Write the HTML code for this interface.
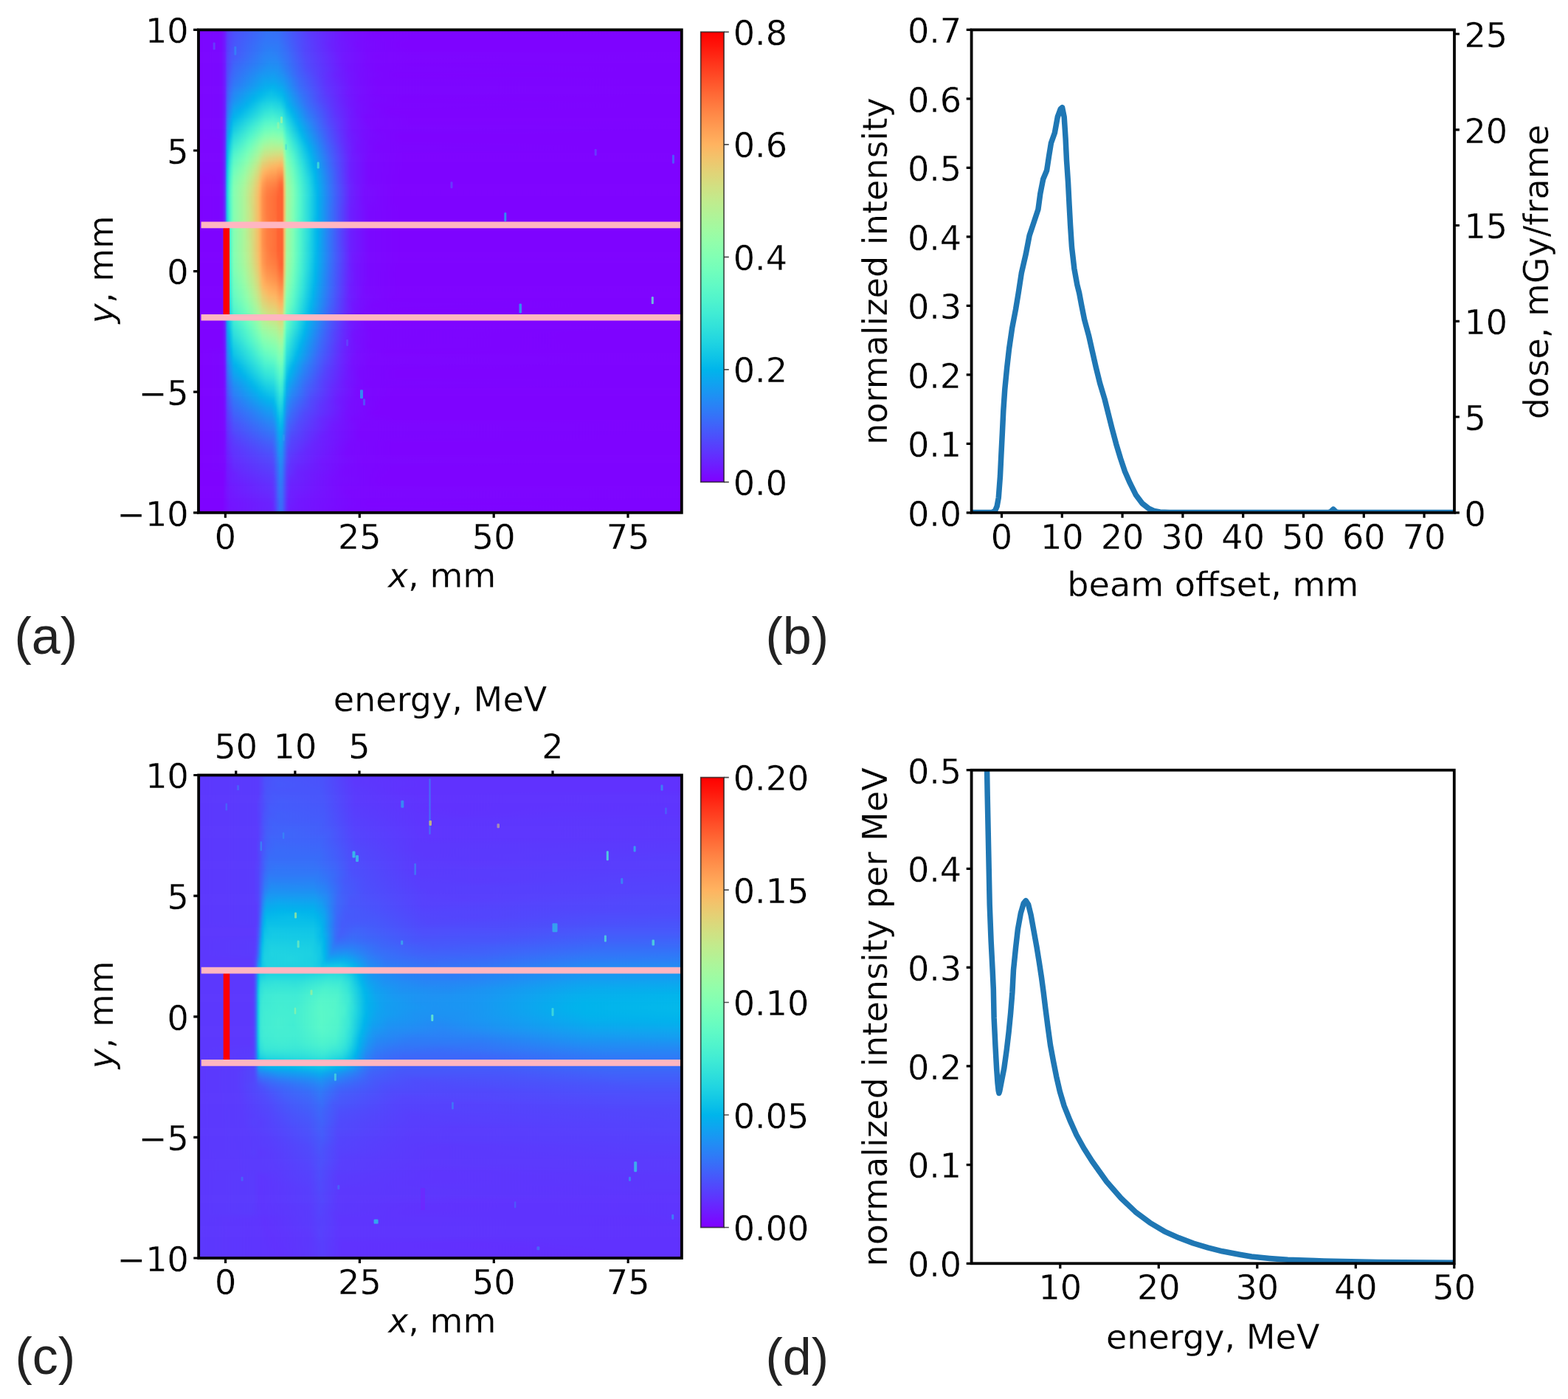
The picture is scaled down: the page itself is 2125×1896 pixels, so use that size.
<!DOCTYPE html>
<html lang="en">
<head>
<meta charset="utf-8">
<title>Beam profile and energy spectrum</title>
<style>
html,body{margin:0;padding:0;background:#fff}
body{width:2125px;height:1896px;overflow:hidden}
svg{display:block;filter:blur(0.6px)}
.t{font-family:"DejaVu Sans","Liberation Sans",sans-serif;font-size:46.1px;fill:#000;stroke:#fff;stroke-width:0.3px;paint-order:fill stroke}
.i{font-style:italic}
.p{font-family:"Liberation Sans","DejaVu Sans",sans-serif;font-size:70px;fill:#222}
</style>
</head>
<body>
<svg width="2125" height="1896" viewBox="0 0 2125 1896">
<defs>
<linearGradient id="a0"><stop offset="0" stop-color="#7c06ff"/><stop offset="0.0457" stop-color="#7a09ff"/><stop offset="0.0502" stop-color="#7610ff"/><stop offset="0.0548" stop-color="#6e1cff"/><stop offset="0.0594" stop-color="#5c38fd"/><stop offset="0.0639" stop-color="#5444fd"/><stop offset="0.0776" stop-color="#4a53fb"/><stop offset="0.1416" stop-color="#3670f8"/><stop offset="0.1598" stop-color="#3670f8"/><stop offset="0.1826" stop-color="#4062fa"/><stop offset="0.2237" stop-color="#583efd"/><stop offset="0.3059" stop-color="#7413ff"/><stop offset="0.3653" stop-color="#7c06ff"/><stop offset="1" stop-color="#7e03ff"/></linearGradient>
<linearGradient id="a1"><stop offset="0" stop-color="#7c06ff"/><stop offset="0.0457" stop-color="#7a09ff"/><stop offset="0.0502" stop-color="#7610ff"/><stop offset="0.0548" stop-color="#6e1cff"/><stop offset="0.0594" stop-color="#5c38fd"/><stop offset="0.0639" stop-color="#5444fd"/><stop offset="0.0776" stop-color="#4a53fb"/><stop offset="0.1416" stop-color="#3670f8"/><stop offset="0.1598" stop-color="#3670f8"/><stop offset="0.1826" stop-color="#4062fa"/><stop offset="0.2237" stop-color="#583efd"/><stop offset="0.3059" stop-color="#7413ff"/><stop offset="0.3653" stop-color="#7c06ff"/><stop offset="1" stop-color="#7e03ff"/></linearGradient>
<linearGradient id="a2"><stop offset="0" stop-color="#7c06ff"/><stop offset="0.0457" stop-color="#7a09ff"/><stop offset="0.0502" stop-color="#7610ff"/><stop offset="0.0548" stop-color="#6e1cff"/><stop offset="0.0594" stop-color="#5a3bfd"/><stop offset="0.0731" stop-color="#4c50fc"/><stop offset="0.1416" stop-color="#3473f8"/><stop offset="0.1644" stop-color="#3670f8"/><stop offset="0.2329" stop-color="#5c38fd"/><stop offset="0.3059" stop-color="#7413ff"/><stop offset="0.3653" stop-color="#7c06ff"/><stop offset="1" stop-color="#7e03ff"/></linearGradient>
<linearGradient id="a3"><stop offset="0" stop-color="#7c06ff"/><stop offset="0.0457" stop-color="#7a09ff"/><stop offset="0.0502" stop-color="#7610ff"/><stop offset="0.0548" stop-color="#6e1cff"/><stop offset="0.0594" stop-color="#5a3bfd"/><stop offset="0.0639" stop-color="#5247fc"/><stop offset="0.0776" stop-color="#4856fb"/><stop offset="0.1416" stop-color="#3176f8"/><stop offset="0.1644" stop-color="#3473f8"/><stop offset="0.2283" stop-color="#583efd"/><stop offset="0.2922" stop-color="#7019ff"/><stop offset="0.347" stop-color="#7a09ff"/><stop offset="0.4429" stop-color="#7e03ff"/><stop offset="1" stop-color="#7e03ff"/></linearGradient>
<linearGradient id="a4"><stop offset="0" stop-color="#7c06ff"/><stop offset="0.0457" stop-color="#7a09ff"/><stop offset="0.0502" stop-color="#7610ff"/><stop offset="0.0548" stop-color="#6e1cff"/><stop offset="0.0594" stop-color="#583efd"/><stop offset="0.0731" stop-color="#4856fb"/><stop offset="0.137" stop-color="#3079f7"/><stop offset="0.1644" stop-color="#3079f7"/><stop offset="0.2146" stop-color="#504afc"/><stop offset="0.274" stop-color="#6a22fe"/><stop offset="0.3288" stop-color="#780dff"/><stop offset="0.4201" stop-color="#7e03ff"/><stop offset="1" stop-color="#7e03ff"/></linearGradient>
<linearGradient id="a5"><stop offset="0" stop-color="#7c06ff"/><stop offset="0.0457" stop-color="#7a09ff"/><stop offset="0.0502" stop-color="#7610ff"/><stop offset="0.0548" stop-color="#6e1cff"/><stop offset="0.0594" stop-color="#583efd"/><stop offset="0.0685" stop-color="#4a53fb"/><stop offset="0.0959" stop-color="#3e65fa"/><stop offset="0.1461" stop-color="#2981f6"/><stop offset="0.1644" stop-color="#2e7bf7"/><stop offset="0.1826" stop-color="#386df9"/><stop offset="0.2192" stop-color="#5247fc"/><stop offset="0.2877" stop-color="#6e1cff"/><stop offset="0.347" stop-color="#7a09ff"/><stop offset="0.4429" stop-color="#7e03ff"/><stop offset="1" stop-color="#7e03ff"/></linearGradient>
<linearGradient id="a6"><stop offset="0" stop-color="#7c06ff"/><stop offset="0.0457" stop-color="#7a09ff"/><stop offset="0.0502" stop-color="#7610ff"/><stop offset="0.0548" stop-color="#6e1cff"/><stop offset="0.0594" stop-color="#5641fd"/><stop offset="0.0685" stop-color="#4856fb"/><stop offset="0.137" stop-color="#2884f6"/><stop offset="0.1598" stop-color="#2884f6"/><stop offset="0.1872" stop-color="#386df9"/><stop offset="0.2192" stop-color="#504afc"/><stop offset="0.3014" stop-color="#7216ff"/><stop offset="0.3653" stop-color="#7c06ff"/><stop offset="1" stop-color="#7e03ff"/></linearGradient>
<linearGradient id="a7"><stop offset="0" stop-color="#7c06ff"/><stop offset="0.0457" stop-color="#7a09ff"/><stop offset="0.0502" stop-color="#7610ff"/><stop offset="0.0548" stop-color="#6e1cff"/><stop offset="0.0594" stop-color="#5444fd"/><stop offset="0.0731" stop-color="#4062fa"/><stop offset="0.1461" stop-color="#218cf4"/><stop offset="0.1644" stop-color="#2489f5"/><stop offset="0.2237" stop-color="#504afc"/><stop offset="0.2968" stop-color="#7019ff"/><stop offset="0.347" stop-color="#7a09ff"/><stop offset="0.4429" stop-color="#7e03ff"/><stop offset="1" stop-color="#7e03ff"/></linearGradient>
<linearGradient id="a8"><stop offset="0" stop-color="#7c06ff"/><stop offset="0.0457" stop-color="#7a09ff"/><stop offset="0.0502" stop-color="#7610ff"/><stop offset="0.0548" stop-color="#6e1cff"/><stop offset="0.0594" stop-color="#5247fc"/><stop offset="0.0731" stop-color="#3c68f9"/><stop offset="0.1416" stop-color="#1c93f3"/><stop offset="0.1644" stop-color="#1e91f3"/><stop offset="0.2237" stop-color="#4e4dfc"/><stop offset="0.3105" stop-color="#7413ff"/><stop offset="0.3699" stop-color="#7c06ff"/><stop offset="0.9772" stop-color="#7e03ff"/><stop offset="1" stop-color="#7e03ff"/></linearGradient>
<linearGradient id="a9"><stop offset="0" stop-color="#7c06ff"/><stop offset="0.0457" stop-color="#7a09ff"/><stop offset="0.0502" stop-color="#7610ff"/><stop offset="0.0548" stop-color="#6c1fff"/><stop offset="0.0594" stop-color="#504afc"/><stop offset="0.0685" stop-color="#3e65fa"/><stop offset="0.0776" stop-color="#3670f8"/><stop offset="0.1324" stop-color="#1898f2"/><stop offset="0.1553" stop-color="#149df1"/><stop offset="0.1735" stop-color="#1e91f3"/><stop offset="0.2055" stop-color="#3e65fa"/><stop offset="0.2511" stop-color="#5a3bfd"/><stop offset="0.2831" stop-color="#6a22fe"/><stop offset="0.3333" stop-color="#780dff"/><stop offset="0.411" stop-color="#7e03ff"/><stop offset="1" stop-color="#7e03ff"/></linearGradient>
<linearGradient id="a10"><stop offset="0" stop-color="#7c06ff"/><stop offset="0.0457" stop-color="#7a09ff"/><stop offset="0.0502" stop-color="#7610ff"/><stop offset="0.0548" stop-color="#6c1fff"/><stop offset="0.0594" stop-color="#4e4dfc"/><stop offset="0.0639" stop-color="#425ffa"/><stop offset="0.0731" stop-color="#3473f8"/><stop offset="0.137" stop-color="#0ea5ef"/><stop offset="0.1598" stop-color="#0ea5ef"/><stop offset="0.1781" stop-color="#1996f3"/><stop offset="0.21" stop-color="#3c68f9"/><stop offset="0.2648" stop-color="#6032fe"/><stop offset="0.3151" stop-color="#7413ff"/><stop offset="0.3653" stop-color="#7c06ff"/><stop offset="1" stop-color="#7e03ff"/></linearGradient>
<linearGradient id="a11"><stop offset="0" stop-color="#7c06ff"/><stop offset="0.0457" stop-color="#7a09ff"/><stop offset="0.0502" stop-color="#7610ff"/><stop offset="0.0548" stop-color="#6c1fff"/><stop offset="0.0594" stop-color="#4a53fb"/><stop offset="0.0639" stop-color="#3e65fa"/><stop offset="0.0731" stop-color="#2e7bf7"/><stop offset="0.137" stop-color="#06aeed"/><stop offset="0.1553" stop-color="#01b3ec"/><stop offset="0.1735" stop-color="#0ca7ef"/><stop offset="0.21" stop-color="#386df9"/><stop offset="0.2648" stop-color="#5e35fe"/><stop offset="0.3242" stop-color="#7610ff"/><stop offset="0.3744" stop-color="#7c06ff"/><stop offset="0.8813" stop-color="#7e03ff"/><stop offset="1" stop-color="#7e03ff"/></linearGradient>
<linearGradient id="a12"><stop offset="0" stop-color="#7c06ff"/><stop offset="0.0457" stop-color="#7a09ff"/><stop offset="0.0502" stop-color="#7610ff"/><stop offset="0.0548" stop-color="#6c1fff"/><stop offset="0.0594" stop-color="#4659fb"/><stop offset="0.0639" stop-color="#386df9"/><stop offset="0.0731" stop-color="#2686f5"/><stop offset="0.1279" stop-color="#00b5eb"/><stop offset="0.1507" stop-color="#0ac0e8"/><stop offset="0.1689" stop-color="#02b7eb"/><stop offset="0.1735" stop-color="#01b3ec"/><stop offset="0.21" stop-color="#3176f8"/><stop offset="0.2648" stop-color="#5c38fd"/><stop offset="0.3105" stop-color="#7216ff"/><stop offset="0.3653" stop-color="#7c06ff"/><stop offset="1" stop-color="#7e03ff"/></linearGradient>
<linearGradient id="a13"><stop offset="0" stop-color="#7c06ff"/><stop offset="0.0457" stop-color="#7a09ff"/><stop offset="0.0502" stop-color="#7610ff"/><stop offset="0.0548" stop-color="#6a22fe"/><stop offset="0.0594" stop-color="#425ffa"/><stop offset="0.0685" stop-color="#2884f6"/><stop offset="0.0776" stop-color="#1c93f3"/><stop offset="0.1142" stop-color="#00b5eb"/><stop offset="0.1416" stop-color="#14cae5"/><stop offset="0.1598" stop-color="#14cae5"/><stop offset="0.1735" stop-color="#0ac0e8"/><stop offset="0.1781" stop-color="#02b7eb"/><stop offset="0.2146" stop-color="#3079f7"/><stop offset="0.2511" stop-color="#504afc"/><stop offset="0.2968" stop-color="#6a22fe"/><stop offset="0.3333" stop-color="#780dff"/><stop offset="0.4247" stop-color="#7e03ff"/><stop offset="1" stop-color="#7e03ff"/></linearGradient>
<linearGradient id="a14"><stop offset="0" stop-color="#7c06ff"/><stop offset="0.0457" stop-color="#7a09ff"/><stop offset="0.0502" stop-color="#7610ff"/><stop offset="0.0548" stop-color="#6a22fe"/><stop offset="0.0594" stop-color="#3c68f9"/><stop offset="0.0639" stop-color="#2c7ef7"/><stop offset="0.0731" stop-color="#169bf2"/><stop offset="0.1005" stop-color="#01b3ec"/><stop offset="0.1324" stop-color="#1fd3e1"/><stop offset="0.1507" stop-color="#27dade"/><stop offset="0.1689" stop-color="#1fd3e1"/><stop offset="0.1781" stop-color="#0fc4e7"/><stop offset="0.1826" stop-color="#04b9ea"/><stop offset="0.1872" stop-color="#04b0ed"/><stop offset="0.2237" stop-color="#3473f8"/><stop offset="0.274" stop-color="#5c38fd"/><stop offset="0.3151" stop-color="#7216ff"/><stop offset="0.3653" stop-color="#7c06ff"/><stop offset="1" stop-color="#7e03ff"/></linearGradient>
<linearGradient id="a15"><stop offset="0" stop-color="#7c06ff"/><stop offset="0.0457" stop-color="#7a09ff"/><stop offset="0.0502" stop-color="#7610ff"/><stop offset="0.0548" stop-color="#6a22fe"/><stop offset="0.0594" stop-color="#386df9"/><stop offset="0.0639" stop-color="#2686f5"/><stop offset="0.0731" stop-color="#0ca7ef"/><stop offset="0.0868" stop-color="#01b3ec"/><stop offset="0.1096" stop-color="#14cae5"/><stop offset="0.137" stop-color="#31e1da"/><stop offset="0.1507" stop-color="#37e6d8"/><stop offset="0.1689" stop-color="#2fe0db"/><stop offset="0.1735" stop-color="#2adddd"/><stop offset="0.1826" stop-color="#10c6e6"/><stop offset="0.1918" stop-color="#00b5eb"/><stop offset="0.2283" stop-color="#3176f8"/><stop offset="0.2831" stop-color="#6032fe"/><stop offset="0.3288" stop-color="#7610ff"/><stop offset="0.3973" stop-color="#7e03ff"/><stop offset="1" stop-color="#7e03ff"/></linearGradient>
<linearGradient id="a16"><stop offset="0" stop-color="#7c06ff"/><stop offset="0.0457" stop-color="#7a09ff"/><stop offset="0.0502" stop-color="#7610ff"/><stop offset="0.0548" stop-color="#6826fe"/><stop offset="0.0594" stop-color="#3176f8"/><stop offset="0.0639" stop-color="#1e91f3"/><stop offset="0.0685" stop-color="#0ea5ef"/><stop offset="0.0731" stop-color="#01b3ec"/><stop offset="0.1005" stop-color="#18cde4"/><stop offset="0.137" stop-color="#42edd3"/><stop offset="0.1553" stop-color="#49f1d0"/><stop offset="0.1735" stop-color="#3dead5"/><stop offset="0.1826" stop-color="#1fd3e1"/><stop offset="0.1963" stop-color="#04b9ea"/><stop offset="0.2009" stop-color="#04b0ed"/><stop offset="0.2237" stop-color="#2686f5"/><stop offset="0.2785" stop-color="#5a3bfd"/><stop offset="0.3151" stop-color="#7019ff"/><stop offset="0.347" stop-color="#7a09ff"/><stop offset="0.4429" stop-color="#7e03ff"/><stop offset="1" stop-color="#7e03ff"/></linearGradient>
<linearGradient id="a17"><stop offset="0" stop-color="#7c06ff"/><stop offset="0.0457" stop-color="#7a09ff"/><stop offset="0.0502" stop-color="#7610ff"/><stop offset="0.0548" stop-color="#6826fe"/><stop offset="0.0594" stop-color="#2981f6"/><stop offset="0.0639" stop-color="#149df1"/><stop offset="0.0685" stop-color="#04b0ed"/><stop offset="0.0731" stop-color="#0ac0e8"/><stop offset="0.1142" stop-color="#39e7d7"/><stop offset="0.137" stop-color="#57f7ca"/><stop offset="0.1507" stop-color="#5df9c7"/><stop offset="0.1689" stop-color="#57f7ca"/><stop offset="0.1735" stop-color="#51f4cc"/><stop offset="0.1826" stop-color="#2ddedc"/><stop offset="0.2009" stop-color="#07bbea"/><stop offset="0.2055" stop-color="#01b3ec"/><stop offset="0.2329" stop-color="#2884f6"/><stop offset="0.2694" stop-color="#504afc"/><stop offset="0.3151" stop-color="#7019ff"/><stop offset="0.3516" stop-color="#7a09ff"/><stop offset="0.4384" stop-color="#7e03ff"/><stop offset="1" stop-color="#7e03ff"/></linearGradient>
<linearGradient id="a18"><stop offset="0" stop-color="#7c06ff"/><stop offset="0.0457" stop-color="#7a09ff"/><stop offset="0.0502" stop-color="#7610ff"/><stop offset="0.0548" stop-color="#6629fe"/><stop offset="0.0594" stop-color="#2489f5"/><stop offset="0.0639" stop-color="#0ca7ef"/><stop offset="0.0685" stop-color="#07bbea"/><stop offset="0.0731" stop-color="#17cbe4"/><stop offset="0.1096" stop-color="#44eed2"/><stop offset="0.137" stop-color="#6afdc0"/><stop offset="0.1553" stop-color="#72febb"/><stop offset="0.1689" stop-color="#6dfdbf"/><stop offset="0.1735" stop-color="#67fcc2"/><stop offset="0.1826" stop-color="#3ae8d6"/><stop offset="0.21" stop-color="#00b5eb"/><stop offset="0.2511" stop-color="#386df9"/><stop offset="0.2922" stop-color="#6032fe"/><stop offset="0.3196" stop-color="#7216ff"/><stop offset="0.3699" stop-color="#7c06ff"/><stop offset="0.9772" stop-color="#7e03ff"/><stop offset="1" stop-color="#7e03ff"/></linearGradient>
<linearGradient id="a19"><stop offset="0" stop-color="#7c06ff"/><stop offset="0.0457" stop-color="#7a09ff"/><stop offset="0.0502" stop-color="#7610ff"/><stop offset="0.0548" stop-color="#6629fe"/><stop offset="0.0594" stop-color="#1c93f3"/><stop offset="0.0639" stop-color="#01b3ec"/><stop offset="0.0731" stop-color="#24d8df"/><stop offset="0.1096" stop-color="#54f6cb"/><stop offset="0.137" stop-color="#81ffb4"/><stop offset="0.1553" stop-color="#88ffaf"/><stop offset="0.1689" stop-color="#84ffb2"/><stop offset="0.1735" stop-color="#7fffb5"/><stop offset="0.1781" stop-color="#62fbc4"/><stop offset="0.1826" stop-color="#49f1d0"/><stop offset="0.2055" stop-color="#14cae5"/><stop offset="0.2146" stop-color="#02b7eb"/><stop offset="0.2694" stop-color="#4856fb"/><stop offset="0.3105" stop-color="#6c1fff"/><stop offset="0.3425" stop-color="#780dff"/><stop offset="0.4155" stop-color="#7e03ff"/><stop offset="1" stop-color="#7e03ff"/></linearGradient>
<linearGradient id="a20"><stop offset="0" stop-color="#7c06ff"/><stop offset="0.0457" stop-color="#7c06ff"/><stop offset="0.0502" stop-color="#7610ff"/><stop offset="0.0548" stop-color="#642cfe"/><stop offset="0.0594" stop-color="#149df1"/><stop offset="0.0639" stop-color="#08bee9"/><stop offset="0.0685" stop-color="#1fd3e1"/><stop offset="0.0731" stop-color="#31e1da"/><stop offset="0.105" stop-color="#5ffac6"/><stop offset="0.1324" stop-color="#91feab"/><stop offset="0.1507" stop-color="#a1faa1"/><stop offset="0.1735" stop-color="#99fca6"/><stop offset="0.1781" stop-color="#77ffb9"/><stop offset="0.1826" stop-color="#59f8c9"/><stop offset="0.2009" stop-color="#2adddd"/><stop offset="0.2146" stop-color="#0dc2e8"/><stop offset="0.2192" stop-color="#04b9ea"/><stop offset="0.2237" stop-color="#04b0ed"/><stop offset="0.2694" stop-color="#445cfb"/><stop offset="0.2968" stop-color="#6032fe"/><stop offset="0.3196" stop-color="#7019ff"/><stop offset="0.3562" stop-color="#7a09ff"/><stop offset="0.4247" stop-color="#7e03ff"/><stop offset="1" stop-color="#7e03ff"/></linearGradient>
<linearGradient id="a21"><stop offset="0" stop-color="#7c06ff"/><stop offset="0.0457" stop-color="#7c06ff"/><stop offset="0.0502" stop-color="#7610ff"/><stop offset="0.0548" stop-color="#622ffe"/><stop offset="0.0594" stop-color="#0ca7ef"/><stop offset="0.0639" stop-color="#12c8e6"/><stop offset="0.0685" stop-color="#2adddd"/><stop offset="0.0731" stop-color="#3febd5"/><stop offset="0.105" stop-color="#6ffebe"/><stop offset="0.1279" stop-color="#9dfba4"/><stop offset="0.137" stop-color="#aff498"/><stop offset="0.1507" stop-color="#b6f193"/><stop offset="0.1689" stop-color="#b6f193"/><stop offset="0.1735" stop-color="#b3f396"/><stop offset="0.1781" stop-color="#8bfeae"/><stop offset="0.1826" stop-color="#67fcc2"/><stop offset="0.2009" stop-color="#37e6d8"/><stop offset="0.2192" stop-color="#0fc4e7"/><stop offset="0.2283" stop-color="#01b3ec"/><stop offset="0.2648" stop-color="#396bf9"/><stop offset="0.3059" stop-color="#6629fe"/><stop offset="0.3288" stop-color="#7413ff"/><stop offset="0.3699" stop-color="#7c06ff"/><stop offset="0.8767" stop-color="#7e03ff"/><stop offset="1" stop-color="#7e03ff"/></linearGradient>
<linearGradient id="a22"><stop offset="0" stop-color="#7c06ff"/><stop offset="0.0457" stop-color="#7c06ff"/><stop offset="0.0502" stop-color="#7610ff"/><stop offset="0.0548" stop-color="#622ffe"/><stop offset="0.0594" stop-color="#06aeed"/><stop offset="0.0639" stop-color="#1dd1e2"/><stop offset="0.0685" stop-color="#37e6d8"/><stop offset="0.0731" stop-color="#4df3ce"/><stop offset="0.1005" stop-color="#77ffb9"/><stop offset="0.1233" stop-color="#a4f89f"/><stop offset="0.137" stop-color="#c4e88a"/><stop offset="0.1553" stop-color="#cfe184"/><stop offset="0.1689" stop-color="#d1e082"/><stop offset="0.1735" stop-color="#cde385"/><stop offset="0.1781" stop-color="#9ffaa2"/><stop offset="0.1826" stop-color="#74feba"/><stop offset="0.1963" stop-color="#4ff3cd"/><stop offset="0.2192" stop-color="#17cbe4"/><stop offset="0.2283" stop-color="#07bbea"/><stop offset="0.2329" stop-color="#04b0ed"/><stop offset="0.274" stop-color="#425ffa"/><stop offset="0.3059" stop-color="#642cfe"/><stop offset="0.3196" stop-color="#7019ff"/><stop offset="0.3562" stop-color="#7a09ff"/><stop offset="0.4247" stop-color="#7e03ff"/><stop offset="1" stop-color="#7e03ff"/></linearGradient>
<linearGradient id="a23"><stop offset="0" stop-color="#7c06ff"/><stop offset="0.0457" stop-color="#7c06ff"/><stop offset="0.0502" stop-color="#7610ff"/><stop offset="0.0548" stop-color="#622ffe"/><stop offset="0.0594" stop-color="#02b7eb"/><stop offset="0.0639" stop-color="#27dade"/><stop offset="0.0685" stop-color="#41ecd4"/><stop offset="0.0731" stop-color="#59f8c9"/><stop offset="0.1005" stop-color="#84ffb2"/><stop offset="0.1233" stop-color="#b6f193"/><stop offset="0.1324" stop-color="#d3de81"/><stop offset="0.1461" stop-color="#e3d176"/><stop offset="0.1689" stop-color="#ebca70"/><stop offset="0.1735" stop-color="#e6cd73"/><stop offset="0.1781" stop-color="#b1f397"/><stop offset="0.1826" stop-color="#81ffb4"/><stop offset="0.1963" stop-color="#59f8c9"/><stop offset="0.2146" stop-color="#29dbde"/><stop offset="0.2329" stop-color="#04b9ea"/><stop offset="0.2374" stop-color="#06aeed"/><stop offset="0.2785" stop-color="#445cfb"/><stop offset="0.3151" stop-color="#6c1fff"/><stop offset="0.3516" stop-color="#7a09ff"/><stop offset="0.4292" stop-color="#7e03ff"/><stop offset="1" stop-color="#7e03ff"/></linearGradient>
<linearGradient id="a24"><stop offset="0" stop-color="#7c06ff"/><stop offset="0.0457" stop-color="#7c06ff"/><stop offset="0.0502" stop-color="#7610ff"/><stop offset="0.0548" stop-color="#6032fe"/><stop offset="0.0594" stop-color="#08bee9"/><stop offset="0.0639" stop-color="#2fe0db"/><stop offset="0.0685" stop-color="#4df3ce"/><stop offset="0.0731" stop-color="#64fbc3"/><stop offset="0.1005" stop-color="#93fda9"/><stop offset="0.1187" stop-color="#bded8f"/><stop offset="0.1279" stop-color="#d6db7e"/><stop offset="0.1324" stop-color="#e6cd73"/><stop offset="0.1507" stop-color="#f9bb66"/><stop offset="0.1644" stop-color="#ffb562"/><stop offset="0.1689" stop-color="#ffb05f"/><stop offset="0.1735" stop-color="#ffb562"/><stop offset="0.1781" stop-color="#c3ea8c"/><stop offset="0.1826" stop-color="#8dfead"/><stop offset="0.1963" stop-color="#64fbc3"/><stop offset="0.2146" stop-color="#32e3da"/><stop offset="0.2374" stop-color="#00b5eb"/><stop offset="0.2785" stop-color="#425ffa"/><stop offset="0.3151" stop-color="#6c1fff"/><stop offset="0.3516" stop-color="#7a09ff"/><stop offset="0.4292" stop-color="#7e03ff"/><stop offset="1" stop-color="#7e03ff"/></linearGradient>
<linearGradient id="a25"><stop offset="0" stop-color="#7c06ff"/><stop offset="0.0457" stop-color="#7c06ff"/><stop offset="0.0502" stop-color="#7610ff"/><stop offset="0.0548" stop-color="#6032fe"/><stop offset="0.0594" stop-color="#0fc4e7"/><stop offset="0.0639" stop-color="#37e6d8"/><stop offset="0.0685" stop-color="#54f6cb"/><stop offset="0.0731" stop-color="#6ffebe"/><stop offset="0.0959" stop-color="#96fca7"/><stop offset="0.1142" stop-color="#c1eb8d"/><stop offset="0.1233" stop-color="#d6db7e"/><stop offset="0.1324" stop-color="#f6be68"/><stop offset="0.137" stop-color="#ffb562"/><stop offset="0.1507" stop-color="#ffa759"/><stop offset="0.1598" stop-color="#ffa558"/><stop offset="0.1644" stop-color="#ff9b52"/><stop offset="0.1735" stop-color="#ff9b52"/><stop offset="0.1781" stop-color="#d3de81"/><stop offset="0.1826" stop-color="#96fca7"/><stop offset="0.1963" stop-color="#6dfdbf"/><stop offset="0.2146" stop-color="#39e7d7"/><stop offset="0.2374" stop-color="#07bbea"/><stop offset="0.242" stop-color="#01b3ec"/><stop offset="0.2694" stop-color="#3176f8"/><stop offset="0.3059" stop-color="#622ffe"/><stop offset="0.3151" stop-color="#6c1fff"/><stop offset="0.3516" stop-color="#7a09ff"/><stop offset="0.4201" stop-color="#7e03ff"/><stop offset="1" stop-color="#7e03ff"/></linearGradient>
<linearGradient id="a26"><stop offset="0" stop-color="#7e03ff"/><stop offset="0.0457" stop-color="#7c06ff"/><stop offset="0.0502" stop-color="#7610ff"/><stop offset="0.0548" stop-color="#5e35fe"/><stop offset="0.0594" stop-color="#12c8e6"/><stop offset="0.0639" stop-color="#3dead5"/><stop offset="0.0685" stop-color="#5df9c7"/><stop offset="0.0731" stop-color="#79ffb8"/><stop offset="0.0959" stop-color="#a1faa1"/><stop offset="0.1096" stop-color="#c1eb8d"/><stop offset="0.1233" stop-color="#e3d176"/><stop offset="0.1324" stop-color="#ffae5e"/><stop offset="0.1416" stop-color="#ff9b52"/><stop offset="0.1598" stop-color="#ff914c"/><stop offset="0.1689" stop-color="#ff8143"/><stop offset="0.1735" stop-color="#ff8143"/><stop offset="0.1781" stop-color="#dfd579"/><stop offset="0.1826" stop-color="#9ffaa2"/><stop offset="0.1963" stop-color="#74feba"/><stop offset="0.21" stop-color="#4af2cf"/><stop offset="0.2283" stop-color="#21d5e1"/><stop offset="0.242" stop-color="#02b7eb"/><stop offset="0.2877" stop-color="#4a53fb"/><stop offset="0.3151" stop-color="#6c1fff"/><stop offset="0.3516" stop-color="#7a09ff"/><stop offset="0.4201" stop-color="#7e03ff"/><stop offset="1" stop-color="#7e03ff"/></linearGradient>
<linearGradient id="a27"><stop offset="0" stop-color="#7e03ff"/><stop offset="0.0457" stop-color="#7c06ff"/><stop offset="0.0502" stop-color="#7610ff"/><stop offset="0.0548" stop-color="#5e35fe"/><stop offset="0.0594" stop-color="#17cbe4"/><stop offset="0.0639" stop-color="#41ecd4"/><stop offset="0.0685" stop-color="#62fbc4"/><stop offset="0.0731" stop-color="#7fffb5"/><stop offset="0.0959" stop-color="#a8f79c"/><stop offset="0.1142" stop-color="#d4dd80"/><stop offset="0.1233" stop-color="#edc86f"/><stop offset="0.1279" stop-color="#ffb562"/><stop offset="0.1324" stop-color="#ffa055"/><stop offset="0.1416" stop-color="#ff8c49"/><stop offset="0.1598" stop-color="#ff8143"/><stop offset="0.1689" stop-color="#ff6b37"/><stop offset="0.1735" stop-color="#ff6d38"/><stop offset="0.1781" stop-color="#ebca70"/><stop offset="0.1826" stop-color="#a4f89f"/><stop offset="0.1963" stop-color="#7affb7"/><stop offset="0.21" stop-color="#4ff3cd"/><stop offset="0.2283" stop-color="#24d8df"/><stop offset="0.242" stop-color="#04b9ea"/><stop offset="0.2466" stop-color="#04b0ed"/><stop offset="0.2785" stop-color="#3c68f9"/><stop offset="0.3105" stop-color="#6629fe"/><stop offset="0.3242" stop-color="#7019ff"/><stop offset="0.3516" stop-color="#7a09ff"/><stop offset="0.4201" stop-color="#7e03ff"/><stop offset="1" stop-color="#7e03ff"/></linearGradient>
<linearGradient id="a28"><stop offset="0" stop-color="#7e03ff"/><stop offset="0.0457" stop-color="#7c06ff"/><stop offset="0.0502" stop-color="#780dff"/><stop offset="0.0548" stop-color="#5e35fe"/><stop offset="0.0594" stop-color="#18cde4"/><stop offset="0.0639" stop-color="#44eed2"/><stop offset="0.0685" stop-color="#67fcc2"/><stop offset="0.0731" stop-color="#83ffb3"/><stop offset="0.0959" stop-color="#aff498"/><stop offset="0.1096" stop-color="#cfe184"/><stop offset="0.1233" stop-color="#f3c26b"/><stop offset="0.1279" stop-color="#ffae5e"/><stop offset="0.1324" stop-color="#ff964f"/><stop offset="0.1416" stop-color="#ff8143"/><stop offset="0.1598" stop-color="#ff733b"/><stop offset="0.1689" stop-color="#ff6232"/><stop offset="0.1735" stop-color="#ff6232"/><stop offset="0.1781" stop-color="#f1c46c"/><stop offset="0.1826" stop-color="#a8f79c"/><stop offset="0.1963" stop-color="#7fffb5"/><stop offset="0.21" stop-color="#52f5cb"/><stop offset="0.2329" stop-color="#1dd1e2"/><stop offset="0.242" stop-color="#07bbea"/><stop offset="0.2466" stop-color="#01b3ec"/><stop offset="0.274" stop-color="#3473f8"/><stop offset="0.3151" stop-color="#6a22fe"/><stop offset="0.3425" stop-color="#780dff"/><stop offset="0.4064" stop-color="#7e03ff"/><stop offset="1" stop-color="#7e03ff"/></linearGradient>
<linearGradient id="a29"><stop offset="0" stop-color="#7e03ff"/><stop offset="0.0457" stop-color="#7c06ff"/><stop offset="0.0502" stop-color="#780dff"/><stop offset="0.0548" stop-color="#5e35fe"/><stop offset="0.0594" stop-color="#1acfe3"/><stop offset="0.0639" stop-color="#47efd1"/><stop offset="0.0685" stop-color="#69fcc1"/><stop offset="0.0731" stop-color="#84ffb2"/><stop offset="0.0959" stop-color="#b1f397"/><stop offset="0.1142" stop-color="#dfd579"/><stop offset="0.1233" stop-color="#f6be68"/><stop offset="0.1279" stop-color="#ffa95b"/><stop offset="0.1324" stop-color="#ff914c"/><stop offset="0.1416" stop-color="#ff7b40"/><stop offset="0.1598" stop-color="#ff6d38"/><stop offset="0.1644" stop-color="#ff6232"/><stop offset="0.1735" stop-color="#ff6232"/><stop offset="0.1781" stop-color="#f4c069"/><stop offset="0.1826" stop-color="#abf69b"/><stop offset="0.1963" stop-color="#81ffb4"/><stop offset="0.21" stop-color="#54f6cb"/><stop offset="0.2283" stop-color="#29dbde"/><stop offset="0.2466" stop-color="#01b3ec"/><stop offset="0.2785" stop-color="#396bf9"/><stop offset="0.3151" stop-color="#6a22fe"/><stop offset="0.3425" stop-color="#780dff"/><stop offset="0.4064" stop-color="#7e03ff"/><stop offset="1" stop-color="#7e03ff"/></linearGradient>
<linearGradient id="a30"><stop offset="0" stop-color="#7e03ff"/><stop offset="0.0457" stop-color="#7c06ff"/><stop offset="0.0502" stop-color="#780dff"/><stop offset="0.0548" stop-color="#5e35fe"/><stop offset="0.0594" stop-color="#1acfe3"/><stop offset="0.0639" stop-color="#47efd1"/><stop offset="0.0685" stop-color="#69fcc1"/><stop offset="0.0731" stop-color="#84ffb2"/><stop offset="0.0959" stop-color="#b1f397"/><stop offset="0.1142" stop-color="#dfd579"/><stop offset="0.1233" stop-color="#f6be68"/><stop offset="0.1279" stop-color="#ffa95b"/><stop offset="0.1324" stop-color="#ff914c"/><stop offset="0.1416" stop-color="#ff7b40"/><stop offset="0.1598" stop-color="#ff6d38"/><stop offset="0.1644" stop-color="#ff6232"/><stop offset="0.1735" stop-color="#ff6232"/><stop offset="0.1781" stop-color="#f4c069"/><stop offset="0.1826" stop-color="#abf69b"/><stop offset="0.1963" stop-color="#81ffb4"/><stop offset="0.21" stop-color="#54f6cb"/><stop offset="0.2329" stop-color="#1dd1e2"/><stop offset="0.2466" stop-color="#01b3ec"/><stop offset="0.2785" stop-color="#396bf9"/><stop offset="0.3151" stop-color="#6a22fe"/><stop offset="0.3425" stop-color="#780dff"/><stop offset="0.4064" stop-color="#7e03ff"/><stop offset="1" stop-color="#7e03ff"/></linearGradient>
<linearGradient id="a31"><stop offset="0" stop-color="#7e03ff"/><stop offset="0.0457" stop-color="#7c06ff"/><stop offset="0.0502" stop-color="#780dff"/><stop offset="0.0548" stop-color="#5e35fe"/><stop offset="0.0594" stop-color="#1acfe3"/><stop offset="0.0639" stop-color="#44eed2"/><stop offset="0.0685" stop-color="#67fcc2"/><stop offset="0.0731" stop-color="#84ffb2"/><stop offset="0.0959" stop-color="#b1f397"/><stop offset="0.105" stop-color="#c6e789"/><stop offset="0.1233" stop-color="#f6be68"/><stop offset="0.1279" stop-color="#ffa95b"/><stop offset="0.1324" stop-color="#ff914c"/><stop offset="0.1416" stop-color="#ff7b40"/><stop offset="0.1598" stop-color="#ff6d38"/><stop offset="0.1644" stop-color="#ff6232"/><stop offset="0.1735" stop-color="#ff6232"/><stop offset="0.1781" stop-color="#f4c069"/><stop offset="0.1826" stop-color="#abf69b"/><stop offset="0.1963" stop-color="#7fffb5"/><stop offset="0.21" stop-color="#54f6cb"/><stop offset="0.2329" stop-color="#1dd1e2"/><stop offset="0.2466" stop-color="#01b3ec"/><stop offset="0.274" stop-color="#3473f8"/><stop offset="0.3151" stop-color="#6c1fff"/><stop offset="0.3516" stop-color="#7a09ff"/><stop offset="0.4201" stop-color="#7e03ff"/><stop offset="1" stop-color="#7e03ff"/></linearGradient>
<linearGradient id="a32"><stop offset="0" stop-color="#7e03ff"/><stop offset="0.0457" stop-color="#7c06ff"/><stop offset="0.0502" stop-color="#780dff"/><stop offset="0.0548" stop-color="#6032fe"/><stop offset="0.0594" stop-color="#1acfe3"/><stop offset="0.0639" stop-color="#44eed2"/><stop offset="0.0685" stop-color="#67fcc2"/><stop offset="0.0731" stop-color="#84ffb2"/><stop offset="0.0959" stop-color="#b1f397"/><stop offset="0.1096" stop-color="#d1e082"/><stop offset="0.1233" stop-color="#f6be68"/><stop offset="0.1279" stop-color="#ffa95b"/><stop offset="0.1324" stop-color="#ff914c"/><stop offset="0.1416" stop-color="#ff7b40"/><stop offset="0.1598" stop-color="#ff6d38"/><stop offset="0.1644" stop-color="#ff6232"/><stop offset="0.1735" stop-color="#ff6232"/><stop offset="0.1781" stop-color="#f4c069"/><stop offset="0.1826" stop-color="#abf69b"/><stop offset="0.1963" stop-color="#7fffb5"/><stop offset="0.21" stop-color="#54f6cb"/><stop offset="0.2329" stop-color="#1dd1e2"/><stop offset="0.2466" stop-color="#01b3ec"/><stop offset="0.274" stop-color="#3473f8"/><stop offset="0.3151" stop-color="#6c1fff"/><stop offset="0.3516" stop-color="#7a09ff"/><stop offset="0.4201" stop-color="#7e03ff"/><stop offset="1" stop-color="#7e03ff"/></linearGradient>
<linearGradient id="a33"><stop offset="0" stop-color="#7e03ff"/><stop offset="0.0457" stop-color="#7c06ff"/><stop offset="0.0502" stop-color="#780dff"/><stop offset="0.0548" stop-color="#6032fe"/><stop offset="0.0594" stop-color="#18cde4"/><stop offset="0.0639" stop-color="#44eed2"/><stop offset="0.0685" stop-color="#67fcc2"/><stop offset="0.0731" stop-color="#84ffb2"/><stop offset="0.0959" stop-color="#b1f397"/><stop offset="0.1096" stop-color="#d1e082"/><stop offset="0.1233" stop-color="#f6be68"/><stop offset="0.1279" stop-color="#ffac5c"/><stop offset="0.1324" stop-color="#ff934d"/><stop offset="0.1416" stop-color="#ff7e41"/><stop offset="0.1507" stop-color="#ff733b"/><stop offset="0.1598" stop-color="#ff703a"/><stop offset="0.1644" stop-color="#ff6232"/><stop offset="0.1735" stop-color="#ff6232"/><stop offset="0.1781" stop-color="#f3c26b"/><stop offset="0.1826" stop-color="#abf69b"/><stop offset="0.1963" stop-color="#7fffb5"/><stop offset="0.21" stop-color="#52f5cb"/><stop offset="0.2283" stop-color="#27dade"/><stop offset="0.242" stop-color="#07bbea"/><stop offset="0.2466" stop-color="#01b3ec"/><stop offset="0.274" stop-color="#3473f8"/><stop offset="0.3151" stop-color="#6c1fff"/><stop offset="0.3516" stop-color="#7a09ff"/><stop offset="0.4201" stop-color="#7e03ff"/><stop offset="1" stop-color="#7e03ff"/></linearGradient>
<linearGradient id="a34"><stop offset="0" stop-color="#7e03ff"/><stop offset="0.0457" stop-color="#7c06ff"/><stop offset="0.0502" stop-color="#780dff"/><stop offset="0.0548" stop-color="#6032fe"/><stop offset="0.0594" stop-color="#18cde4"/><stop offset="0.0639" stop-color="#44eed2"/><stop offset="0.0685" stop-color="#67fcc2"/><stop offset="0.0731" stop-color="#84ffb2"/><stop offset="0.0959" stop-color="#aff498"/><stop offset="0.1142" stop-color="#ddd67a"/><stop offset="0.1233" stop-color="#f4c069"/><stop offset="0.1279" stop-color="#ffac5c"/><stop offset="0.1324" stop-color="#ff934d"/><stop offset="0.1416" stop-color="#ff7e41"/><stop offset="0.1461" stop-color="#ff763d"/><stop offset="0.1598" stop-color="#ff703a"/><stop offset="0.1644" stop-color="#ff6232"/><stop offset="0.1735" stop-color="#ff6232"/><stop offset="0.1781" stop-color="#f3c26b"/><stop offset="0.1826" stop-color="#abf69b"/><stop offset="0.1963" stop-color="#7fffb5"/><stop offset="0.21" stop-color="#52f5cb"/><stop offset="0.2329" stop-color="#1dd1e2"/><stop offset="0.242" stop-color="#07bbea"/><stop offset="0.2466" stop-color="#01b3ec"/><stop offset="0.274" stop-color="#3473f8"/><stop offset="0.3151" stop-color="#6c1fff"/><stop offset="0.3516" stop-color="#7a09ff"/><stop offset="0.4201" stop-color="#7e03ff"/><stop offset="1" stop-color="#7e03ff"/></linearGradient>
<linearGradient id="a35"><stop offset="0" stop-color="#7e03ff"/><stop offset="0.0457" stop-color="#7e03ff"/><stop offset="0.0502" stop-color="#780dff"/><stop offset="0.0548" stop-color="#6032fe"/><stop offset="0.0594" stop-color="#18cde4"/><stop offset="0.0639" stop-color="#44eed2"/><stop offset="0.0685" stop-color="#67fcc2"/><stop offset="0.0731" stop-color="#83ffb3"/><stop offset="0.0959" stop-color="#aff498"/><stop offset="0.1142" stop-color="#ddd67a"/><stop offset="0.1233" stop-color="#f4c069"/><stop offset="0.1279" stop-color="#ffac5c"/><stop offset="0.1324" stop-color="#ff934d"/><stop offset="0.1416" stop-color="#ff7e41"/><stop offset="0.1598" stop-color="#ff703a"/><stop offset="0.1644" stop-color="#ff6232"/><stop offset="0.1735" stop-color="#ff6232"/><stop offset="0.1781" stop-color="#f3c26b"/><stop offset="0.1826" stop-color="#a8f79c"/><stop offset="0.1963" stop-color="#7fffb5"/><stop offset="0.21" stop-color="#52f5cb"/><stop offset="0.2283" stop-color="#27dade"/><stop offset="0.242" stop-color="#07bbea"/><stop offset="0.2466" stop-color="#01b3ec"/><stop offset="0.274" stop-color="#3473f8"/><stop offset="0.2968" stop-color="#5641fd"/><stop offset="0.3151" stop-color="#6c1fff"/><stop offset="0.3516" stop-color="#7a09ff"/><stop offset="0.4201" stop-color="#7e03ff"/><stop offset="1" stop-color="#7e03ff"/></linearGradient>
<linearGradient id="a36"><stop offset="0" stop-color="#7e03ff"/><stop offset="0.0457" stop-color="#7e03ff"/><stop offset="0.0502" stop-color="#780dff"/><stop offset="0.0548" stop-color="#6032fe"/><stop offset="0.0594" stop-color="#18cde4"/><stop offset="0.0639" stop-color="#44eed2"/><stop offset="0.0685" stop-color="#67fcc2"/><stop offset="0.0731" stop-color="#83ffb3"/><stop offset="0.0959" stop-color="#aff498"/><stop offset="0.1142" stop-color="#ddd67a"/><stop offset="0.1233" stop-color="#f4c069"/><stop offset="0.1279" stop-color="#ffac5c"/><stop offset="0.1324" stop-color="#ff934d"/><stop offset="0.1416" stop-color="#ff7e41"/><stop offset="0.1598" stop-color="#ff703a"/><stop offset="0.1644" stop-color="#ff6232"/><stop offset="0.1735" stop-color="#ff6232"/><stop offset="0.1781" stop-color="#f3c26b"/><stop offset="0.1826" stop-color="#a8f79c"/><stop offset="0.1963" stop-color="#7fffb5"/><stop offset="0.21" stop-color="#52f5cb"/><stop offset="0.2283" stop-color="#27dade"/><stop offset="0.242" stop-color="#07bbea"/><stop offset="0.2466" stop-color="#01b3ec"/><stop offset="0.2694" stop-color="#2e7bf7"/><stop offset="0.2968" stop-color="#5641fd"/><stop offset="0.3151" stop-color="#6c1fff"/><stop offset="0.3516" stop-color="#7a09ff"/><stop offset="0.4201" stop-color="#7e03ff"/><stop offset="1" stop-color="#7e03ff"/></linearGradient>
<linearGradient id="a37"><stop offset="0" stop-color="#7e03ff"/><stop offset="0.0457" stop-color="#7e03ff"/><stop offset="0.0502" stop-color="#780dff"/><stop offset="0.0548" stop-color="#6032fe"/><stop offset="0.0594" stop-color="#18cde4"/><stop offset="0.0639" stop-color="#42edd3"/><stop offset="0.0685" stop-color="#64fbc3"/><stop offset="0.0731" stop-color="#83ffb3"/><stop offset="0.0959" stop-color="#aff498"/><stop offset="0.105" stop-color="#c3ea8c"/><stop offset="0.1233" stop-color="#f4c069"/><stop offset="0.1279" stop-color="#ffac5c"/><stop offset="0.1324" stop-color="#ff934d"/><stop offset="0.1416" stop-color="#ff7e41"/><stop offset="0.1598" stop-color="#ff703a"/><stop offset="0.1644" stop-color="#ff6232"/><stop offset="0.1735" stop-color="#ff6232"/><stop offset="0.1781" stop-color="#f3c26b"/><stop offset="0.1826" stop-color="#a8f79c"/><stop offset="0.1963" stop-color="#7dffb6"/><stop offset="0.21" stop-color="#52f5cb"/><stop offset="0.2329" stop-color="#1acfe3"/><stop offset="0.242" stop-color="#07bbea"/><stop offset="0.2466" stop-color="#01b3ec"/><stop offset="0.2694" stop-color="#2e7bf7"/><stop offset="0.2968" stop-color="#5641fd"/><stop offset="0.3151" stop-color="#6c1fff"/><stop offset="0.3516" stop-color="#7a09ff"/><stop offset="0.4201" stop-color="#7e03ff"/><stop offset="1" stop-color="#7e03ff"/></linearGradient>
<linearGradient id="a38"><stop offset="0" stop-color="#7e03ff"/><stop offset="0.0457" stop-color="#7e03ff"/><stop offset="0.0502" stop-color="#780dff"/><stop offset="0.0548" stop-color="#6032fe"/><stop offset="0.0594" stop-color="#18cde4"/><stop offset="0.0639" stop-color="#42edd3"/><stop offset="0.0685" stop-color="#64fbc3"/><stop offset="0.0731" stop-color="#83ffb3"/><stop offset="0.0959" stop-color="#aff498"/><stop offset="0.1096" stop-color="#cfe184"/><stop offset="0.1233" stop-color="#f4c069"/><stop offset="0.1279" stop-color="#ffae5e"/><stop offset="0.1324" stop-color="#ff964f"/><stop offset="0.1416" stop-color="#ff8143"/><stop offset="0.1507" stop-color="#ff763d"/><stop offset="0.1598" stop-color="#ff703a"/><stop offset="0.1644" stop-color="#ff6232"/><stop offset="0.1735" stop-color="#ff6232"/><stop offset="0.1781" stop-color="#f3c26b"/><stop offset="0.1826" stop-color="#a8f79c"/><stop offset="0.1963" stop-color="#7dffb6"/><stop offset="0.21" stop-color="#52f5cb"/><stop offset="0.2329" stop-color="#1acfe3"/><stop offset="0.242" stop-color="#07bbea"/><stop offset="0.2466" stop-color="#04b0ed"/><stop offset="0.2785" stop-color="#3c68f9"/><stop offset="0.3151" stop-color="#6c1fff"/><stop offset="0.3516" stop-color="#7a09ff"/><stop offset="0.4201" stop-color="#7e03ff"/><stop offset="1" stop-color="#7e03ff"/></linearGradient>
<linearGradient id="a39"><stop offset="0" stop-color="#7e03ff"/><stop offset="0.0457" stop-color="#7e03ff"/><stop offset="0.0502" stop-color="#780dff"/><stop offset="0.0548" stop-color="#6032fe"/><stop offset="0.0594" stop-color="#17cbe4"/><stop offset="0.0639" stop-color="#42edd3"/><stop offset="0.0685" stop-color="#64fbc3"/><stop offset="0.0731" stop-color="#81ffb4"/><stop offset="0.0959" stop-color="#adf59a"/><stop offset="0.105" stop-color="#c1eb8d"/><stop offset="0.1233" stop-color="#f3c26b"/><stop offset="0.1279" stop-color="#ffae5e"/><stop offset="0.1324" stop-color="#ff9850"/><stop offset="0.1416" stop-color="#ff8444"/><stop offset="0.1507" stop-color="#ff793e"/><stop offset="0.1598" stop-color="#ff733b"/><stop offset="0.1644" stop-color="#ff6533"/><stop offset="0.1735" stop-color="#ff6232"/><stop offset="0.1781" stop-color="#f1c46c"/><stop offset="0.1826" stop-color="#a6f89d"/><stop offset="0.1963" stop-color="#7dffb6"/><stop offset="0.21" stop-color="#51f4cc"/><stop offset="0.2329" stop-color="#1acfe3"/><stop offset="0.242" stop-color="#04b9ea"/><stop offset="0.2466" stop-color="#04b0ed"/><stop offset="0.2785" stop-color="#3c68f9"/><stop offset="0.3151" stop-color="#6c1fff"/><stop offset="0.3196" stop-color="#7019ff"/><stop offset="0.3516" stop-color="#7a09ff"/><stop offset="0.4201" stop-color="#7e03ff"/><stop offset="1" stop-color="#7e03ff"/></linearGradient>
<linearGradient id="a40"><stop offset="0" stop-color="#7e03ff"/><stop offset="0.0457" stop-color="#7e03ff"/><stop offset="0.0502" stop-color="#780dff"/><stop offset="0.0548" stop-color="#622ffe"/><stop offset="0.0594" stop-color="#17cbe4"/><stop offset="0.0639" stop-color="#41ecd4"/><stop offset="0.0685" stop-color="#62fbc4"/><stop offset="0.0731" stop-color="#7fffb5"/><stop offset="0.0959" stop-color="#abf69b"/><stop offset="0.1096" stop-color="#cbe486"/><stop offset="0.1233" stop-color="#efc66d"/><stop offset="0.1279" stop-color="#ffb360"/><stop offset="0.1324" stop-color="#ff9b52"/><stop offset="0.1416" stop-color="#ff8646"/><stop offset="0.1598" stop-color="#ff793e"/><stop offset="0.1689" stop-color="#ff6232"/><stop offset="0.1735" stop-color="#ff6232"/><stop offset="0.1781" stop-color="#edc86f"/><stop offset="0.1826" stop-color="#a4f89f"/><stop offset="0.1963" stop-color="#7affb7"/><stop offset="0.21" stop-color="#4ff3cd"/><stop offset="0.2283" stop-color="#22d6e0"/><stop offset="0.242" stop-color="#04b9ea"/><stop offset="0.2466" stop-color="#04b0ed"/><stop offset="0.274" stop-color="#3670f8"/><stop offset="0.3151" stop-color="#6c1fff"/><stop offset="0.3242" stop-color="#7216ff"/><stop offset="0.3516" stop-color="#7a09ff"/><stop offset="0.4201" stop-color="#7e03ff"/><stop offset="1" stop-color="#7e03ff"/></linearGradient>
<linearGradient id="a41"><stop offset="0" stop-color="#7e03ff"/><stop offset="0.0457" stop-color="#7e03ff"/><stop offset="0.0502" stop-color="#780dff"/><stop offset="0.0548" stop-color="#622ffe"/><stop offset="0.0594" stop-color="#14cae5"/><stop offset="0.0639" stop-color="#3febd5"/><stop offset="0.0685" stop-color="#5ffac6"/><stop offset="0.0731" stop-color="#7dffb6"/><stop offset="0.0959" stop-color="#a6f89d"/><stop offset="0.1096" stop-color="#c6e789"/><stop offset="0.1233" stop-color="#ebca70"/><stop offset="0.1279" stop-color="#fdb763"/><stop offset="0.1324" stop-color="#ffa256"/><stop offset="0.1416" stop-color="#ff8e4a"/><stop offset="0.1598" stop-color="#ff8143"/><stop offset="0.1689" stop-color="#ff6835"/><stop offset="0.1735" stop-color="#ff6835"/><stop offset="0.1781" stop-color="#e8cb72"/><stop offset="0.1826" stop-color="#a3f9a0"/><stop offset="0.1963" stop-color="#77ffb9"/><stop offset="0.21" stop-color="#4df3ce"/><stop offset="0.2283" stop-color="#21d5e1"/><stop offset="0.242" stop-color="#02b7eb"/><stop offset="0.2466" stop-color="#06aeed"/><stop offset="0.2785" stop-color="#3e65fa"/><stop offset="0.3151" stop-color="#6c1fff"/><stop offset="0.3242" stop-color="#7216ff"/><stop offset="0.3516" stop-color="#7a09ff"/><stop offset="0.411" stop-color="#7e03ff"/><stop offset="1" stop-color="#7e03ff"/></linearGradient>
<linearGradient id="a42"><stop offset="0" stop-color="#7e03ff"/><stop offset="0.0457" stop-color="#7e03ff"/><stop offset="0.0502" stop-color="#7a09ff"/><stop offset="0.0548" stop-color="#622ffe"/><stop offset="0.0594" stop-color="#10c6e6"/><stop offset="0.0639" stop-color="#3ae8d6"/><stop offset="0.0685" stop-color="#5af8c8"/><stop offset="0.0731" stop-color="#79ffb8"/><stop offset="0.0959" stop-color="#a1faa1"/><stop offset="0.1142" stop-color="#cde385"/><stop offset="0.1233" stop-color="#e4cf74"/><stop offset="0.1279" stop-color="#f6be68"/><stop offset="0.1324" stop-color="#ffa95b"/><stop offset="0.1416" stop-color="#ff964f"/><stop offset="0.1598" stop-color="#ff8947"/><stop offset="0.1689" stop-color="#ff733b"/><stop offset="0.1735" stop-color="#ff733b"/><stop offset="0.1781" stop-color="#e4cf74"/><stop offset="0.1826" stop-color="#9ffaa2"/><stop offset="0.1963" stop-color="#72febb"/><stop offset="0.2146" stop-color="#3febd5"/><stop offset="0.242" stop-color="#00b5eb"/><stop offset="0.274" stop-color="#386df9"/><stop offset="0.3105" stop-color="#6826fe"/><stop offset="0.3242" stop-color="#7216ff"/><stop offset="0.3516" stop-color="#7a09ff"/><stop offset="0.411" stop-color="#7e03ff"/><stop offset="1" stop-color="#7e03ff"/></linearGradient>
<linearGradient id="a43"><stop offset="0" stop-color="#7e03ff"/><stop offset="0.0457" stop-color="#7e03ff"/><stop offset="0.0502" stop-color="#7a09ff"/><stop offset="0.0548" stop-color="#622ffe"/><stop offset="0.0594" stop-color="#0fc4e7"/><stop offset="0.0639" stop-color="#37e6d8"/><stop offset="0.0685" stop-color="#57f7ca"/><stop offset="0.0731" stop-color="#72febb"/><stop offset="0.0959" stop-color="#9dfba4"/><stop offset="0.1142" stop-color="#c6e789"/><stop offset="0.1233" stop-color="#dfd579"/><stop offset="0.1324" stop-color="#ffb360"/><stop offset="0.1416" stop-color="#ffa055"/><stop offset="0.1598" stop-color="#ff934d"/><stop offset="0.1689" stop-color="#ff7e41"/><stop offset="0.1735" stop-color="#ff7e41"/><stop offset="0.1781" stop-color="#ddd67a"/><stop offset="0.1826" stop-color="#99fca6"/><stop offset="0.1963" stop-color="#6ffebe"/><stop offset="0.2146" stop-color="#3ae8d6"/><stop offset="0.2329" stop-color="#10c6e6"/><stop offset="0.242" stop-color="#01b3ec"/><stop offset="0.274" stop-color="#396bf9"/><stop offset="0.3105" stop-color="#6826fe"/><stop offset="0.3242" stop-color="#7216ff"/><stop offset="0.3516" stop-color="#7a09ff"/><stop offset="0.411" stop-color="#7e03ff"/><stop offset="1" stop-color="#7e03ff"/></linearGradient>
<linearGradient id="a44"><stop offset="0" stop-color="#7e03ff"/><stop offset="0.0457" stop-color="#7e03ff"/><stop offset="0.0502" stop-color="#7a09ff"/><stop offset="0.0548" stop-color="#642cfe"/><stop offset="0.0594" stop-color="#0ac0e8"/><stop offset="0.0639" stop-color="#32e3da"/><stop offset="0.0685" stop-color="#52f5cb"/><stop offset="0.0731" stop-color="#6dfdbf"/><stop offset="0.0959" stop-color="#94fda8"/><stop offset="0.1142" stop-color="#bfec8e"/><stop offset="0.1233" stop-color="#d6db7e"/><stop offset="0.1324" stop-color="#f9bb66"/><stop offset="0.137" stop-color="#ffb360"/><stop offset="0.1507" stop-color="#ffa558"/><stop offset="0.1598" stop-color="#ffa055"/><stop offset="0.1689" stop-color="#ff8c49"/><stop offset="0.1735" stop-color="#ff8c49"/><stop offset="0.1781" stop-color="#d4dd80"/><stop offset="0.1826" stop-color="#93fda9"/><stop offset="0.1963" stop-color="#69fcc1"/><stop offset="0.2146" stop-color="#37e6d8"/><stop offset="0.2374" stop-color="#04b9ea"/><stop offset="0.242" stop-color="#06aeed"/><stop offset="0.274" stop-color="#396bf9"/><stop offset="0.3059" stop-color="#642cfe"/><stop offset="0.3151" stop-color="#6e1cff"/><stop offset="0.347" stop-color="#7a09ff"/><stop offset="0.4155" stop-color="#7e03ff"/><stop offset="1" stop-color="#7e03ff"/></linearGradient>
<linearGradient id="a45"><stop offset="0" stop-color="#7e03ff"/><stop offset="0.0457" stop-color="#7e03ff"/><stop offset="0.0502" stop-color="#7a09ff"/><stop offset="0.0548" stop-color="#642cfe"/><stop offset="0.0594" stop-color="#07bbea"/><stop offset="0.0639" stop-color="#2fe0db"/><stop offset="0.0685" stop-color="#4df3ce"/><stop offset="0.0731" stop-color="#67fcc2"/><stop offset="0.1005" stop-color="#96fca7"/><stop offset="0.1187" stop-color="#c3ea8c"/><stop offset="0.1279" stop-color="#ddd67a"/><stop offset="0.1324" stop-color="#efc66d"/><stop offset="0.1461" stop-color="#ffb360"/><stop offset="0.1598" stop-color="#ffac5c"/><stop offset="0.1689" stop-color="#ff9850"/><stop offset="0.1735" stop-color="#ff9b52"/><stop offset="0.1781" stop-color="#cde385"/><stop offset="0.1826" stop-color="#8dfead"/><stop offset="0.1963" stop-color="#62fbc4"/><stop offset="0.2146" stop-color="#32e3da"/><stop offset="0.2374" stop-color="#00b5eb"/><stop offset="0.274" stop-color="#3c68f9"/><stop offset="0.3151" stop-color="#6e1cff"/><stop offset="0.347" stop-color="#7a09ff"/><stop offset="0.4155" stop-color="#7e03ff"/><stop offset="1" stop-color="#7e03ff"/></linearGradient>
<linearGradient id="a46"><stop offset="0" stop-color="#7e03ff"/><stop offset="0.0457" stop-color="#7e03ff"/><stop offset="0.0502" stop-color="#7a09ff"/><stop offset="0.0548" stop-color="#6629fe"/><stop offset="0.0594" stop-color="#02b7eb"/><stop offset="0.0639" stop-color="#29dbde"/><stop offset="0.0685" stop-color="#47efd1"/><stop offset="0.0731" stop-color="#61fac5"/><stop offset="0.1005" stop-color="#8ffeac"/><stop offset="0.1187" stop-color="#b9ef92"/><stop offset="0.1279" stop-color="#d3de81"/><stop offset="0.1324" stop-color="#e3d176"/><stop offset="0.1461" stop-color="#f4c069"/><stop offset="0.1598" stop-color="#fbb965"/><stop offset="0.1689" stop-color="#ffa759"/><stop offset="0.1735" stop-color="#ffa95b"/><stop offset="0.1781" stop-color="#c3ea8c"/><stop offset="0.1826" stop-color="#84ffb2"/><stop offset="0.1963" stop-color="#5df9c7"/><stop offset="0.2146" stop-color="#2ddedc"/><stop offset="0.2329" stop-color="#07bbea"/><stop offset="0.2374" stop-color="#04b0ed"/><stop offset="0.274" stop-color="#3e65fa"/><stop offset="0.3105" stop-color="#6a22fe"/><stop offset="0.3379" stop-color="#780dff"/><stop offset="0.4018" stop-color="#7e03ff"/><stop offset="1" stop-color="#7e03ff"/></linearGradient>
<linearGradient id="a47"><stop offset="0" stop-color="#7e03ff"/><stop offset="0.0457" stop-color="#7e03ff"/><stop offset="0.0502" stop-color="#7a09ff"/><stop offset="0.0548" stop-color="#6629fe"/><stop offset="0.0594" stop-color="#01b3ec"/><stop offset="0.0639" stop-color="#22d6e0"/><stop offset="0.0685" stop-color="#41ecd4"/><stop offset="0.0731" stop-color="#59f8c9"/><stop offset="0.1005" stop-color="#84ffb2"/><stop offset="0.1187" stop-color="#adf59a"/><stop offset="0.1279" stop-color="#c6e789"/><stop offset="0.1324" stop-color="#d6db7e"/><stop offset="0.1461" stop-color="#e6cd73"/><stop offset="0.1598" stop-color="#efc66d"/><stop offset="0.1689" stop-color="#ffb562"/><stop offset="0.1735" stop-color="#fbb965"/><stop offset="0.1781" stop-color="#b9ef92"/><stop offset="0.1826" stop-color="#7dffb6"/><stop offset="0.1963" stop-color="#57f7ca"/><stop offset="0.2146" stop-color="#27dade"/><stop offset="0.2329" stop-color="#02b7eb"/><stop offset="0.274" stop-color="#4062fa"/><stop offset="0.3105" stop-color="#6a22fe"/><stop offset="0.3196" stop-color="#7216ff"/><stop offset="0.3607" stop-color="#7c06ff"/><stop offset="0.8676" stop-color="#7e03ff"/><stop offset="1" stop-color="#7e03ff"/></linearGradient>
<linearGradient id="a48"><stop offset="0" stop-color="#7e03ff"/><stop offset="0.0457" stop-color="#7e03ff"/><stop offset="0.0502" stop-color="#7a09ff"/><stop offset="0.0548" stop-color="#6629fe"/><stop offset="0.0594" stop-color="#06aeed"/><stop offset="0.0639" stop-color="#1dd1e2"/><stop offset="0.0685" stop-color="#39e7d7"/><stop offset="0.0731" stop-color="#51f4cc"/><stop offset="0.1005" stop-color="#7affb7"/><stop offset="0.1233" stop-color="#adf59a"/><stop offset="0.1324" stop-color="#c8e688"/><stop offset="0.1461" stop-color="#dbd87b"/><stop offset="0.1598" stop-color="#e1d377"/><stop offset="0.1689" stop-color="#f1c46c"/><stop offset="0.1735" stop-color="#edc86f"/><stop offset="0.1781" stop-color="#aff498"/><stop offset="0.1826" stop-color="#74feba"/><stop offset="0.2009" stop-color="#42edd3"/><stop offset="0.2192" stop-color="#18cde4"/><stop offset="0.2283" stop-color="#07bbea"/><stop offset="0.2329" stop-color="#04b0ed"/><stop offset="0.2694" stop-color="#3e65fa"/><stop offset="0.3059" stop-color="#6629fe"/><stop offset="0.3242" stop-color="#7413ff"/><stop offset="0.347" stop-color="#7a09ff"/><stop offset="0.4155" stop-color="#7e03ff"/><stop offset="1" stop-color="#7e03ff"/></linearGradient>
<linearGradient id="a49"><stop offset="0" stop-color="#7e03ff"/><stop offset="0.0457" stop-color="#7e03ff"/><stop offset="0.0502" stop-color="#7a09ff"/><stop offset="0.0548" stop-color="#6826fe"/><stop offset="0.0594" stop-color="#0ca7ef"/><stop offset="0.0639" stop-color="#17cbe4"/><stop offset="0.0685" stop-color="#31e1da"/><stop offset="0.0731" stop-color="#47efd1"/><stop offset="0.1005" stop-color="#71febc"/><stop offset="0.1233" stop-color="#a1faa1"/><stop offset="0.1324" stop-color="#bbee91"/><stop offset="0.1461" stop-color="#cbe486"/><stop offset="0.1598" stop-color="#d3de81"/><stop offset="0.1689" stop-color="#e3d176"/><stop offset="0.1735" stop-color="#dfd579"/><stop offset="0.1781" stop-color="#a3f9a0"/><stop offset="0.1826" stop-color="#6dfdbf"/><stop offset="0.2009" stop-color="#3ae8d6"/><stop offset="0.2237" stop-color="#08bee9"/><stop offset="0.2283" stop-color="#00b5eb"/><stop offset="0.274" stop-color="#4659fb"/><stop offset="0.3151" stop-color="#7019ff"/><stop offset="0.347" stop-color="#7a09ff"/><stop offset="0.4155" stop-color="#7e03ff"/><stop offset="1" stop-color="#7e03ff"/></linearGradient>
<linearGradient id="a50"><stop offset="0" stop-color="#7e03ff"/><stop offset="0.0457" stop-color="#7e03ff"/><stop offset="0.0502" stop-color="#7a09ff"/><stop offset="0.0548" stop-color="#6826fe"/><stop offset="0.0594" stop-color="#10a2f0"/><stop offset="0.0639" stop-color="#10c6e6"/><stop offset="0.0731" stop-color="#3febd5"/><stop offset="0.105" stop-color="#6ffebe"/><stop offset="0.1279" stop-color="#9ffaa2"/><stop offset="0.1324" stop-color="#adf59a"/><stop offset="0.1461" stop-color="#bded8f"/><stop offset="0.1598" stop-color="#c4e88a"/><stop offset="0.1689" stop-color="#d4dd80"/><stop offset="0.1735" stop-color="#d1e082"/><stop offset="0.1781" stop-color="#96fca7"/><stop offset="0.1826" stop-color="#62fbc4"/><stop offset="0.2009" stop-color="#32e3da"/><stop offset="0.2237" stop-color="#02b7eb"/><stop offset="0.2329" stop-color="#0ea5ef"/><stop offset="0.274" stop-color="#4856fb"/><stop offset="0.3151" stop-color="#7019ff"/><stop offset="0.347" stop-color="#7a09ff"/><stop offset="0.4155" stop-color="#7e03ff"/><stop offset="1" stop-color="#7e03ff"/></linearGradient>
<linearGradient id="a51"><stop offset="0" stop-color="#7e03ff"/><stop offset="0.0457" stop-color="#7e03ff"/><stop offset="0.0502" stop-color="#7a09ff"/><stop offset="0.0548" stop-color="#6a22fe"/><stop offset="0.0594" stop-color="#169bf2"/><stop offset="0.0639" stop-color="#08bee9"/><stop offset="0.0685" stop-color="#21d5e1"/><stop offset="0.0731" stop-color="#34e4d9"/><stop offset="0.1005" stop-color="#5af8c8"/><stop offset="0.1233" stop-color="#86ffb0"/><stop offset="0.1324" stop-color="#9ffaa2"/><stop offset="0.1598" stop-color="#b4f295"/><stop offset="0.1689" stop-color="#c4e88a"/><stop offset="0.1735" stop-color="#c1eb8d"/><stop offset="0.1781" stop-color="#8bfeae"/><stop offset="0.1826" stop-color="#59f8c9"/><stop offset="0.2055" stop-color="#21d5e1"/><stop offset="0.2192" stop-color="#04b9ea"/><stop offset="0.2237" stop-color="#04b0ed"/><stop offset="0.2648" stop-color="#4062fa"/><stop offset="0.3014" stop-color="#6629fe"/><stop offset="0.3242" stop-color="#7413ff"/><stop offset="0.3562" stop-color="#7c06ff"/><stop offset="0.9635" stop-color="#7e03ff"/><stop offset="1" stop-color="#7e03ff"/></linearGradient>
<linearGradient id="a52"><stop offset="0" stop-color="#7e03ff"/><stop offset="0.0457" stop-color="#7e03ff"/><stop offset="0.0502" stop-color="#7a09ff"/><stop offset="0.0548" stop-color="#6a22fe"/><stop offset="0.0594" stop-color="#1996f3"/><stop offset="0.0639" stop-color="#02b7eb"/><stop offset="0.0731" stop-color="#2ddedc"/><stop offset="0.1005" stop-color="#51f4cc"/><stop offset="0.1279" stop-color="#83ffb3"/><stop offset="0.1324" stop-color="#8ffeac"/><stop offset="0.1461" stop-color="#9dfba4"/><stop offset="0.1598" stop-color="#a6f89d"/><stop offset="0.1689" stop-color="#b6f193"/><stop offset="0.1735" stop-color="#b3f396"/><stop offset="0.1781" stop-color="#7fffb5"/><stop offset="0.1826" stop-color="#4ff3cd"/><stop offset="0.21" stop-color="#0fc4e7"/><stop offset="0.2192" stop-color="#01b3ec"/><stop offset="0.2511" stop-color="#3176f8"/><stop offset="0.2785" stop-color="#5247fc"/><stop offset="0.3196" stop-color="#7413ff"/><stop offset="0.3607" stop-color="#7c06ff"/><stop offset="0.7671" stop-color="#7e03ff"/><stop offset="1" stop-color="#7e03ff"/></linearGradient>
<linearGradient id="a53"><stop offset="0" stop-color="#7e03ff"/><stop offset="0.0457" stop-color="#7e03ff"/><stop offset="0.0502" stop-color="#7a09ff"/><stop offset="0.0548" stop-color="#6c1fff"/><stop offset="0.0594" stop-color="#208ef4"/><stop offset="0.0639" stop-color="#06aeed"/><stop offset="0.0685" stop-color="#10c6e6"/><stop offset="0.0731" stop-color="#22d6e0"/><stop offset="0.105" stop-color="#4df3ce"/><stop offset="0.1279" stop-color="#74feba"/><stop offset="0.1324" stop-color="#81ffb4"/><stop offset="0.1598" stop-color="#96fca7"/><stop offset="0.1689" stop-color="#a8f79c"/><stop offset="0.1735" stop-color="#a3f9a0"/><stop offset="0.1781" stop-color="#72febb"/><stop offset="0.1826" stop-color="#44eed2"/><stop offset="0.2009" stop-color="#18cde4"/><stop offset="0.2146" stop-color="#01b3ec"/><stop offset="0.2557" stop-color="#3c68f9"/><stop offset="0.3014" stop-color="#6826fe"/><stop offset="0.3242" stop-color="#7610ff"/><stop offset="0.3607" stop-color="#7c06ff"/><stop offset="0.7671" stop-color="#7e03ff"/><stop offset="1" stop-color="#7e03ff"/></linearGradient>
<linearGradient id="a54"><stop offset="0" stop-color="#7e03ff"/><stop offset="0.0457" stop-color="#7e03ff"/><stop offset="0.0502" stop-color="#7a09ff"/><stop offset="0.0548" stop-color="#6c1fff"/><stop offset="0.0594" stop-color="#2686f5"/><stop offset="0.0639" stop-color="#0ca7ef"/><stop offset="0.0685" stop-color="#08bee9"/><stop offset="0.0731" stop-color="#18cde4"/><stop offset="0.105" stop-color="#41ecd4"/><stop offset="0.137" stop-color="#77ffb9"/><stop offset="0.1598" stop-color="#86ffb0"/><stop offset="0.1689" stop-color="#99fca6"/><stop offset="0.1735" stop-color="#94fda8"/><stop offset="0.1781" stop-color="#67fcc2"/><stop offset="0.1826" stop-color="#3ae8d6"/><stop offset="0.2055" stop-color="#08bee9"/><stop offset="0.21" stop-color="#01b3ec"/><stop offset="0.2511" stop-color="#396bf9"/><stop offset="0.2831" stop-color="#5a3bfd"/><stop offset="0.3151" stop-color="#7216ff"/><stop offset="0.3562" stop-color="#7c06ff"/><stop offset="0.863" stop-color="#7e03ff"/><stop offset="1" stop-color="#7e03ff"/></linearGradient>
<linearGradient id="a55"><stop offset="0" stop-color="#7e03ff"/><stop offset="0.0502" stop-color="#7c06ff"/><stop offset="0.0548" stop-color="#6e1cff"/><stop offset="0.0594" stop-color="#2c7ef7"/><stop offset="0.0639" stop-color="#149df1"/><stop offset="0.0685" stop-color="#00b5eb"/><stop offset="0.0731" stop-color="#10c6e6"/><stop offset="0.1096" stop-color="#3ae8d6"/><stop offset="0.1279" stop-color="#59f8c9"/><stop offset="0.137" stop-color="#67fcc2"/><stop offset="0.1598" stop-color="#79ffb8"/><stop offset="0.1689" stop-color="#8bfeae"/><stop offset="0.1735" stop-color="#86ffb0"/><stop offset="0.1781" stop-color="#59f8c9"/><stop offset="0.1826" stop-color="#31e1da"/><stop offset="0.2009" stop-color="#08bee9"/><stop offset="0.2055" stop-color="#00b5eb"/><stop offset="0.2511" stop-color="#3e65fa"/><stop offset="0.3014" stop-color="#6a22fe"/><stop offset="0.3288" stop-color="#780dff"/><stop offset="0.3927" stop-color="#7e03ff"/><stop offset="1" stop-color="#7e03ff"/></linearGradient>
<linearGradient id="a56"><stop offset="0" stop-color="#7e03ff"/><stop offset="0.0502" stop-color="#7c06ff"/><stop offset="0.0548" stop-color="#6e1cff"/><stop offset="0.0594" stop-color="#3079f7"/><stop offset="0.0639" stop-color="#1996f3"/><stop offset="0.0685" stop-color="#09a9ee"/><stop offset="0.0731" stop-color="#07bbea"/><stop offset="0.1096" stop-color="#2fe0db"/><stop offset="0.137" stop-color="#57f7ca"/><stop offset="0.1598" stop-color="#69fcc1"/><stop offset="0.1644" stop-color="#77ffb9"/><stop offset="0.1689" stop-color="#7dffb6"/><stop offset="0.1735" stop-color="#79ffb8"/><stop offset="0.1781" stop-color="#4ff3cd"/><stop offset="0.1826" stop-color="#27dade"/><stop offset="0.2009" stop-color="#00b5eb"/><stop offset="0.2466" stop-color="#3e65fa"/><stop offset="0.2877" stop-color="#622ffe"/><stop offset="0.3196" stop-color="#7610ff"/><stop offset="0.3562" stop-color="#7c06ff"/><stop offset="0.863" stop-color="#7e03ff"/><stop offset="1" stop-color="#7e03ff"/></linearGradient>
<linearGradient id="a57"><stop offset="0" stop-color="#7e03ff"/><stop offset="0.0502" stop-color="#7c06ff"/><stop offset="0.0548" stop-color="#7019ff"/><stop offset="0.0594" stop-color="#3670f8"/><stop offset="0.0639" stop-color="#218cf4"/><stop offset="0.0731" stop-color="#04b0ed"/><stop offset="0.0776" stop-color="#00b5eb"/><stop offset="0.1187" stop-color="#2fe0db"/><stop offset="0.137" stop-color="#49f1d0"/><stop offset="0.1553" stop-color="#52f5cb"/><stop offset="0.1689" stop-color="#71febc"/><stop offset="0.1735" stop-color="#6afdc0"/><stop offset="0.1781" stop-color="#42edd3"/><stop offset="0.1826" stop-color="#1fd3e1"/><stop offset="0.1918" stop-color="#07bbea"/><stop offset="0.1963" stop-color="#01b3ec"/><stop offset="0.2192" stop-color="#2489f5"/><stop offset="0.2603" stop-color="#4e4dfc"/><stop offset="0.3014" stop-color="#6c1fff"/><stop offset="0.3196" stop-color="#7610ff"/><stop offset="0.3562" stop-color="#7c06ff"/><stop offset="0.7626" stop-color="#7e03ff"/><stop offset="1" stop-color="#7e03ff"/></linearGradient>
<linearGradient id="a58"><stop offset="0" stop-color="#7e03ff"/><stop offset="0.0502" stop-color="#7c06ff"/><stop offset="0.0548" stop-color="#7019ff"/><stop offset="0.0594" stop-color="#3c68f9"/><stop offset="0.0639" stop-color="#2884f6"/><stop offset="0.0731" stop-color="#0ca7ef"/><stop offset="0.0868" stop-color="#00b5eb"/><stop offset="0.1233" stop-color="#29dbde"/><stop offset="0.137" stop-color="#3ae8d6"/><stop offset="0.1553" stop-color="#44eed2"/><stop offset="0.1689" stop-color="#62fbc4"/><stop offset="0.1735" stop-color="#5df9c7"/><stop offset="0.1781" stop-color="#37e6d8"/><stop offset="0.1826" stop-color="#14cae5"/><stop offset="0.1872" stop-color="#07bbea"/><stop offset="0.1918" stop-color="#01b3ec"/><stop offset="0.2192" stop-color="#2981f6"/><stop offset="0.2648" stop-color="#5641fd"/><stop offset="0.3105" stop-color="#7216ff"/><stop offset="0.3333" stop-color="#7a09ff"/><stop offset="0.411" stop-color="#7e03ff"/><stop offset="1" stop-color="#7e03ff"/></linearGradient>
<linearGradient id="a59"><stop offset="0" stop-color="#7e03ff"/><stop offset="0.0502" stop-color="#7c06ff"/><stop offset="0.0548" stop-color="#7216ff"/><stop offset="0.0594" stop-color="#4062fa"/><stop offset="0.0639" stop-color="#2e7bf7"/><stop offset="0.0731" stop-color="#149df1"/><stop offset="0.0959" stop-color="#01b3ec"/><stop offset="0.1096" stop-color="#0dc2e8"/><stop offset="0.137" stop-color="#2ddedc"/><stop offset="0.1553" stop-color="#37e6d8"/><stop offset="0.1689" stop-color="#57f7ca"/><stop offset="0.1735" stop-color="#51f4cc"/><stop offset="0.1781" stop-color="#2ddedc"/><stop offset="0.1826" stop-color="#0ac0e8"/><stop offset="0.1872" stop-color="#01b3ec"/><stop offset="0.21" stop-color="#2686f5"/><stop offset="0.2557" stop-color="#5247fc"/><stop offset="0.3014" stop-color="#6e1cff"/><stop offset="0.3333" stop-color="#7a09ff"/><stop offset="0.411" stop-color="#7e03ff"/><stop offset="1" stop-color="#7e03ff"/></linearGradient>
<linearGradient id="a60"><stop offset="0" stop-color="#7e03ff"/><stop offset="0.0502" stop-color="#7c06ff"/><stop offset="0.0548" stop-color="#7216ff"/><stop offset="0.0594" stop-color="#445cfb"/><stop offset="0.0639" stop-color="#3473f8"/><stop offset="0.0731" stop-color="#1e91f3"/><stop offset="0.1096" stop-color="#02b7eb"/><stop offset="0.137" stop-color="#1fd3e1"/><stop offset="0.1553" stop-color="#29dbde"/><stop offset="0.1689" stop-color="#4af2cf"/><stop offset="0.1735" stop-color="#42edd3"/><stop offset="0.1826" stop-color="#02b7eb"/><stop offset="0.1872" stop-color="#0ca7ef"/><stop offset="0.2192" stop-color="#3670f8"/><stop offset="0.2603" stop-color="#583efd"/><stop offset="0.3059" stop-color="#7216ff"/><stop offset="0.347" stop-color="#7c06ff"/><stop offset="0.9543" stop-color="#7e03ff"/><stop offset="1" stop-color="#7e03ff"/></linearGradient>
<linearGradient id="a61"><stop offset="0" stop-color="#7e03ff"/><stop offset="0.0502" stop-color="#7c06ff"/><stop offset="0.0548" stop-color="#7216ff"/><stop offset="0.0594" stop-color="#4a53fb"/><stop offset="0.0639" stop-color="#396bf9"/><stop offset="0.0731" stop-color="#2686f5"/><stop offset="0.1187" stop-color="#00b5eb"/><stop offset="0.1416" stop-color="#14cae5"/><stop offset="0.1553" stop-color="#1acfe3"/><stop offset="0.1689" stop-color="#3febd5"/><stop offset="0.1735" stop-color="#39e7d7"/><stop offset="0.1781" stop-color="#17cbe4"/><stop offset="0.1826" stop-color="#08acee"/><stop offset="0.1918" stop-color="#1c93f3"/><stop offset="0.2237" stop-color="#4062fa"/><stop offset="0.2785" stop-color="#6629fe"/><stop offset="0.3288" stop-color="#7a09ff"/><stop offset="0.4064" stop-color="#7e03ff"/><stop offset="1" stop-color="#7e03ff"/></linearGradient>
<linearGradient id="a62"><stop offset="0" stop-color="#7e03ff"/><stop offset="0.0502" stop-color="#7c06ff"/><stop offset="0.0548" stop-color="#7413ff"/><stop offset="0.0594" stop-color="#4e4dfc"/><stop offset="0.0639" stop-color="#4062fa"/><stop offset="0.0731" stop-color="#2c7ef7"/><stop offset="0.1233" stop-color="#08acee"/><stop offset="0.1279" stop-color="#01b3ec"/><stop offset="0.1553" stop-color="#0fc4e7"/><stop offset="0.1689" stop-color="#32e3da"/><stop offset="0.1735" stop-color="#2ddedc"/><stop offset="0.1781" stop-color="#0dc2e8"/><stop offset="0.1826" stop-color="#10a2f0"/><stop offset="0.1918" stop-color="#2489f5"/><stop offset="0.2329" stop-color="#4c50fc"/><stop offset="0.2877" stop-color="#6c1fff"/><stop offset="0.3288" stop-color="#7a09ff"/><stop offset="0.4064" stop-color="#7e03ff"/><stop offset="1" stop-color="#7e03ff"/></linearGradient>
<linearGradient id="a63"><stop offset="0" stop-color="#7e03ff"/><stop offset="0.0502" stop-color="#7c06ff"/><stop offset="0.0548" stop-color="#7413ff"/><stop offset="0.0594" stop-color="#5247fc"/><stop offset="0.0685" stop-color="#3c68f9"/><stop offset="0.0731" stop-color="#3473f8"/><stop offset="0.1279" stop-color="#0ea5ef"/><stop offset="0.1416" stop-color="#04b0ed"/><stop offset="0.1553" stop-color="#02b7eb"/><stop offset="0.1644" stop-color="#1fd3e1"/><stop offset="0.1689" stop-color="#29dbde"/><stop offset="0.1735" stop-color="#22d6e0"/><stop offset="0.1781" stop-color="#04b9ea"/><stop offset="0.1826" stop-color="#1898f2"/><stop offset="0.1918" stop-color="#2c7ef7"/><stop offset="0.2329" stop-color="#504afc"/><stop offset="0.2877" stop-color="#6e1cff"/><stop offset="0.3196" stop-color="#780dff"/><stop offset="0.3836" stop-color="#7e03ff"/><stop offset="1" stop-color="#7e03ff"/></linearGradient>
<linearGradient id="a64"><stop offset="0" stop-color="#7e03ff"/><stop offset="0.0502" stop-color="#7c06ff"/><stop offset="0.0548" stop-color="#7413ff"/><stop offset="0.0594" stop-color="#5641fd"/><stop offset="0.0639" stop-color="#4a53fb"/><stop offset="0.0731" stop-color="#396bf9"/><stop offset="0.1416" stop-color="#10a2f0"/><stop offset="0.1507" stop-color="#0ea5ef"/><stop offset="0.1598" stop-color="#02b7eb"/><stop offset="0.1644" stop-color="#14cae5"/><stop offset="0.1689" stop-color="#1fd3e1"/><stop offset="0.1735" stop-color="#18cde4"/><stop offset="0.1781" stop-color="#06aeed"/><stop offset="0.1826" stop-color="#208ef4"/><stop offset="0.1872" stop-color="#2c7ef7"/><stop offset="0.2055" stop-color="#4062fa"/><stop offset="0.2511" stop-color="#5e35fe"/><stop offset="0.3151" stop-color="#780dff"/><stop offset="0.379" stop-color="#7e03ff"/><stop offset="1" stop-color="#7e03ff"/></linearGradient>
<linearGradient id="a65"><stop offset="0" stop-color="#7e03ff"/><stop offset="0.0502" stop-color="#7c06ff"/><stop offset="0.0548" stop-color="#7610ff"/><stop offset="0.0594" stop-color="#5a3bfd"/><stop offset="0.0731" stop-color="#4062fa"/><stop offset="0.1096" stop-color="#2e7bf7"/><stop offset="0.1416" stop-color="#1996f3"/><stop offset="0.1507" stop-color="#1898f2"/><stop offset="0.1598" stop-color="#08acee"/><stop offset="0.1644" stop-color="#0ac0e8"/><stop offset="0.1689" stop-color="#14cae5"/><stop offset="0.1735" stop-color="#0fc4e7"/><stop offset="0.1781" stop-color="#0ea5ef"/><stop offset="0.1826" stop-color="#2686f5"/><stop offset="0.1918" stop-color="#396bf9"/><stop offset="0.2192" stop-color="#504afc"/><stop offset="0.3059" stop-color="#7610ff"/><stop offset="0.3653" stop-color="#7e03ff"/><stop offset="1" stop-color="#7e03ff"/></linearGradient>
<linearGradient id="a66"><stop offset="0" stop-color="#7e03ff"/><stop offset="0.0502" stop-color="#7c06ff"/><stop offset="0.0548" stop-color="#7610ff"/><stop offset="0.0594" stop-color="#5c38fd"/><stop offset="0.0731" stop-color="#4659fb"/><stop offset="0.1461" stop-color="#218cf4"/><stop offset="0.1507" stop-color="#218cf4"/><stop offset="0.1553" stop-color="#1c93f3"/><stop offset="0.1644" stop-color="#00b5eb"/><stop offset="0.1689" stop-color="#0dc2e8"/><stop offset="0.1735" stop-color="#07bbea"/><stop offset="0.1781" stop-color="#169bf2"/><stop offset="0.1826" stop-color="#2e7bf7"/><stop offset="0.1872" stop-color="#396bf9"/><stop offset="0.21" stop-color="#4e4dfc"/><stop offset="0.2557" stop-color="#6629fe"/><stop offset="0.3196" stop-color="#7a09ff"/><stop offset="0.4064" stop-color="#7e03ff"/><stop offset="1" stop-color="#7e03ff"/></linearGradient>
<linearGradient id="a67"><stop offset="0" stop-color="#7e03ff"/><stop offset="0.0502" stop-color="#7c06ff"/><stop offset="0.0548" stop-color="#7610ff"/><stop offset="0.0594" stop-color="#6032fe"/><stop offset="0.0731" stop-color="#4c50fc"/><stop offset="0.1553" stop-color="#2686f5"/><stop offset="0.1598" stop-color="#1996f3"/><stop offset="0.1644" stop-color="#08acee"/><stop offset="0.1689" stop-color="#04b9ea"/><stop offset="0.1735" stop-color="#01b3ec"/><stop offset="0.1826" stop-color="#3473f8"/><stop offset="0.1872" stop-color="#4062fa"/><stop offset="0.2055" stop-color="#504afc"/><stop offset="0.2785" stop-color="#7019ff"/><stop offset="0.3379" stop-color="#7c06ff"/><stop offset="0.9452" stop-color="#7e03ff"/><stop offset="1" stop-color="#7e03ff"/></linearGradient>
<linearGradient id="a68"><stop offset="0" stop-color="#7e03ff"/><stop offset="0.0502" stop-color="#7c06ff"/><stop offset="0.0548" stop-color="#780dff"/><stop offset="0.0594" stop-color="#622ffe"/><stop offset="0.0731" stop-color="#504afc"/><stop offset="0.1553" stop-color="#2e7bf7"/><stop offset="0.1598" stop-color="#218cf4"/><stop offset="0.1644" stop-color="#10a2f0"/><stop offset="0.1689" stop-color="#04b0ed"/><stop offset="0.1735" stop-color="#09a9ee"/><stop offset="0.1826" stop-color="#396bf9"/><stop offset="0.1918" stop-color="#4a53fb"/><stop offset="0.2192" stop-color="#5a3bfd"/><stop offset="0.274" stop-color="#7019ff"/><stop offset="0.3333" stop-color="#7c06ff"/><stop offset="0.9406" stop-color="#7e03ff"/><stop offset="1" stop-color="#7e03ff"/></linearGradient>
<linearGradient id="a69"><stop offset="0" stop-color="#7e03ff"/><stop offset="0.0502" stop-color="#7c06ff"/><stop offset="0.0548" stop-color="#780dff"/><stop offset="0.0594" stop-color="#6629fe"/><stop offset="0.0639" stop-color="#5e35fe"/><stop offset="0.0776" stop-color="#5444fd"/><stop offset="0.1416" stop-color="#3c68f9"/><stop offset="0.1553" stop-color="#3670f8"/><stop offset="0.1598" stop-color="#2981f6"/><stop offset="0.1644" stop-color="#169bf2"/><stop offset="0.1689" stop-color="#09a9ee"/><stop offset="0.1735" stop-color="#11a0f1"/><stop offset="0.1826" stop-color="#4062fa"/><stop offset="0.1918" stop-color="#504afc"/><stop offset="0.2557" stop-color="#6c1fff"/><stop offset="0.3333" stop-color="#7c06ff"/><stop offset="0.9406" stop-color="#7e03ff"/><stop offset="1" stop-color="#7e03ff"/></linearGradient>
<linearGradient id="a70"><stop offset="0" stop-color="#7e03ff"/><stop offset="0.0502" stop-color="#7c06ff"/><stop offset="0.0548" stop-color="#780dff"/><stop offset="0.0594" stop-color="#6826fe"/><stop offset="0.0731" stop-color="#5a3bfd"/><stop offset="0.1461" stop-color="#425ffa"/><stop offset="0.1507" stop-color="#425ffa"/><stop offset="0.1553" stop-color="#3c68f9"/><stop offset="0.1689" stop-color="#10a2f0"/><stop offset="0.1735" stop-color="#1898f2"/><stop offset="0.1826" stop-color="#445cfb"/><stop offset="0.1918" stop-color="#5444fd"/><stop offset="0.2374" stop-color="#6826fe"/><stop offset="0.3151" stop-color="#7a09ff"/><stop offset="0.4018" stop-color="#7e03ff"/><stop offset="1" stop-color="#7e03ff"/></linearGradient>
<linearGradient id="a71"><stop offset="0" stop-color="#7e03ff"/><stop offset="0.0502" stop-color="#7c06ff"/><stop offset="0.0548" stop-color="#780dff"/><stop offset="0.0594" stop-color="#6a22fe"/><stop offset="0.0685" stop-color="#6032fe"/><stop offset="0.1461" stop-color="#4856fb"/><stop offset="0.1507" stop-color="#4856fb"/><stop offset="0.1553" stop-color="#425ffa"/><stop offset="0.1598" stop-color="#3670f8"/><stop offset="0.1644" stop-color="#218cf4"/><stop offset="0.1689" stop-color="#169bf2"/><stop offset="0.1735" stop-color="#1e91f3"/><stop offset="0.1826" stop-color="#4856fb"/><stop offset="0.1872" stop-color="#5444fd"/><stop offset="0.2237" stop-color="#6629fe"/><stop offset="0.3105" stop-color="#7a09ff"/><stop offset="0.4064" stop-color="#7e03ff"/><stop offset="1" stop-color="#7e03ff"/></linearGradient>
<linearGradient id="a72"><stop offset="0" stop-color="#7e03ff"/><stop offset="0.0502" stop-color="#7c06ff"/><stop offset="0.0548" stop-color="#780dff"/><stop offset="0.0594" stop-color="#6c1fff"/><stop offset="0.0731" stop-color="#6032fe"/><stop offset="0.1461" stop-color="#4e4dfc"/><stop offset="0.1507" stop-color="#4e4dfc"/><stop offset="0.1553" stop-color="#4856fb"/><stop offset="0.1598" stop-color="#3c68f9"/><stop offset="0.1644" stop-color="#2884f6"/><stop offset="0.1689" stop-color="#1c93f3"/><stop offset="0.1735" stop-color="#218cf4"/><stop offset="0.1826" stop-color="#4c50fc"/><stop offset="0.1872" stop-color="#583efd"/><stop offset="0.21" stop-color="#642cfe"/><stop offset="0.3059" stop-color="#7a09ff"/><stop offset="0.4018" stop-color="#7e03ff"/><stop offset="1" stop-color="#7e03ff"/></linearGradient>
<linearGradient id="a73"><stop offset="0" stop-color="#7e03ff"/><stop offset="0.0502" stop-color="#7c06ff"/><stop offset="0.0548" stop-color="#7a09ff"/><stop offset="0.0594" stop-color="#6e1cff"/><stop offset="0.0731" stop-color="#642cfe"/><stop offset="0.1507" stop-color="#5247fc"/><stop offset="0.1553" stop-color="#4e4dfc"/><stop offset="0.1689" stop-color="#208ef4"/><stop offset="0.1735" stop-color="#2884f6"/><stop offset="0.1826" stop-color="#504afc"/><stop offset="0.1918" stop-color="#6032fe"/><stop offset="0.2557" stop-color="#7216ff"/><stop offset="0.3379" stop-color="#7c06ff"/><stop offset="0.7443" stop-color="#7e03ff"/><stop offset="1" stop-color="#7e03ff"/></linearGradient>
<linearGradient id="a74"><stop offset="0" stop-color="#7e03ff"/><stop offset="0.0502" stop-color="#7c06ff"/><stop offset="0.0548" stop-color="#7a09ff"/><stop offset="0.0594" stop-color="#7019ff"/><stop offset="0.0731" stop-color="#6629fe"/><stop offset="0.1507" stop-color="#5641fd"/><stop offset="0.1553" stop-color="#5247fc"/><stop offset="0.1689" stop-color="#2489f5"/><stop offset="0.1735" stop-color="#2c7ef7"/><stop offset="0.1826" stop-color="#5444fd"/><stop offset="0.1872" stop-color="#5e35fe"/><stop offset="0.2055" stop-color="#6826fe"/><stop offset="0.3059" stop-color="#7a09ff"/><stop offset="0.4018" stop-color="#7e03ff"/><stop offset="1" stop-color="#7e03ff"/></linearGradient>
<linearGradient id="a75"><stop offset="0" stop-color="#7e03ff"/><stop offset="0.0502" stop-color="#7e03ff"/><stop offset="0.0548" stop-color="#7a09ff"/><stop offset="0.0594" stop-color="#7019ff"/><stop offset="0.0868" stop-color="#6629fe"/><stop offset="0.1507" stop-color="#5a3bfd"/><stop offset="0.1553" stop-color="#5641fd"/><stop offset="0.1689" stop-color="#2884f6"/><stop offset="0.1735" stop-color="#2e7bf7"/><stop offset="0.1826" stop-color="#583efd"/><stop offset="0.1872" stop-color="#6032fe"/><stop offset="0.2055" stop-color="#6a22fe"/><stop offset="0.3014" stop-color="#7a09ff"/><stop offset="0.3973" stop-color="#7e03ff"/><stop offset="1" stop-color="#7e03ff"/></linearGradient>
<linearGradient id="a76"><stop offset="0" stop-color="#7e03ff"/><stop offset="0.0502" stop-color="#7e03ff"/><stop offset="0.0548" stop-color="#7a09ff"/><stop offset="0.0594" stop-color="#7216ff"/><stop offset="0.0685" stop-color="#6c1fff"/><stop offset="0.1507" stop-color="#5e35fe"/><stop offset="0.1553" stop-color="#5a3bfd"/><stop offset="0.1598" stop-color="#4c50fc"/><stop offset="0.1644" stop-color="#386df9"/><stop offset="0.1689" stop-color="#2c7ef7"/><stop offset="0.1735" stop-color="#3176f8"/><stop offset="0.1826" stop-color="#5a3bfd"/><stop offset="0.1872" stop-color="#642cfe"/><stop offset="0.1918" stop-color="#6826fe"/><stop offset="0.2785" stop-color="#780dff"/><stop offset="0.379" stop-color="#7e03ff"/><stop offset="1" stop-color="#7e03ff"/></linearGradient>
<linearGradient id="a77"><stop offset="0" stop-color="#7e03ff"/><stop offset="0.0502" stop-color="#7e03ff"/><stop offset="0.0639" stop-color="#7019ff"/><stop offset="0.1507" stop-color="#622ffe"/><stop offset="0.1553" stop-color="#5c38fd"/><stop offset="0.1598" stop-color="#504afc"/><stop offset="0.1644" stop-color="#3c68f9"/><stop offset="0.1689" stop-color="#2e7bf7"/><stop offset="0.1735" stop-color="#3670f8"/><stop offset="0.1826" stop-color="#5c38fd"/><stop offset="0.1872" stop-color="#6629fe"/><stop offset="0.1918" stop-color="#6a22fe"/><stop offset="0.2968" stop-color="#7a09ff"/><stop offset="0.3973" stop-color="#7e03ff"/><stop offset="1" stop-color="#7e03ff"/></linearGradient>
<linearGradient id="a78"><stop offset="0" stop-color="#7e03ff"/><stop offset="0.0502" stop-color="#7e03ff"/><stop offset="0.0594" stop-color="#7413ff"/><stop offset="0.0776" stop-color="#6e1cff"/><stop offset="0.1507" stop-color="#642cfe"/><stop offset="0.1553" stop-color="#6032fe"/><stop offset="0.1598" stop-color="#5247fc"/><stop offset="0.1644" stop-color="#3e65fa"/><stop offset="0.1689" stop-color="#3176f8"/><stop offset="0.1735" stop-color="#386df9"/><stop offset="0.1826" stop-color="#5e35fe"/><stop offset="0.1872" stop-color="#6826fe"/><stop offset="0.1918" stop-color="#6c1fff"/><stop offset="0.3105" stop-color="#7c06ff"/><stop offset="1" stop-color="#7e03ff"/></linearGradient>
<linearGradient id="a79"><stop offset="0" stop-color="#7e03ff"/><stop offset="0.0502" stop-color="#7e03ff"/><stop offset="0.0639" stop-color="#7216ff"/><stop offset="0.1461" stop-color="#6826fe"/><stop offset="0.1553" stop-color="#622ffe"/><stop offset="0.1598" stop-color="#5444fd"/><stop offset="0.1644" stop-color="#4062fa"/><stop offset="0.1689" stop-color="#3473f8"/><stop offset="0.1735" stop-color="#396bf9"/><stop offset="0.1826" stop-color="#6032fe"/><stop offset="0.1872" stop-color="#6a22fe"/><stop offset="0.2055" stop-color="#7019ff"/><stop offset="0.3196" stop-color="#7c06ff"/><stop offset="1" stop-color="#7e03ff"/></linearGradient>
<linearGradient id="a80"><stop offset="0" stop-color="#7e03ff"/><stop offset="0.0502" stop-color="#7e03ff"/><stop offset="0.0639" stop-color="#7413ff"/><stop offset="0.1507" stop-color="#6a22fe"/><stop offset="0.1553" stop-color="#642cfe"/><stop offset="0.1689" stop-color="#3670f8"/><stop offset="0.1735" stop-color="#3c68f9"/><stop offset="0.1826" stop-color="#622ffe"/><stop offset="0.1872" stop-color="#6c1fff"/><stop offset="0.21" stop-color="#7216ff"/><stop offset="0.3516" stop-color="#7e03ff"/><stop offset="1" stop-color="#7e03ff"/></linearGradient>
<linearGradient id="a81"><stop offset="0" stop-color="#7e03ff"/><stop offset="0.0502" stop-color="#7e03ff"/><stop offset="0.0639" stop-color="#7413ff"/><stop offset="0.1507" stop-color="#6a22fe"/><stop offset="0.1553" stop-color="#6629fe"/><stop offset="0.1598" stop-color="#583efd"/><stop offset="0.1644" stop-color="#445cfb"/><stop offset="0.1689" stop-color="#386df9"/><stop offset="0.1735" stop-color="#3e65fa"/><stop offset="0.1826" stop-color="#642cfe"/><stop offset="0.1872" stop-color="#6c1fff"/><stop offset="0.1918" stop-color="#7019ff"/><stop offset="0.3151" stop-color="#7c06ff"/><stop offset="1" stop-color="#7e03ff"/></linearGradient>
<linearGradient id="a82"><stop offset="0" stop-color="#7e03ff"/><stop offset="0.0502" stop-color="#7e03ff"/><stop offset="0.0594" stop-color="#7610ff"/><stop offset="0.1279" stop-color="#6e1cff"/><stop offset="0.1507" stop-color="#6c1fff"/><stop offset="0.1553" stop-color="#6629fe"/><stop offset="0.1598" stop-color="#5a3bfd"/><stop offset="0.1644" stop-color="#4659fb"/><stop offset="0.1689" stop-color="#386df9"/><stop offset="0.1735" stop-color="#3e65fa"/><stop offset="0.1826" stop-color="#642cfe"/><stop offset="0.1872" stop-color="#6e1cff"/><stop offset="0.2009" stop-color="#7216ff"/><stop offset="0.3516" stop-color="#7e03ff"/><stop offset="1" stop-color="#7e03ff"/></linearGradient>
<linearGradient id="a83"><stop offset="0" stop-color="#7e03ff"/><stop offset="0.0502" stop-color="#7e03ff"/><stop offset="0.0594" stop-color="#7610ff"/><stop offset="0.1279" stop-color="#6e1cff"/><stop offset="0.1507" stop-color="#6c1fff"/><stop offset="0.1553" stop-color="#6629fe"/><stop offset="0.1598" stop-color="#5a3bfd"/><stop offset="0.1644" stop-color="#4659fb"/><stop offset="0.1689" stop-color="#386df9"/><stop offset="0.1735" stop-color="#3e65fa"/><stop offset="0.1826" stop-color="#642cfe"/><stop offset="0.1872" stop-color="#6e1cff"/><stop offset="0.2009" stop-color="#7216ff"/><stop offset="0.3516" stop-color="#7e03ff"/><stop offset="1" stop-color="#7e03ff"/></linearGradient>
<clipPath id="ca"><rect x="269" y="40.4" width="654.8" height="654.4"/></clipPath>
<filter id="fa" x="-2%" y="-5%" width="104%" height="110%" color-interpolation-filters="sRGB"><feGaussianBlur stdDeviation="0 3"/></filter>
<linearGradient id="cba" x1="0" y1="0" x2="0" y2="1"><stop offset="0" stop-color="#ff0000"/><stop offset="0.0312" stop-color="#ff160b"/><stop offset="0.0625" stop-color="#ff2f18"/><stop offset="0.0938" stop-color="#ff4724"/><stop offset="0.125" stop-color="#ff5f30"/><stop offset="0.1562" stop-color="#ff763d"/><stop offset="0.1875" stop-color="#ff8c49"/><stop offset="0.2188" stop-color="#ffa055"/><stop offset="0.25" stop-color="#ffb360"/><stop offset="0.2812" stop-color="#f1c46c"/><stop offset="0.3125" stop-color="#e1d377"/><stop offset="0.3438" stop-color="#d1e082"/><stop offset="0.375" stop-color="#c1eb8d"/><stop offset="0.4062" stop-color="#b1f397"/><stop offset="0.4375" stop-color="#a1faa1"/><stop offset="0.4688" stop-color="#91feab"/><stop offset="0.5" stop-color="#81ffb4"/><stop offset="0.5312" stop-color="#71febc"/><stop offset="0.5625" stop-color="#61fac5"/><stop offset="0.5938" stop-color="#51f4cc"/><stop offset="0.625" stop-color="#41ecd4"/><stop offset="0.6562" stop-color="#31e1da"/><stop offset="0.6875" stop-color="#21d5e1"/><stop offset="0.7188" stop-color="#10c6e6"/><stop offset="0.75" stop-color="#00b5eb"/><stop offset="0.7812" stop-color="#10a2f0"/><stop offset="0.8125" stop-color="#208ef4"/><stop offset="0.8438" stop-color="#3079f7"/><stop offset="0.875" stop-color="#4062fa"/><stop offset="0.9062" stop-color="#504afc"/><stop offset="0.9375" stop-color="#6032fe"/><stop offset="0.9688" stop-color="#7019ff"/><stop offset="1" stop-color="#8000ff"/></linearGradient>
<clipPath id="cb"><rect x="1316.6" y="40.4" width="654.4" height="654.4"/></clipPath>
<linearGradient id="c0"><stop offset="0" stop-color="#5c38fd"/><stop offset="0.1233" stop-color="#5a3bfd"/><stop offset="0.137" stop-color="#4c50fc"/><stop offset="0.1553" stop-color="#4856fb"/><stop offset="0.2511" stop-color="#4a53fb"/><stop offset="0.3196" stop-color="#5c38fd"/><stop offset="0.4247" stop-color="#6032fe"/><stop offset="1" stop-color="#6032fe"/></linearGradient>
<linearGradient id="c1"><stop offset="0" stop-color="#5c38fd"/><stop offset="0.1233" stop-color="#5a3bfd"/><stop offset="0.137" stop-color="#4c50fc"/><stop offset="0.1553" stop-color="#4856fb"/><stop offset="0.2511" stop-color="#4a53fb"/><stop offset="0.3196" stop-color="#5c38fd"/><stop offset="0.4247" stop-color="#6032fe"/><stop offset="1" stop-color="#6032fe"/></linearGradient>
<linearGradient id="c2"><stop offset="0" stop-color="#5c38fd"/><stop offset="0.1233" stop-color="#5a3bfd"/><stop offset="0.137" stop-color="#4c50fc"/><stop offset="0.1553" stop-color="#4856fb"/><stop offset="0.2557" stop-color="#4a53fb"/><stop offset="0.3196" stop-color="#5c38fd"/><stop offset="0.4429" stop-color="#6032fe"/><stop offset="1" stop-color="#6032fe"/></linearGradient>
<linearGradient id="c3"><stop offset="0" stop-color="#5c38fd"/><stop offset="0.1233" stop-color="#5a3bfd"/><stop offset="0.137" stop-color="#4c50fc"/><stop offset="0.1644" stop-color="#4659fb"/><stop offset="0.2557" stop-color="#4a53fb"/><stop offset="0.3242" stop-color="#5c38fd"/><stop offset="0.4658" stop-color="#6032fe"/><stop offset="1" stop-color="#6032fe"/></linearGradient>
<linearGradient id="c4"><stop offset="0" stop-color="#5c38fd"/><stop offset="0.1233" stop-color="#5a3bfd"/><stop offset="0.1416" stop-color="#4856fb"/><stop offset="0.2511" stop-color="#4856fb"/><stop offset="0.3196" stop-color="#5a3bfd"/><stop offset="0.4247" stop-color="#6032fe"/><stop offset="1" stop-color="#6032fe"/></linearGradient>
<linearGradient id="c5"><stop offset="0" stop-color="#5c38fd"/><stop offset="0.1233" stop-color="#5a3bfd"/><stop offset="0.137" stop-color="#4a53fb"/><stop offset="0.1553" stop-color="#4659fb"/><stop offset="0.2557" stop-color="#4856fb"/><stop offset="0.3242" stop-color="#5a3bfd"/><stop offset="0.4566" stop-color="#6032fe"/><stop offset="1" stop-color="#5e35fe"/></linearGradient>
<linearGradient id="c6"><stop offset="0" stop-color="#5c38fd"/><stop offset="0.1187" stop-color="#5a3bfd"/><stop offset="0.1416" stop-color="#4856fb"/><stop offset="0.1689" stop-color="#445cfb"/><stop offset="0.2603" stop-color="#4856fb"/><stop offset="0.3242" stop-color="#5a3bfd"/><stop offset="0.4977" stop-color="#6032fe"/><stop offset="1" stop-color="#5e35fe"/></linearGradient>
<linearGradient id="c7"><stop offset="0" stop-color="#5c38fd"/><stop offset="0.1187" stop-color="#5a3bfd"/><stop offset="0.1461" stop-color="#445cfb"/><stop offset="0.2557" stop-color="#4659fb"/><stop offset="0.3196" stop-color="#583efd"/><stop offset="0.4703" stop-color="#6032fe"/><stop offset="1" stop-color="#5e35fe"/></linearGradient>
<linearGradient id="c8"><stop offset="0" stop-color="#5c38fd"/><stop offset="0.1187" stop-color="#5a3bfd"/><stop offset="0.1279" stop-color="#5444fd"/><stop offset="0.137" stop-color="#4856fb"/><stop offset="0.1644" stop-color="#425ffa"/><stop offset="0.2603" stop-color="#4659fb"/><stop offset="0.3242" stop-color="#583efd"/><stop offset="0.4521" stop-color="#5e35fe"/><stop offset="0.5434" stop-color="#6032fe"/><stop offset="0.726" stop-color="#5e35fe"/><stop offset="1" stop-color="#5e35fe"/></linearGradient>
<linearGradient id="c9"><stop offset="0" stop-color="#5c38fd"/><stop offset="0.1187" stop-color="#5a3bfd"/><stop offset="0.1279" stop-color="#5444fd"/><stop offset="0.1324" stop-color="#4c50fc"/><stop offset="0.1461" stop-color="#425ffa"/><stop offset="0.2557" stop-color="#445cfb"/><stop offset="0.3196" stop-color="#5641fd"/><stop offset="0.4521" stop-color="#5e35fe"/><stop offset="1" stop-color="#5c38fd"/></linearGradient>
<linearGradient id="c10"><stop offset="0" stop-color="#5c38fd"/><stop offset="0.1187" stop-color="#5a3bfd"/><stop offset="0.1233" stop-color="#583efd"/><stop offset="0.137" stop-color="#4659fb"/><stop offset="0.1553" stop-color="#4062fa"/><stop offset="0.2466" stop-color="#425ffa"/><stop offset="0.2831" stop-color="#4a53fb"/><stop offset="0.3242" stop-color="#5641fd"/><stop offset="0.4658" stop-color="#5e35fe"/><stop offset="1" stop-color="#5c38fd"/></linearGradient>
<linearGradient id="c11"><stop offset="0" stop-color="#5c38fd"/><stop offset="0.1187" stop-color="#5a3bfd"/><stop offset="0.1233" stop-color="#583efd"/><stop offset="0.1416" stop-color="#425ffa"/><stop offset="0.1872" stop-color="#3e65fa"/><stop offset="0.2694" stop-color="#445cfb"/><stop offset="0.3196" stop-color="#5444fd"/><stop offset="0.4658" stop-color="#5e35fe"/><stop offset="1" stop-color="#5c38fd"/></linearGradient>
<linearGradient id="c12"><stop offset="0" stop-color="#5c38fd"/><stop offset="0.1187" stop-color="#5a3bfd"/><stop offset="0.1233" stop-color="#583efd"/><stop offset="0.137" stop-color="#445cfb"/><stop offset="0.1507" stop-color="#3e65fa"/><stop offset="0.2557" stop-color="#4062fa"/><stop offset="0.3242" stop-color="#5444fd"/><stop offset="0.4795" stop-color="#5e35fe"/><stop offset="1" stop-color="#5c38fd"/></linearGradient>
<linearGradient id="c13"><stop offset="0" stop-color="#5c38fd"/><stop offset="0.1187" stop-color="#5a3bfd"/><stop offset="0.1416" stop-color="#4062fa"/><stop offset="0.1598" stop-color="#3c68f9"/><stop offset="0.2511" stop-color="#3e65fa"/><stop offset="0.2831" stop-color="#4659fb"/><stop offset="0.3242" stop-color="#5247fc"/><stop offset="0.4521" stop-color="#5c38fd"/><stop offset="1" stop-color="#5a3bfd"/></linearGradient>
<linearGradient id="c14"><stop offset="0" stop-color="#5c38fd"/><stop offset="0.1187" stop-color="#5a3bfd"/><stop offset="0.1416" stop-color="#3e65fa"/><stop offset="0.1598" stop-color="#396bf9"/><stop offset="0.2511" stop-color="#3c68f9"/><stop offset="0.2831" stop-color="#445cfb"/><stop offset="0.3196" stop-color="#504afc"/><stop offset="0.4521" stop-color="#5c38fd"/><stop offset="1" stop-color="#5a3bfd"/></linearGradient>
<linearGradient id="c15"><stop offset="0" stop-color="#5c38fd"/><stop offset="0.1187" stop-color="#5a3bfd"/><stop offset="0.1279" stop-color="#504afc"/><stop offset="0.1324" stop-color="#4659fb"/><stop offset="0.1461" stop-color="#396bf9"/><stop offset="0.2511" stop-color="#396bf9"/><stop offset="0.2922" stop-color="#4659fb"/><stop offset="0.3242" stop-color="#504afc"/><stop offset="0.4703" stop-color="#5c38fd"/><stop offset="1" stop-color="#583efd"/></linearGradient>
<linearGradient id="c16"><stop offset="0" stop-color="#5c38fd"/><stop offset="0.1142" stop-color="#5a3bfd"/><stop offset="0.1233" stop-color="#5641fd"/><stop offset="0.137" stop-color="#3e65fa"/><stop offset="0.1461" stop-color="#3670f8"/><stop offset="0.2374" stop-color="#3670f8"/><stop offset="0.2831" stop-color="#4062fa"/><stop offset="0.3196" stop-color="#4e4dfc"/><stop offset="0.4475" stop-color="#5a3bfd"/><stop offset="0.5753" stop-color="#5c38fd"/><stop offset="0.9224" stop-color="#583efd"/><stop offset="1" stop-color="#583efd"/></linearGradient>
<linearGradient id="c17"><stop offset="0" stop-color="#5c38fd"/><stop offset="0.1142" stop-color="#5a3bfd"/><stop offset="0.1233" stop-color="#5444fd"/><stop offset="0.1416" stop-color="#3670f8"/><stop offset="0.1598" stop-color="#3176f8"/><stop offset="0.2466" stop-color="#3473f8"/><stop offset="0.2831" stop-color="#3e65fa"/><stop offset="0.3151" stop-color="#4c50fc"/><stop offset="0.4475" stop-color="#5a3bfd"/><stop offset="1" stop-color="#583efd"/></linearGradient>
<linearGradient id="c18"><stop offset="0" stop-color="#5c38fd"/><stop offset="0.1142" stop-color="#5a3bfd"/><stop offset="0.1233" stop-color="#5444fd"/><stop offset="0.137" stop-color="#386df9"/><stop offset="0.1461" stop-color="#3079f7"/><stop offset="0.2466" stop-color="#3079f7"/><stop offset="0.2785" stop-color="#396bf9"/><stop offset="0.3196" stop-color="#4c50fc"/><stop offset="0.4612" stop-color="#5a3bfd"/><stop offset="1" stop-color="#5641fd"/></linearGradient>
<linearGradient id="c19"><stop offset="0" stop-color="#5c38fd"/><stop offset="0.1142" stop-color="#5a3bfd"/><stop offset="0.1233" stop-color="#5444fd"/><stop offset="0.1324" stop-color="#4062fa"/><stop offset="0.137" stop-color="#3473f8"/><stop offset="0.1461" stop-color="#2981f6"/><stop offset="0.2374" stop-color="#2981f6"/><stop offset="0.2648" stop-color="#3176f8"/><stop offset="0.3014" stop-color="#4659fb"/><stop offset="0.347" stop-color="#4e4dfc"/><stop offset="0.4521" stop-color="#583efd"/><stop offset="0.5799" stop-color="#5a3bfd"/><stop offset="0.8676" stop-color="#5641fd"/><stop offset="1" stop-color="#5641fd"/></linearGradient>
<linearGradient id="c20"><stop offset="0" stop-color="#5c38fd"/><stop offset="0.1142" stop-color="#5a3bfd"/><stop offset="0.1233" stop-color="#5444fd"/><stop offset="0.1324" stop-color="#3c68f9"/><stop offset="0.137" stop-color="#2e7bf7"/><stop offset="0.1507" stop-color="#218cf4"/><stop offset="0.2374" stop-color="#2489f5"/><stop offset="0.2603" stop-color="#2981f6"/><stop offset="0.3014" stop-color="#445cfb"/><stop offset="0.3379" stop-color="#4c50fc"/><stop offset="0.4612" stop-color="#583efd"/><stop offset="1" stop-color="#5444fd"/></linearGradient>
<linearGradient id="c21"><stop offset="0" stop-color="#5c38fd"/><stop offset="0.1142" stop-color="#5a3bfd"/><stop offset="0.1233" stop-color="#5444fd"/><stop offset="0.1324" stop-color="#386df9"/><stop offset="0.137" stop-color="#2884f6"/><stop offset="0.1461" stop-color="#1c93f3"/><stop offset="0.2374" stop-color="#1c93f3"/><stop offset="0.2648" stop-color="#2884f6"/><stop offset="0.2968" stop-color="#425ffa"/><stop offset="0.3425" stop-color="#4c50fc"/><stop offset="0.4795" stop-color="#583efd"/><stop offset="0.9817" stop-color="#5444fd"/><stop offset="1" stop-color="#5444fd"/></linearGradient>
<linearGradient id="c22"><stop offset="0" stop-color="#5c38fd"/><stop offset="0.1142" stop-color="#5a3bfd"/><stop offset="0.1233" stop-color="#5444fd"/><stop offset="0.1279" stop-color="#4659fb"/><stop offset="0.1324" stop-color="#3079f7"/><stop offset="0.137" stop-color="#208ef4"/><stop offset="0.1416" stop-color="#169bf2"/><stop offset="0.1644" stop-color="#11a0f1"/><stop offset="0.242" stop-color="#149df1"/><stop offset="0.2648" stop-color="#218cf4"/><stop offset="0.2877" stop-color="#3c68f9"/><stop offset="0.3151" stop-color="#4856fb"/><stop offset="0.4612" stop-color="#5641fd"/><stop offset="0.5479" stop-color="#583efd"/><stop offset="0.9087" stop-color="#5247fc"/><stop offset="1" stop-color="#5247fc"/></linearGradient>
<linearGradient id="c23"><stop offset="0" stop-color="#5c38fd"/><stop offset="0.1187" stop-color="#5a3bfd"/><stop offset="0.1233" stop-color="#5444fd"/><stop offset="0.1279" stop-color="#445cfb"/><stop offset="0.1324" stop-color="#2981f6"/><stop offset="0.137" stop-color="#169bf2"/><stop offset="0.1416" stop-color="#0ca7ef"/><stop offset="0.1644" stop-color="#08acee"/><stop offset="0.2374" stop-color="#09a9ee"/><stop offset="0.2557" stop-color="#149df1"/><stop offset="0.2877" stop-color="#3c68f9"/><stop offset="0.3151" stop-color="#4856fb"/><stop offset="0.3744" stop-color="#4c50fc"/><stop offset="0.4658" stop-color="#5641fd"/><stop offset="1" stop-color="#504afc"/></linearGradient>
<linearGradient id="c24"><stop offset="0" stop-color="#5c38fd"/><stop offset="0.1187" stop-color="#5a3bfd"/><stop offset="0.1233" stop-color="#5247fc"/><stop offset="0.1279" stop-color="#4062fa"/><stop offset="0.1324" stop-color="#218cf4"/><stop offset="0.137" stop-color="#0ca7ef"/><stop offset="0.1416" stop-color="#04b0ed"/><stop offset="0.1689" stop-color="#00b5eb"/><stop offset="0.2374" stop-color="#01b3ec"/><stop offset="0.2603" stop-color="#11a0f1"/><stop offset="0.2831" stop-color="#386df9"/><stop offset="0.3014" stop-color="#445cfb"/><stop offset="0.4658" stop-color="#5444fd"/><stop offset="1" stop-color="#504afc"/></linearGradient>
<linearGradient id="c25"><stop offset="0" stop-color="#5c38fd"/><stop offset="0.1187" stop-color="#5a3bfd"/><stop offset="0.1233" stop-color="#5247fc"/><stop offset="0.1279" stop-color="#396bf9"/><stop offset="0.1324" stop-color="#1996f3"/><stop offset="0.137" stop-color="#04b0ed"/><stop offset="0.1416" stop-color="#04b9ea"/><stop offset="0.1872" stop-color="#08bee9"/><stop offset="0.2374" stop-color="#04b9ea"/><stop offset="0.2466" stop-color="#00b5eb"/><stop offset="0.2603" stop-color="#0ea5ef"/><stop offset="0.2877" stop-color="#3e65fa"/><stop offset="0.3059" stop-color="#4659fb"/><stop offset="0.3653" stop-color="#4856fb"/><stop offset="0.4566" stop-color="#5247fc"/><stop offset="0.5708" stop-color="#5444fd"/><stop offset="0.8265" stop-color="#4e4dfc"/><stop offset="1" stop-color="#4e4dfc"/></linearGradient>
<linearGradient id="c26"><stop offset="0" stop-color="#5c38fd"/><stop offset="0.1187" stop-color="#5a3bfd"/><stop offset="0.1233" stop-color="#504afc"/><stop offset="0.1279" stop-color="#3473f8"/><stop offset="0.1324" stop-color="#11a0f1"/><stop offset="0.137" stop-color="#02b7eb"/><stop offset="0.1416" stop-color="#0ac0e8"/><stop offset="0.2374" stop-color="#0ac0e8"/><stop offset="0.2511" stop-color="#02b7eb"/><stop offset="0.2603" stop-color="#09a9ee"/><stop offset="0.2831" stop-color="#386df9"/><stop offset="0.2968" stop-color="#445cfb"/><stop offset="0.3653" stop-color="#4659fb"/><stop offset="0.4749" stop-color="#5247fc"/><stop offset="0.9817" stop-color="#4a53fb"/><stop offset="1" stop-color="#4a53fb"/></linearGradient>
<linearGradient id="c27"><stop offset="0" stop-color="#5c38fd"/><stop offset="0.1142" stop-color="#5c38fd"/><stop offset="0.1187" stop-color="#583efd"/><stop offset="0.1233" stop-color="#4c50fc"/><stop offset="0.1279" stop-color="#2e7bf7"/><stop offset="0.1324" stop-color="#09a9ee"/><stop offset="0.137" stop-color="#08bee9"/><stop offset="0.1461" stop-color="#10c6e6"/><stop offset="0.2374" stop-color="#0fc4e7"/><stop offset="0.2511" stop-color="#07bbea"/><stop offset="0.2557" stop-color="#00b5eb"/><stop offset="0.2831" stop-color="#386df9"/><stop offset="0.2968" stop-color="#445cfb"/><stop offset="0.3288" stop-color="#4062fa"/><stop offset="0.4566" stop-color="#4e4dfc"/><stop offset="0.6347" stop-color="#4e4dfc"/><stop offset="0.8402" stop-color="#4856fb"/><stop offset="1" stop-color="#4856fb"/></linearGradient>
<linearGradient id="c28"><stop offset="0" stop-color="#5c38fd"/><stop offset="0.1142" stop-color="#5c38fd"/><stop offset="0.1187" stop-color="#583efd"/><stop offset="0.1233" stop-color="#4856fb"/><stop offset="0.1324" stop-color="#04b0ed"/><stop offset="0.137" stop-color="#0fc4e7"/><stop offset="0.1553" stop-color="#14cae5"/><stop offset="0.2374" stop-color="#12c8e6"/><stop offset="0.2557" stop-color="#02b7eb"/><stop offset="0.2648" stop-color="#0ea5ef"/><stop offset="0.2831" stop-color="#386df9"/><stop offset="0.2922" stop-color="#425ffa"/><stop offset="0.3196" stop-color="#3c68f9"/><stop offset="0.4658" stop-color="#4c50fc"/><stop offset="0.6575" stop-color="#4a53fb"/><stop offset="0.8493" stop-color="#445cfb"/><stop offset="1" stop-color="#445cfb"/></linearGradient>
<linearGradient id="c29"><stop offset="0" stop-color="#5c38fd"/><stop offset="0.1142" stop-color="#5a3bfd"/><stop offset="0.1187" stop-color="#5641fd"/><stop offset="0.1233" stop-color="#445cfb"/><stop offset="0.1279" stop-color="#1e91f3"/><stop offset="0.1324" stop-color="#04b9ea"/><stop offset="0.137" stop-color="#12c8e6"/><stop offset="0.1416" stop-color="#18cde4"/><stop offset="0.2374" stop-color="#17cbe4"/><stop offset="0.2557" stop-color="#07bbea"/><stop offset="0.2603" stop-color="#01b3ec"/><stop offset="0.2831" stop-color="#3670f8"/><stop offset="0.2877" stop-color="#396bf9"/><stop offset="0.3151" stop-color="#3670f8"/><stop offset="0.4475" stop-color="#4856fb"/><stop offset="0.6119" stop-color="#4856fb"/><stop offset="0.8128" stop-color="#4062fa"/><stop offset="1" stop-color="#3e65fa"/></linearGradient>
<linearGradient id="c30"><stop offset="0" stop-color="#5c38fd"/><stop offset="0.1142" stop-color="#5a3bfd"/><stop offset="0.1187" stop-color="#5444fd"/><stop offset="0.1233" stop-color="#3e65fa"/><stop offset="0.1279" stop-color="#169bf2"/><stop offset="0.1324" stop-color="#0ac0e8"/><stop offset="0.137" stop-color="#17cbe4"/><stop offset="0.1507" stop-color="#1dd1e2"/><stop offset="0.2329" stop-color="#1acfe3"/><stop offset="0.2511" stop-color="#10c6e6"/><stop offset="0.2603" stop-color="#00b5eb"/><stop offset="0.2785" stop-color="#2c7ef7"/><stop offset="0.3196" stop-color="#2c7ef7"/><stop offset="0.379" stop-color="#3c68f9"/><stop offset="0.484" stop-color="#4659fb"/><stop offset="0.6895" stop-color="#4062fa"/><stop offset="0.8447" stop-color="#396bf9"/><stop offset="1" stop-color="#396bf9"/></linearGradient>
<linearGradient id="c31"><stop offset="0" stop-color="#5c38fd"/><stop offset="0.1142" stop-color="#5a3bfd"/><stop offset="0.1187" stop-color="#5247fc"/><stop offset="0.1233" stop-color="#396bf9"/><stop offset="0.1279" stop-color="#10a2f0"/><stop offset="0.1324" stop-color="#0fc4e7"/><stop offset="0.137" stop-color="#1acfe3"/><stop offset="0.1507" stop-color="#1fd3e1"/><stop offset="0.2329" stop-color="#1dd1e2"/><stop offset="0.2511" stop-color="#12c8e6"/><stop offset="0.2603" stop-color="#02b7eb"/><stop offset="0.2648" stop-color="#08acee"/><stop offset="0.274" stop-color="#208ef4"/><stop offset="0.3059" stop-color="#1c93f3"/><stop offset="0.3653" stop-color="#3473f8"/><stop offset="0.4521" stop-color="#4062fa"/><stop offset="0.5845" stop-color="#4062fa"/><stop offset="0.8128" stop-color="#3473f8"/><stop offset="1" stop-color="#3176f8"/></linearGradient>
<linearGradient id="c32"><stop offset="0" stop-color="#5c38fd"/><stop offset="0.1096" stop-color="#5c38fd"/><stop offset="0.1142" stop-color="#583efd"/><stop offset="0.1187" stop-color="#4c50fc"/><stop offset="0.1279" stop-color="#09a9ee"/><stop offset="0.1324" stop-color="#12c8e6"/><stop offset="0.137" stop-color="#1dd1e2"/><stop offset="0.1918" stop-color="#21d5e1"/><stop offset="0.242" stop-color="#1acfe3"/><stop offset="0.2557" stop-color="#0dc2e8"/><stop offset="0.2603" stop-color="#04b9ea"/><stop offset="0.2648" stop-color="#08acee"/><stop offset="0.2694" stop-color="#0ca7ef"/><stop offset="0.3014" stop-color="#08acee"/><stop offset="0.3196" stop-color="#11a0f1"/><stop offset="0.3516" stop-color="#2884f6"/><stop offset="0.3881" stop-color="#3473f8"/><stop offset="0.4795" stop-color="#3c68f9"/><stop offset="0.5936" stop-color="#396bf9"/><stop offset="0.7945" stop-color="#2e7bf7"/><stop offset="1" stop-color="#2c7ef7"/></linearGradient>
<linearGradient id="c33"><stop offset="0" stop-color="#5c38fd"/><stop offset="0.1096" stop-color="#5c38fd"/><stop offset="0.1142" stop-color="#583efd"/><stop offset="0.1187" stop-color="#4659fb"/><stop offset="0.1233" stop-color="#1c93f3"/><stop offset="0.1279" stop-color="#06aeed"/><stop offset="0.1324" stop-color="#12c8e6"/><stop offset="0.1416" stop-color="#1fd3e1"/><stop offset="0.2329" stop-color="#1dd1e2"/><stop offset="0.2511" stop-color="#12c8e6"/><stop offset="0.2557" stop-color="#0ac0e8"/><stop offset="0.2922" stop-color="#0fc4e7"/><stop offset="0.3105" stop-color="#07bbea"/><stop offset="0.3196" stop-color="#01b3ec"/><stop offset="0.3516" stop-color="#218cf4"/><stop offset="0.3881" stop-color="#2e7bf7"/><stop offset="0.4703" stop-color="#3670f8"/><stop offset="0.5936" stop-color="#3473f8"/><stop offset="0.8037" stop-color="#2686f5"/><stop offset="1" stop-color="#2489f5"/></linearGradient>
<linearGradient id="c34"><stop offset="0" stop-color="#5c38fd"/><stop offset="0.1096" stop-color="#5c38fd"/><stop offset="0.1142" stop-color="#583efd"/><stop offset="0.1187" stop-color="#425ffa"/><stop offset="0.1233" stop-color="#0ca7ef"/><stop offset="0.1279" stop-color="#0fc4e7"/><stop offset="0.1461" stop-color="#1acfe3"/><stop offset="0.2374" stop-color="#1acfe3"/><stop offset="0.2831" stop-color="#24d8df"/><stop offset="0.3059" stop-color="#1acfe3"/><stop offset="0.3242" stop-color="#04b9ea"/><stop offset="0.3288" stop-color="#01b3ec"/><stop offset="0.3516" stop-color="#1996f3"/><stop offset="0.379" stop-color="#2686f5"/><stop offset="0.4566" stop-color="#3079f7"/><stop offset="0.5616" stop-color="#3079f7"/><stop offset="0.8037" stop-color="#1e91f3"/><stop offset="1" stop-color="#1c93f3"/></linearGradient>
<linearGradient id="c35"><stop offset="0" stop-color="#5c38fd"/><stop offset="0.1096" stop-color="#5c38fd"/><stop offset="0.1142" stop-color="#583efd"/><stop offset="0.1187" stop-color="#3e65fa"/><stop offset="0.1233" stop-color="#01b3ec"/><stop offset="0.1279" stop-color="#1dd1e2"/><stop offset="0.1416" stop-color="#27dade"/><stop offset="0.2146" stop-color="#27dade"/><stop offset="0.2694" stop-color="#34e4d9"/><stop offset="0.2968" stop-color="#31e1da"/><stop offset="0.3151" stop-color="#1fd3e1"/><stop offset="0.3333" stop-color="#02b7eb"/><stop offset="0.3425" stop-color="#09a9ee"/><stop offset="0.3607" stop-color="#1996f3"/><stop offset="0.4247" stop-color="#2884f6"/><stop offset="0.5251" stop-color="#2c7ef7"/><stop offset="0.8128" stop-color="#169bf2"/><stop offset="1" stop-color="#149df1"/></linearGradient>
<linearGradient id="c36"><stop offset="0" stop-color="#5c38fd"/><stop offset="0.1096" stop-color="#5c38fd"/><stop offset="0.1142" stop-color="#583efd"/><stop offset="0.1187" stop-color="#3c68f9"/><stop offset="0.1233" stop-color="#07bbea"/><stop offset="0.1279" stop-color="#27dade"/><stop offset="0.1324" stop-color="#2fe0db"/><stop offset="0.1598" stop-color="#34e4d9"/><stop offset="0.2009" stop-color="#31e1da"/><stop offset="0.2648" stop-color="#42edd3"/><stop offset="0.2922" stop-color="#3febd5"/><stop offset="0.3105" stop-color="#2fe0db"/><stop offset="0.3379" stop-color="#02b7eb"/><stop offset="0.3516" stop-color="#0ea5ef"/><stop offset="0.3836" stop-color="#1c93f3"/><stop offset="0.4703" stop-color="#2686f5"/><stop offset="0.5753" stop-color="#2489f5"/><stop offset="0.7854" stop-color="#10a2f0"/><stop offset="1" stop-color="#0ca7ef"/></linearGradient>
<linearGradient id="c37"><stop offset="0" stop-color="#5c38fd"/><stop offset="0.1096" stop-color="#5c38fd"/><stop offset="0.1142" stop-color="#583efd"/><stop offset="0.1187" stop-color="#396bf9"/><stop offset="0.1233" stop-color="#0dc2e8"/><stop offset="0.1279" stop-color="#2fe0db"/><stop offset="0.137" stop-color="#39e7d7"/><stop offset="0.1689" stop-color="#3ae8d6"/><stop offset="0.2055" stop-color="#3ae8d6"/><stop offset="0.2603" stop-color="#4df3ce"/><stop offset="0.2877" stop-color="#49f1d0"/><stop offset="0.3059" stop-color="#3ae8d6"/><stop offset="0.3242" stop-color="#1fd3e1"/><stop offset="0.3425" stop-color="#02b7eb"/><stop offset="0.3653" stop-color="#11a0f1"/><stop offset="0.4201" stop-color="#1e91f3"/><stop offset="0.516" stop-color="#218cf4"/><stop offset="0.8174" stop-color="#08acee"/><stop offset="1" stop-color="#06aeed"/></linearGradient>
<linearGradient id="c38"><stop offset="0" stop-color="#5c38fd"/><stop offset="0.1096" stop-color="#5c38fd"/><stop offset="0.1142" stop-color="#5641fd"/><stop offset="0.1187" stop-color="#386df9"/><stop offset="0.1233" stop-color="#10c6e6"/><stop offset="0.1279" stop-color="#32e3da"/><stop offset="0.137" stop-color="#3dead5"/><stop offset="0.1644" stop-color="#41ecd4"/><stop offset="0.2009" stop-color="#3febd5"/><stop offset="0.2557" stop-color="#52f5cb"/><stop offset="0.2877" stop-color="#4ff3cd"/><stop offset="0.3105" stop-color="#3ae8d6"/><stop offset="0.3425" stop-color="#04b9ea"/><stop offset="0.347" stop-color="#00b5eb"/><stop offset="0.3653" stop-color="#0ea5ef"/><stop offset="0.4018" stop-color="#1898f2"/><stop offset="0.484" stop-color="#1e91f3"/><stop offset="0.5936" stop-color="#1996f3"/><stop offset="0.7763" stop-color="#06aeed"/><stop offset="1" stop-color="#00b5eb"/></linearGradient>
<linearGradient id="c39"><stop offset="0" stop-color="#5c38fd"/><stop offset="0.1096" stop-color="#5c38fd"/><stop offset="0.1142" stop-color="#5641fd"/><stop offset="0.1187" stop-color="#386df9"/><stop offset="0.1233" stop-color="#10c6e6"/><stop offset="0.1279" stop-color="#34e4d9"/><stop offset="0.1324" stop-color="#3dead5"/><stop offset="0.1598" stop-color="#42edd3"/><stop offset="0.2055" stop-color="#42edd3"/><stop offset="0.2511" stop-color="#57f7ca"/><stop offset="0.2831" stop-color="#54f6cb"/><stop offset="0.3105" stop-color="#3dead5"/><stop offset="0.347" stop-color="#00b5eb"/><stop offset="0.3744" stop-color="#10a2f0"/><stop offset="0.4521" stop-color="#1c93f3"/><stop offset="0.5662" stop-color="#1996f3"/><stop offset="0.7945" stop-color="#01b3ec"/><stop offset="1" stop-color="#02b7eb"/></linearGradient>
<linearGradient id="c40"><stop offset="0" stop-color="#5c38fd"/><stop offset="0.1096" stop-color="#5c38fd"/><stop offset="0.1142" stop-color="#5641fd"/><stop offset="0.1187" stop-color="#3670f8"/><stop offset="0.1233" stop-color="#12c8e6"/><stop offset="0.1279" stop-color="#37e6d8"/><stop offset="0.1324" stop-color="#3febd5"/><stop offset="0.1689" stop-color="#44eed2"/><stop offset="0.1963" stop-color="#42edd3"/><stop offset="0.2511" stop-color="#59f8c9"/><stop offset="0.2831" stop-color="#54f6cb"/><stop offset="0.3014" stop-color="#49f1d0"/><stop offset="0.3196" stop-color="#2fe0db"/><stop offset="0.3425" stop-color="#07bbea"/><stop offset="0.3516" stop-color="#04b0ed"/><stop offset="0.3881" stop-color="#149df1"/><stop offset="0.4886" stop-color="#1c93f3"/><stop offset="0.5845" stop-color="#1898f2"/><stop offset="0.7763" stop-color="#01b3ec"/><stop offset="1" stop-color="#04b9ea"/></linearGradient>
<linearGradient id="c41"><stop offset="0" stop-color="#5c38fd"/><stop offset="0.1096" stop-color="#5c38fd"/><stop offset="0.1142" stop-color="#5641fd"/><stop offset="0.1187" stop-color="#3670f8"/><stop offset="0.1233" stop-color="#12c8e6"/><stop offset="0.1279" stop-color="#39e7d7"/><stop offset="0.137" stop-color="#42edd3"/><stop offset="0.1689" stop-color="#44eed2"/><stop offset="0.2009" stop-color="#44eed2"/><stop offset="0.2511" stop-color="#5af8c8"/><stop offset="0.2785" stop-color="#57f7ca"/><stop offset="0.3014" stop-color="#49f1d0"/><stop offset="0.3242" stop-color="#24d8df"/><stop offset="0.347" stop-color="#00b5eb"/><stop offset="0.3699" stop-color="#10a2f0"/><stop offset="0.4475" stop-color="#1c93f3"/><stop offset="0.5479" stop-color="#1c93f3"/><stop offset="0.7991" stop-color="#01b3ec"/><stop offset="1" stop-color="#02b7eb"/></linearGradient>
<linearGradient id="c42"><stop offset="0" stop-color="#5c38fd"/><stop offset="0.1096" stop-color="#5c38fd"/><stop offset="0.1142" stop-color="#5641fd"/><stop offset="0.1187" stop-color="#3670f8"/><stop offset="0.1233" stop-color="#14cae5"/><stop offset="0.1279" stop-color="#39e7d7"/><stop offset="0.1324" stop-color="#41ecd4"/><stop offset="0.1644" stop-color="#47efd1"/><stop offset="0.1963" stop-color="#44eed2"/><stop offset="0.2557" stop-color="#5af8c8"/><stop offset="0.2877" stop-color="#52f5cb"/><stop offset="0.3105" stop-color="#3ae8d6"/><stop offset="0.3379" stop-color="#0ac0e8"/><stop offset="0.3425" stop-color="#02b7eb"/><stop offset="0.347" stop-color="#01b3ec"/><stop offset="0.3607" stop-color="#0ea5ef"/><stop offset="0.3927" stop-color="#1898f2"/><stop offset="0.4932" stop-color="#208ef4"/><stop offset="0.6347" stop-color="#169bf2"/><stop offset="0.8128" stop-color="#04b0ed"/><stop offset="1" stop-color="#01b3ec"/></linearGradient>
<linearGradient id="c43"><stop offset="0" stop-color="#5c38fd"/><stop offset="0.1096" stop-color="#5c38fd"/><stop offset="0.1142" stop-color="#5641fd"/><stop offset="0.1187" stop-color="#3670f8"/><stop offset="0.1233" stop-color="#14cae5"/><stop offset="0.1279" stop-color="#39e7d7"/><stop offset="0.1324" stop-color="#41ecd4"/><stop offset="0.1644" stop-color="#47efd1"/><stop offset="0.1963" stop-color="#42edd3"/><stop offset="0.2511" stop-color="#59f8c9"/><stop offset="0.2877" stop-color="#51f4cc"/><stop offset="0.3105" stop-color="#39e7d7"/><stop offset="0.3379" stop-color="#07bbea"/><stop offset="0.3425" stop-color="#01b3ec"/><stop offset="0.3607" stop-color="#11a0f1"/><stop offset="0.3927" stop-color="#1c93f3"/><stop offset="0.4977" stop-color="#2489f5"/><stop offset="0.8128" stop-color="#09a9ee"/><stop offset="1" stop-color="#06aeed"/></linearGradient>
<linearGradient id="c44"><stop offset="0" stop-color="#5c38fd"/><stop offset="0.1096" stop-color="#5c38fd"/><stop offset="0.1142" stop-color="#5641fd"/><stop offset="0.1187" stop-color="#3670f8"/><stop offset="0.1233" stop-color="#12c8e6"/><stop offset="0.1279" stop-color="#39e7d7"/><stop offset="0.137" stop-color="#42edd3"/><stop offset="0.1689" stop-color="#44eed2"/><stop offset="0.2055" stop-color="#44eed2"/><stop offset="0.2557" stop-color="#57f7ca"/><stop offset="0.2831" stop-color="#51f4cc"/><stop offset="0.3014" stop-color="#41ecd4"/><stop offset="0.3196" stop-color="#24d8df"/><stop offset="0.3379" stop-color="#00b5eb"/><stop offset="0.3607" stop-color="#1898f2"/><stop offset="0.3973" stop-color="#218cf4"/><stop offset="0.5068" stop-color="#2884f6"/><stop offset="0.8174" stop-color="#10a2f0"/><stop offset="1" stop-color="#0ea5ef"/></linearGradient>
<linearGradient id="c45"><stop offset="0" stop-color="#5c38fd"/><stop offset="0.1096" stop-color="#5c38fd"/><stop offset="0.1142" stop-color="#5641fd"/><stop offset="0.1187" stop-color="#3670f8"/><stop offset="0.1233" stop-color="#12c8e6"/><stop offset="0.1279" stop-color="#37e6d8"/><stop offset="0.1324" stop-color="#3febd5"/><stop offset="0.1644" stop-color="#44eed2"/><stop offset="0.2009" stop-color="#42edd3"/><stop offset="0.2557" stop-color="#52f5cb"/><stop offset="0.2831" stop-color="#4df3ce"/><stop offset="0.3014" stop-color="#3dead5"/><stop offset="0.3151" stop-color="#29dbde"/><stop offset="0.3333" stop-color="#02b7eb"/><stop offset="0.3516" stop-color="#169bf2"/><stop offset="0.3699" stop-color="#218cf4"/><stop offset="0.4429" stop-color="#2c7ef7"/><stop offset="0.5845" stop-color="#2981f6"/><stop offset="0.7991" stop-color="#1898f2"/><stop offset="1" stop-color="#149df1"/></linearGradient>
<linearGradient id="c46"><stop offset="0" stop-color="#5c38fd"/><stop offset="0.1096" stop-color="#5c38fd"/><stop offset="0.1142" stop-color="#5641fd"/><stop offset="0.1187" stop-color="#386df9"/><stop offset="0.1233" stop-color="#10c6e6"/><stop offset="0.1279" stop-color="#32e3da"/><stop offset="0.137" stop-color="#3dead5"/><stop offset="0.1735" stop-color="#41ecd4"/><stop offset="0.2009" stop-color="#3febd5"/><stop offset="0.2557" stop-color="#4df3ce"/><stop offset="0.2831" stop-color="#47efd1"/><stop offset="0.3014" stop-color="#37e6d8"/><stop offset="0.3151" stop-color="#22d6e0"/><stop offset="0.3288" stop-color="#07bbea"/><stop offset="0.3333" stop-color="#04b0ed"/><stop offset="0.3516" stop-color="#1c93f3"/><stop offset="0.3699" stop-color="#2884f6"/><stop offset="0.4247" stop-color="#3079f7"/><stop offset="0.5845" stop-color="#3079f7"/><stop offset="0.7945" stop-color="#208ef4"/><stop offset="1" stop-color="#1e91f3"/></linearGradient>
<linearGradient id="c47"><stop offset="0" stop-color="#5c38fd"/><stop offset="0.1096" stop-color="#5a3bfd"/><stop offset="0.1142" stop-color="#5641fd"/><stop offset="0.1187" stop-color="#386df9"/><stop offset="0.1233" stop-color="#0ac0e8"/><stop offset="0.1279" stop-color="#2ddedc"/><stop offset="0.137" stop-color="#37e6d8"/><stop offset="0.1689" stop-color="#3ae8d6"/><stop offset="0.2055" stop-color="#39e7d7"/><stop offset="0.2603" stop-color="#44eed2"/><stop offset="0.2922" stop-color="#37e6d8"/><stop offset="0.3059" stop-color="#29dbde"/><stop offset="0.3242" stop-color="#08bee9"/><stop offset="0.3288" stop-color="#01b3ec"/><stop offset="0.347" stop-color="#1e91f3"/><stop offset="0.3653" stop-color="#2c7ef7"/><stop offset="0.4018" stop-color="#3473f8"/><stop offset="0.4977" stop-color="#386df9"/><stop offset="0.6712" stop-color="#3079f7"/><stop offset="0.8356" stop-color="#2686f5"/><stop offset="1" stop-color="#2686f5"/></linearGradient>
<linearGradient id="c48"><stop offset="0" stop-color="#5c38fd"/><stop offset="0.1096" stop-color="#5a3bfd"/><stop offset="0.1142" stop-color="#5444fd"/><stop offset="0.1187" stop-color="#396bf9"/><stop offset="0.1233" stop-color="#02b7eb"/><stop offset="0.1279" stop-color="#21d5e1"/><stop offset="0.1416" stop-color="#2adddd"/><stop offset="0.2192" stop-color="#31e1da"/><stop offset="0.2557" stop-color="#39e7d7"/><stop offset="0.2968" stop-color="#27dade"/><stop offset="0.3151" stop-color="#0fc4e7"/><stop offset="0.3242" stop-color="#01b3ec"/><stop offset="0.347" stop-color="#2686f5"/><stop offset="0.3699" stop-color="#3473f8"/><stop offset="0.4247" stop-color="#3c68f9"/><stop offset="0.5799" stop-color="#3c68f9"/><stop offset="0.8174" stop-color="#2e7bf7"/><stop offset="1" stop-color="#2c7ef7"/></linearGradient>
<linearGradient id="c49"><stop offset="0" stop-color="#5c38fd"/><stop offset="0.0959" stop-color="#5a3bfd"/><stop offset="0.1142" stop-color="#5444fd"/><stop offset="0.1187" stop-color="#3e65fa"/><stop offset="0.1233" stop-color="#0ea5ef"/><stop offset="0.1279" stop-color="#0ac0e8"/><stop offset="0.1416" stop-color="#14cae5"/><stop offset="0.2603" stop-color="#24d8df"/><stop offset="0.3014" stop-color="#0fc4e7"/><stop offset="0.3151" stop-color="#01b3ec"/><stop offset="0.3425" stop-color="#2884f6"/><stop offset="0.3607" stop-color="#3670f8"/><stop offset="0.4064" stop-color="#4062fa"/><stop offset="0.6073" stop-color="#4062fa"/><stop offset="0.8037" stop-color="#3670f8"/><stop offset="1" stop-color="#3473f8"/></linearGradient>
<linearGradient id="c50"><stop offset="0" stop-color="#5c38fd"/><stop offset="0.0822" stop-color="#5a3bfd"/><stop offset="0.1142" stop-color="#5247fc"/><stop offset="0.1187" stop-color="#445cfb"/><stop offset="0.1233" stop-color="#218cf4"/><stop offset="0.1279" stop-color="#11a0f1"/><stop offset="0.1461" stop-color="#06aeed"/><stop offset="0.1918" stop-color="#00b5eb"/><stop offset="0.2557" stop-color="#0dc2e8"/><stop offset="0.2877" stop-color="#01b3ec"/><stop offset="0.3151" stop-color="#169bf2"/><stop offset="0.3425" stop-color="#3079f7"/><stop offset="0.3607" stop-color="#3c68f9"/><stop offset="0.4292" stop-color="#4659fb"/><stop offset="0.6256" stop-color="#445cfb"/><stop offset="0.8082" stop-color="#3c68f9"/><stop offset="1" stop-color="#396bf9"/></linearGradient>
<linearGradient id="c51"><stop offset="0" stop-color="#5c38fd"/><stop offset="0.0776" stop-color="#5a3bfd"/><stop offset="0.1142" stop-color="#5247fc"/><stop offset="0.1187" stop-color="#4856fb"/><stop offset="0.1233" stop-color="#3670f8"/><stop offset="0.1279" stop-color="#2c7ef7"/><stop offset="0.1644" stop-color="#1c93f3"/><stop offset="0.2283" stop-color="#11a0f1"/><stop offset="0.2511" stop-color="#09a9ee"/><stop offset="0.3242" stop-color="#2e7bf7"/><stop offset="0.3562" stop-color="#4062fa"/><stop offset="0.411" stop-color="#4856fb"/><stop offset="0.6301" stop-color="#4856fb"/><stop offset="0.8493" stop-color="#4062fa"/><stop offset="1" stop-color="#4062fa"/></linearGradient>
<linearGradient id="c52"><stop offset="0" stop-color="#5c38fd"/><stop offset="0.0776" stop-color="#5a3bfd"/><stop offset="0.1142" stop-color="#5247fc"/><stop offset="0.1187" stop-color="#4e4dfc"/><stop offset="0.1233" stop-color="#445cfb"/><stop offset="0.1324" stop-color="#3c68f9"/><stop offset="0.1735" stop-color="#2e7bf7"/><stop offset="0.2374" stop-color="#218cf4"/><stop offset="0.2511" stop-color="#1c93f3"/><stop offset="0.3014" stop-color="#3176f8"/><stop offset="0.3653" stop-color="#4659fb"/><stop offset="0.4475" stop-color="#4e4dfc"/><stop offset="0.6758" stop-color="#4a53fb"/><stop offset="0.8813" stop-color="#445cfb"/><stop offset="1" stop-color="#445cfb"/></linearGradient>
<linearGradient id="c53"><stop offset="0" stop-color="#5c38fd"/><stop offset="0.0776" stop-color="#5a3bfd"/><stop offset="0.1187" stop-color="#504afc"/><stop offset="0.1507" stop-color="#4062fa"/><stop offset="0.2329" stop-color="#2e7bf7"/><stop offset="0.2557" stop-color="#2884f6"/><stop offset="0.2877" stop-color="#396bf9"/><stop offset="0.3836" stop-color="#4c50fc"/><stop offset="0.4749" stop-color="#504afc"/><stop offset="0.9361" stop-color="#4856fb"/><stop offset="1" stop-color="#4856fb"/></linearGradient>
<linearGradient id="c54"><stop offset="0" stop-color="#5c38fd"/><stop offset="0.0822" stop-color="#5a3bfd"/><stop offset="0.1324" stop-color="#4e4dfc"/><stop offset="0.1781" stop-color="#4062fa"/><stop offset="0.2283" stop-color="#386df9"/><stop offset="0.2511" stop-color="#3079f7"/><stop offset="0.2922" stop-color="#425ffa"/><stop offset="0.4018" stop-color="#504afc"/><stop offset="0.5936" stop-color="#5247fc"/><stop offset="0.8219" stop-color="#4c50fc"/><stop offset="1" stop-color="#4c50fc"/></linearGradient>
<linearGradient id="c55"><stop offset="0" stop-color="#5c38fd"/><stop offset="0.0822" stop-color="#5a3bfd"/><stop offset="0.137" stop-color="#504afc"/><stop offset="0.1781" stop-color="#445cfb"/><stop offset="0.2329" stop-color="#3c68f9"/><stop offset="0.2511" stop-color="#3473f8"/><stop offset="0.2922" stop-color="#4659fb"/><stop offset="0.4247" stop-color="#5444fd"/><stop offset="0.9361" stop-color="#4e4dfc"/><stop offset="1" stop-color="#4e4dfc"/></linearGradient>
<linearGradient id="c56"><stop offset="0" stop-color="#5c38fd"/><stop offset="0.0868" stop-color="#5a3bfd"/><stop offset="0.1461" stop-color="#504afc"/><stop offset="0.1872" stop-color="#4659fb"/><stop offset="0.2283" stop-color="#4062fa"/><stop offset="0.2557" stop-color="#386df9"/><stop offset="0.2785" stop-color="#4659fb"/><stop offset="0.4064" stop-color="#5444fd"/><stop offset="0.5571" stop-color="#5641fd"/><stop offset="0.8539" stop-color="#504afc"/><stop offset="1" stop-color="#504afc"/></linearGradient>
<linearGradient id="c57"><stop offset="0" stop-color="#5c38fd"/><stop offset="0.0868" stop-color="#5a3bfd"/><stop offset="0.1461" stop-color="#5247fc"/><stop offset="0.1781" stop-color="#4a53fb"/><stop offset="0.2329" stop-color="#425ffa"/><stop offset="0.2511" stop-color="#3c68f9"/><stop offset="0.2922" stop-color="#4c50fc"/><stop offset="0.4292" stop-color="#5641fd"/><stop offset="1" stop-color="#5247fc"/></linearGradient>
<linearGradient id="c58"><stop offset="0" stop-color="#5c38fd"/><stop offset="0.0913" stop-color="#5a3bfd"/><stop offset="0.1416" stop-color="#5444fd"/><stop offset="0.1963" stop-color="#4a53fb"/><stop offset="0.2283" stop-color="#4659fb"/><stop offset="0.2511" stop-color="#3e65fa"/><stop offset="0.2922" stop-color="#4e4dfc"/><stop offset="0.4429" stop-color="#583efd"/><stop offset="1" stop-color="#5247fc"/></linearGradient>
<linearGradient id="c59"><stop offset="0" stop-color="#5c38fd"/><stop offset="0.0913" stop-color="#5a3bfd"/><stop offset="0.1142" stop-color="#5641fd"/><stop offset="0.1279" stop-color="#583efd"/><stop offset="0.1918" stop-color="#4c50fc"/><stop offset="0.2283" stop-color="#4856fb"/><stop offset="0.2557" stop-color="#4062fa"/><stop offset="0.2922" stop-color="#504afc"/><stop offset="0.4429" stop-color="#583efd"/><stop offset="1" stop-color="#5444fd"/></linearGradient>
<linearGradient id="c60"><stop offset="0" stop-color="#5c38fd"/><stop offset="0.0959" stop-color="#5a3bfd"/><stop offset="0.1553" stop-color="#5444fd"/><stop offset="0.2283" stop-color="#4a53fb"/><stop offset="0.2511" stop-color="#425ffa"/><stop offset="0.2877" stop-color="#504afc"/><stop offset="0.411" stop-color="#583efd"/><stop offset="0.5297" stop-color="#5a3bfd"/><stop offset="0.9726" stop-color="#5444fd"/><stop offset="1" stop-color="#5444fd"/></linearGradient>
<linearGradient id="c61"><stop offset="0" stop-color="#5c38fd"/><stop offset="0.0959" stop-color="#5a3bfd"/><stop offset="0.137" stop-color="#583efd"/><stop offset="0.21" stop-color="#4e4dfc"/><stop offset="0.2283" stop-color="#4c50fc"/><stop offset="0.2557" stop-color="#445cfb"/><stop offset="0.2877" stop-color="#5247fc"/><stop offset="0.4475" stop-color="#5a3bfd"/><stop offset="1" stop-color="#5641fd"/></linearGradient>
<linearGradient id="c62"><stop offset="0" stop-color="#5c38fd"/><stop offset="0.1005" stop-color="#5a3bfd"/><stop offset="0.1461" stop-color="#583efd"/><stop offset="0.2237" stop-color="#4e4dfc"/><stop offset="0.2557" stop-color="#4659fb"/><stop offset="0.2922" stop-color="#5444fd"/><stop offset="0.4384" stop-color="#5a3bfd"/><stop offset="1" stop-color="#5641fd"/></linearGradient>
<linearGradient id="c63"><stop offset="0" stop-color="#5c38fd"/><stop offset="0.105" stop-color="#5a3bfd"/><stop offset="0.1507" stop-color="#583efd"/><stop offset="0.2283" stop-color="#504afc"/><stop offset="0.2511" stop-color="#4856fb"/><stop offset="0.2877" stop-color="#5444fd"/><stop offset="0.4155" stop-color="#5a3bfd"/><stop offset="0.5068" stop-color="#5c38fd"/><stop offset="0.8904" stop-color="#583efd"/><stop offset="1" stop-color="#583efd"/></linearGradient>
<linearGradient id="c64"><stop offset="0" stop-color="#5c38fd"/><stop offset="0.105" stop-color="#5a3bfd"/><stop offset="0.1142" stop-color="#583efd"/><stop offset="0.1279" stop-color="#5c38fd"/><stop offset="0.2329" stop-color="#504afc"/><stop offset="0.2511" stop-color="#4a53fb"/><stop offset="0.2922" stop-color="#5641fd"/><stop offset="0.4749" stop-color="#5c38fd"/><stop offset="1" stop-color="#583efd"/></linearGradient>
<linearGradient id="c65"><stop offset="0" stop-color="#5c38fd"/><stop offset="0.1461" stop-color="#5a3bfd"/><stop offset="0.2283" stop-color="#5247fc"/><stop offset="0.2557" stop-color="#4c50fc"/><stop offset="0.2968" stop-color="#583efd"/><stop offset="0.4749" stop-color="#5c38fd"/><stop offset="1" stop-color="#5a3bfd"/></linearGradient>
<linearGradient id="c66"><stop offset="0" stop-color="#5c38fd"/><stop offset="0.1553" stop-color="#5a3bfd"/><stop offset="0.2283" stop-color="#5444fd"/><stop offset="0.2511" stop-color="#4c50fc"/><stop offset="0.2922" stop-color="#583efd"/><stop offset="0.4429" stop-color="#5c38fd"/><stop offset="1" stop-color="#5a3bfd"/></linearGradient>
<linearGradient id="c67"><stop offset="0" stop-color="#5c38fd"/><stop offset="0.1644" stop-color="#5a3bfd"/><stop offset="0.2329" stop-color="#5444fd"/><stop offset="0.2511" stop-color="#4e4dfc"/><stop offset="0.2877" stop-color="#583efd"/><stop offset="0.4886" stop-color="#5e35fe"/><stop offset="1" stop-color="#5a3bfd"/></linearGradient>
<linearGradient id="c68"><stop offset="0" stop-color="#5c38fd"/><stop offset="0.1142" stop-color="#5a3bfd"/><stop offset="0.1279" stop-color="#5e35fe"/><stop offset="0.1918" stop-color="#583efd"/><stop offset="0.2283" stop-color="#5641fd"/><stop offset="0.2511" stop-color="#4e4dfc"/><stop offset="0.2877" stop-color="#5a3bfd"/><stop offset="0.5068" stop-color="#5e35fe"/><stop offset="1" stop-color="#5c38fd"/></linearGradient>
<linearGradient id="c69"><stop offset="0" stop-color="#5c38fd"/><stop offset="0.1142" stop-color="#5a3bfd"/><stop offset="0.1324" stop-color="#5e35fe"/><stop offset="0.2329" stop-color="#5641fd"/><stop offset="0.2511" stop-color="#504afc"/><stop offset="0.2877" stop-color="#5a3bfd"/><stop offset="0.4658" stop-color="#5e35fe"/><stop offset="1" stop-color="#5c38fd"/></linearGradient>
<linearGradient id="c70"><stop offset="0" stop-color="#5c38fd"/><stop offset="0.1142" stop-color="#5a3bfd"/><stop offset="0.1279" stop-color="#5e35fe"/><stop offset="0.2283" stop-color="#583efd"/><stop offset="0.2511" stop-color="#504afc"/><stop offset="0.2968" stop-color="#5c38fd"/><stop offset="0.7443" stop-color="#5e35fe"/><stop offset="0.9452" stop-color="#5c38fd"/><stop offset="1" stop-color="#5c38fd"/></linearGradient>
<linearGradient id="c71"><stop offset="0" stop-color="#5c38fd"/><stop offset="0.1142" stop-color="#5a3bfd"/><stop offset="0.1279" stop-color="#5e35fe"/><stop offset="0.2283" stop-color="#583efd"/><stop offset="0.2511" stop-color="#5247fc"/><stop offset="0.2922" stop-color="#5c38fd"/><stop offset="1" stop-color="#5e35fe"/></linearGradient>
<linearGradient id="c72"><stop offset="0" stop-color="#5c38fd"/><stop offset="0.1142" stop-color="#5a3bfd"/><stop offset="0.1279" stop-color="#5e35fe"/><stop offset="0.2329" stop-color="#583efd"/><stop offset="0.2557" stop-color="#5247fc"/><stop offset="0.2877" stop-color="#5c38fd"/><stop offset="0.5525" stop-color="#6032fe"/><stop offset="1" stop-color="#5e35fe"/></linearGradient>
<linearGradient id="c73"><stop offset="0" stop-color="#5c38fd"/><stop offset="0.1096" stop-color="#5a3bfd"/><stop offset="0.1324" stop-color="#5e35fe"/><stop offset="0.2283" stop-color="#5a3bfd"/><stop offset="0.2511" stop-color="#5444fd"/><stop offset="0.2922" stop-color="#5c38fd"/><stop offset="0.4795" stop-color="#6032fe"/><stop offset="1" stop-color="#5e35fe"/></linearGradient>
<linearGradient id="c74"><stop offset="0" stop-color="#5c38fd"/><stop offset="0.1096" stop-color="#5a3bfd"/><stop offset="0.1324" stop-color="#5e35fe"/><stop offset="0.2283" stop-color="#5a3bfd"/><stop offset="0.2511" stop-color="#5444fd"/><stop offset="0.2831" stop-color="#5c38fd"/><stop offset="0.4521" stop-color="#6032fe"/><stop offset="1" stop-color="#5e35fe"/></linearGradient>
<linearGradient id="c75"><stop offset="0" stop-color="#5c38fd"/><stop offset="0.1233" stop-color="#5e35fe"/><stop offset="0.1324" stop-color="#6032fe"/><stop offset="0.2329" stop-color="#5a3bfd"/><stop offset="0.2466" stop-color="#5641fd"/><stop offset="0.2694" stop-color="#583efd"/><stop offset="0.2922" stop-color="#5e35fe"/><stop offset="0.9224" stop-color="#6032fe"/><stop offset="1" stop-color="#5e35fe"/></linearGradient>
<linearGradient id="c76"><stop offset="0" stop-color="#5c38fd"/><stop offset="0.1233" stop-color="#5e35fe"/><stop offset="0.137" stop-color="#6032fe"/><stop offset="0.2329" stop-color="#5a3bfd"/><stop offset="0.2557" stop-color="#5641fd"/><stop offset="0.2968" stop-color="#5e35fe"/><stop offset="1" stop-color="#6032fe"/></linearGradient>
<linearGradient id="c77"><stop offset="0" stop-color="#5c38fd"/><stop offset="0.1233" stop-color="#5e35fe"/><stop offset="0.1416" stop-color="#6032fe"/><stop offset="0.2283" stop-color="#5c38fd"/><stop offset="0.2511" stop-color="#5641fd"/><stop offset="0.2922" stop-color="#5e35fe"/><stop offset="1" stop-color="#6032fe"/></linearGradient>
<linearGradient id="c78"><stop offset="0" stop-color="#5c38fd"/><stop offset="0.1233" stop-color="#5e35fe"/><stop offset="0.1461" stop-color="#6032fe"/><stop offset="0.2329" stop-color="#5c38fd"/><stop offset="0.2511" stop-color="#5641fd"/><stop offset="0.2922" stop-color="#5e35fe"/><stop offset="1" stop-color="#6032fe"/></linearGradient>
<linearGradient id="c79"><stop offset="0" stop-color="#5c38fd"/><stop offset="0.1233" stop-color="#5e35fe"/><stop offset="0.1553" stop-color="#6032fe"/><stop offset="0.2329" stop-color="#5c38fd"/><stop offset="0.2557" stop-color="#583efd"/><stop offset="0.2968" stop-color="#6032fe"/><stop offset="0.5845" stop-color="#622ffe"/><stop offset="0.7489" stop-color="#6032fe"/><stop offset="1" stop-color="#6032fe"/></linearGradient>
<linearGradient id="c80"><stop offset="0" stop-color="#5c38fd"/><stop offset="0.1187" stop-color="#5e35fe"/><stop offset="0.1644" stop-color="#6032fe"/><stop offset="0.2329" stop-color="#5c38fd"/><stop offset="0.2557" stop-color="#583efd"/><stop offset="0.2968" stop-color="#6032fe"/><stop offset="0.6712" stop-color="#622ffe"/><stop offset="0.8356" stop-color="#6032fe"/><stop offset="1" stop-color="#6032fe"/></linearGradient>
<linearGradient id="c81"><stop offset="0" stop-color="#5c38fd"/><stop offset="0.1187" stop-color="#5e35fe"/><stop offset="0.1735" stop-color="#6032fe"/><stop offset="0.2374" stop-color="#5c38fd"/><stop offset="0.2557" stop-color="#583efd"/><stop offset="0.2968" stop-color="#6032fe"/><stop offset="0.79" stop-color="#622ffe"/><stop offset="0.9543" stop-color="#6032fe"/><stop offset="1" stop-color="#6032fe"/></linearGradient>
<linearGradient id="c82"><stop offset="0" stop-color="#5c38fd"/><stop offset="0.1187" stop-color="#5e35fe"/><stop offset="0.1826" stop-color="#6032fe"/><stop offset="0.2374" stop-color="#5c38fd"/><stop offset="0.2557" stop-color="#583efd"/><stop offset="0.2877" stop-color="#6032fe"/><stop offset="1" stop-color="#622ffe"/></linearGradient>
<linearGradient id="c83"><stop offset="0" stop-color="#5c38fd"/><stop offset="0.1187" stop-color="#5e35fe"/><stop offset="0.1826" stop-color="#6032fe"/><stop offset="0.2374" stop-color="#5c38fd"/><stop offset="0.2557" stop-color="#583efd"/><stop offset="0.2877" stop-color="#6032fe"/><stop offset="1" stop-color="#622ffe"/></linearGradient>
<clipPath id="cc"><rect x="269.2" y="1050.5" width="654.7" height="654.5"/></clipPath>
<filter id="fc" x="-2%" y="-5%" width="104%" height="110%" color-interpolation-filters="sRGB"><feGaussianBlur stdDeviation="0 3"/></filter>
<linearGradient id="cbc" x1="0" y1="0" x2="0" y2="1"><stop offset="0" stop-color="#ff0000"/><stop offset="0.0312" stop-color="#ff160b"/><stop offset="0.0625" stop-color="#ff2f18"/><stop offset="0.0938" stop-color="#ff4724"/><stop offset="0.125" stop-color="#ff5f30"/><stop offset="0.1562" stop-color="#ff763d"/><stop offset="0.1875" stop-color="#ff8c49"/><stop offset="0.2188" stop-color="#ffa055"/><stop offset="0.25" stop-color="#ffb360"/><stop offset="0.2812" stop-color="#f1c46c"/><stop offset="0.3125" stop-color="#e1d377"/><stop offset="0.3438" stop-color="#d1e082"/><stop offset="0.375" stop-color="#c1eb8d"/><stop offset="0.4062" stop-color="#b1f397"/><stop offset="0.4375" stop-color="#a1faa1"/><stop offset="0.4688" stop-color="#91feab"/><stop offset="0.5" stop-color="#81ffb4"/><stop offset="0.5312" stop-color="#71febc"/><stop offset="0.5625" stop-color="#61fac5"/><stop offset="0.5938" stop-color="#51f4cc"/><stop offset="0.625" stop-color="#41ecd4"/><stop offset="0.6562" stop-color="#31e1da"/><stop offset="0.6875" stop-color="#21d5e1"/><stop offset="0.7188" stop-color="#10c6e6"/><stop offset="0.75" stop-color="#00b5eb"/><stop offset="0.7812" stop-color="#10a2f0"/><stop offset="0.8125" stop-color="#208ef4"/><stop offset="0.8438" stop-color="#3079f7"/><stop offset="0.875" stop-color="#4062fa"/><stop offset="0.9062" stop-color="#504afc"/><stop offset="0.9375" stop-color="#6032fe"/><stop offset="0.9688" stop-color="#7019ff"/><stop offset="1" stop-color="#8000ff"/></linearGradient>
<clipPath id="cd"><rect x="1316.6" y="1043.7" width="654.2" height="668.6"/></clipPath>
</defs>
<rect width="2125" height="1896" fill="#fff"/>
<g clip-path="url(#ca)"><g filter="url(#fa)"><rect x="269" y="24.04" width="654.8" height="8.78" fill="url(#a0)"/><rect x="269" y="32.22" width="654.8" height="8.78" fill="url(#a1)"/><rect x="269" y="40.40" width="654.8" height="8.78" fill="url(#a2)"/><rect x="269" y="48.58" width="654.8" height="8.78" fill="url(#a3)"/><rect x="269" y="56.76" width="654.8" height="8.78" fill="url(#a4)"/><rect x="269" y="64.94" width="654.8" height="8.78" fill="url(#a5)"/><rect x="269" y="73.12" width="654.8" height="8.78" fill="url(#a6)"/><rect x="269" y="81.30" width="654.8" height="8.78" fill="url(#a7)"/><rect x="269" y="89.48" width="654.8" height="8.78" fill="url(#a8)"/><rect x="269" y="97.66" width="654.8" height="8.78" fill="url(#a9)"/><rect x="269" y="105.84" width="654.8" height="8.78" fill="url(#a10)"/><rect x="269" y="114.02" width="654.8" height="8.78" fill="url(#a11)"/><rect x="269" y="122.20" width="654.8" height="8.78" fill="url(#a12)"/><rect x="269" y="130.38" width="654.8" height="8.78" fill="url(#a13)"/><rect x="269" y="138.56" width="654.8" height="8.78" fill="url(#a14)"/><rect x="269" y="146.74" width="654.8" height="8.78" fill="url(#a15)"/><rect x="269" y="154.92" width="654.8" height="8.78" fill="url(#a16)"/><rect x="269" y="163.10" width="654.8" height="8.78" fill="url(#a17)"/><rect x="269" y="171.28" width="654.8" height="8.78" fill="url(#a18)"/><rect x="269" y="179.46" width="654.8" height="8.78" fill="url(#a19)"/><rect x="269" y="187.64" width="654.8" height="8.78" fill="url(#a20)"/><rect x="269" y="195.82" width="654.8" height="8.78" fill="url(#a21)"/><rect x="269" y="204.00" width="654.8" height="8.78" fill="url(#a22)"/><rect x="269" y="212.18" width="654.8" height="8.78" fill="url(#a23)"/><rect x="269" y="220.36" width="654.8" height="8.78" fill="url(#a24)"/><rect x="269" y="228.54" width="654.8" height="8.78" fill="url(#a25)"/><rect x="269" y="236.72" width="654.8" height="8.78" fill="url(#a26)"/><rect x="269" y="244.90" width="654.8" height="8.78" fill="url(#a27)"/><rect x="269" y="253.08" width="654.8" height="8.78" fill="url(#a28)"/><rect x="269" y="261.26" width="654.8" height="8.78" fill="url(#a29)"/><rect x="269" y="269.44" width="654.8" height="8.78" fill="url(#a30)"/><rect x="269" y="277.62" width="654.8" height="8.78" fill="url(#a31)"/><rect x="269" y="285.80" width="654.8" height="8.78" fill="url(#a32)"/><rect x="269" y="293.98" width="654.8" height="8.78" fill="url(#a33)"/><rect x="269" y="302.16" width="654.8" height="8.78" fill="url(#a34)"/><rect x="269" y="310.34" width="654.8" height="8.78" fill="url(#a35)"/><rect x="269" y="318.52" width="654.8" height="8.78" fill="url(#a36)"/><rect x="269" y="326.70" width="654.8" height="8.78" fill="url(#a37)"/><rect x="269" y="334.88" width="654.8" height="8.78" fill="url(#a38)"/><rect x="269" y="343.06" width="654.8" height="8.78" fill="url(#a39)"/><rect x="269" y="351.24" width="654.8" height="8.78" fill="url(#a40)"/><rect x="269" y="359.42" width="654.8" height="8.78" fill="url(#a41)"/><rect x="269" y="367.60" width="654.8" height="8.78" fill="url(#a42)"/><rect x="269" y="375.78" width="654.8" height="8.78" fill="url(#a43)"/><rect x="269" y="383.96" width="654.8" height="8.78" fill="url(#a44)"/><rect x="269" y="392.14" width="654.8" height="8.78" fill="url(#a45)"/><rect x="269" y="400.32" width="654.8" height="8.78" fill="url(#a46)"/><rect x="269" y="408.50" width="654.8" height="8.78" fill="url(#a47)"/><rect x="269" y="416.68" width="654.8" height="8.78" fill="url(#a48)"/><rect x="269" y="424.86" width="654.8" height="8.78" fill="url(#a49)"/><rect x="269" y="433.04" width="654.8" height="8.78" fill="url(#a50)"/><rect x="269" y="441.22" width="654.8" height="8.78" fill="url(#a51)"/><rect x="269" y="449.40" width="654.8" height="8.78" fill="url(#a52)"/><rect x="269" y="457.58" width="654.8" height="8.78" fill="url(#a53)"/><rect x="269" y="465.76" width="654.8" height="8.78" fill="url(#a54)"/><rect x="269" y="473.94" width="654.8" height="8.78" fill="url(#a55)"/><rect x="269" y="482.12" width="654.8" height="8.78" fill="url(#a56)"/><rect x="269" y="490.30" width="654.8" height="8.78" fill="url(#a57)"/><rect x="269" y="498.48" width="654.8" height="8.78" fill="url(#a58)"/><rect x="269" y="506.66" width="654.8" height="8.78" fill="url(#a59)"/><rect x="269" y="514.84" width="654.8" height="8.78" fill="url(#a60)"/><rect x="269" y="523.02" width="654.8" height="8.78" fill="url(#a61)"/><rect x="269" y="531.20" width="654.8" height="8.78" fill="url(#a62)"/><rect x="269" y="539.38" width="654.8" height="8.78" fill="url(#a63)"/><rect x="269" y="547.56" width="654.8" height="8.78" fill="url(#a64)"/><rect x="269" y="555.74" width="654.8" height="8.78" fill="url(#a65)"/><rect x="269" y="563.92" width="654.8" height="8.78" fill="url(#a66)"/><rect x="269" y="572.10" width="654.8" height="8.78" fill="url(#a67)"/><rect x="269" y="580.28" width="654.8" height="8.78" fill="url(#a68)"/><rect x="269" y="588.46" width="654.8" height="8.78" fill="url(#a69)"/><rect x="269" y="596.64" width="654.8" height="8.78" fill="url(#a70)"/><rect x="269" y="604.82" width="654.8" height="8.78" fill="url(#a71)"/><rect x="269" y="613.00" width="654.8" height="8.78" fill="url(#a72)"/><rect x="269" y="621.18" width="654.8" height="8.78" fill="url(#a73)"/><rect x="269" y="629.36" width="654.8" height="8.78" fill="url(#a74)"/><rect x="269" y="637.54" width="654.8" height="8.78" fill="url(#a75)"/><rect x="269" y="645.72" width="654.8" height="8.78" fill="url(#a76)"/><rect x="269" y="653.90" width="654.8" height="8.78" fill="url(#a77)"/><rect x="269" y="662.08" width="654.8" height="8.78" fill="url(#a78)"/><rect x="269" y="670.26" width="654.8" height="8.78" fill="url(#a79)"/><rect x="269" y="678.44" width="654.8" height="8.78" fill="url(#a80)"/><rect x="269" y="686.62" width="654.8" height="8.78" fill="url(#a81)"/><rect x="269" y="694.80" width="654.8" height="8.78" fill="url(#a82)"/><rect x="269" y="702.98" width="654.8" height="8.78" fill="url(#a83)"/></g>
<rect x="317.4" y="62.7" width="3" height="12" rx="1.2" fill="#2f8cf6" opacity="0.7"/>
<rect x="288.7" y="57.4" width="3" height="10" rx="1.2" fill="#5a5cfb" opacity="0.6"/>
<rect x="380" y="158" width="3" height="9" rx="1.2" fill="#a8f59c" opacity="0.7"/>
<rect x="375.5" y="165.5" width="3" height="9" rx="1.2" fill="#9df7a3" opacity="0.6"/>
<rect x="429.7" y="219.5" width="3" height="9" rx="1.2" fill="#48eed2" opacity="0.7"/>
<rect x="386.4" y="195.3" width="2.5" height="8" rx="1.2" fill="#3ad6e0" opacity="0.5"/>
<rect x="488" y="528.3" width="4" height="12" rx="1.2" fill="#25a8ee" opacity="0.8"/>
<rect x="492" y="540.5" width="3" height="9" rx="1.2" fill="#3c7cf7" opacity="0.6"/>
<rect x="683.3" y="287.9" width="3" height="12" rx="1.2" fill="#1fb0ec" opacity="0.8"/>
<rect x="703.5" y="411.4" width="3.5" height="13" rx="1.2" fill="#1fb0ec" opacity="0.8"/>
<rect x="882.8" y="402.1" width="3" height="10" rx="1.2" fill="#6be6d2" opacity="0.8"/>
<rect x="910.9" y="209.7" width="3" height="12" rx="1.2" fill="#3c7cf7" opacity="0.7"/>
<rect x="805.7" y="202" width="3" height="9" rx="1.2" fill="#5a5cfb" opacity="0.6"/>
<rect x="610.5" y="246.2" width="3" height="9" rx="1.2" fill="#5a5cfb" opacity="0.6"/>
<rect x="469.1" y="459.9" width="3" height="9" rx="1.2" fill="#5a5cfb" opacity="0.5"/>
<rect x="382.9" y="588.7" width="3" height="9" rx="1.2" fill="#2f9cf2" opacity="0.5"/>
<path d="M306.8 304.9V430.3" stroke="#f00" stroke-width="8.6" fill="none"/>
<path d="M272.6 304.9H928.8M272.6 430.3H928.8" stroke="#ffb6c1" stroke-width="8.6" fill="none"/>
</g>
<rect x="269" y="40.4" width="654.8" height="654.4" fill="none" stroke="#000" stroke-width="3.8"/>
<text class="t" x="255.6" y="58.2" text-anchor="end">10</text>
<text class="t" x="255.6" y="221.8" text-anchor="end">5</text>
<text class="t" x="255.6" y="385.4" text-anchor="end">0</text>
<text class="t" x="255.6" y="549" text-anchor="end">−5</text>
<text class="t" x="255.6" y="712.6" text-anchor="end">−10</text>
<path d="M269 40.4h-6.9M269 204h-6.9M269 367.6h-6.9M269 531.2h-6.9M269 694.8h-6.9" stroke="#000" stroke-width="3.2" fill="none"/>
<text class="t" x="305.4" y="743.8" text-anchor="middle">0</text>
<text class="t" x="487.3" y="743.8" text-anchor="middle">25</text>
<text class="t" x="669.2" y="743.8" text-anchor="middle">50</text>
<text class="t" x="851" y="743.8" text-anchor="middle">75</text>
<path d="M305.4 694.8v6.9M487.3 694.8v6.9M669.2 694.8v6.9M851 694.8v6.9" stroke="#000" stroke-width="3.2" fill="none"/>
<text class="t" x="599" y="795.8" text-anchor="middle"><tspan class="i">x</tspan>, mm</text>
<text class="t" x="153" y="365.2" text-anchor="middle" transform="rotate(-90 153 365.2)"><tspan class="i">y</tspan>, mm</text>
<rect x="949.7" y="43.3" width="31.4" height="610" fill="url(#cba)" stroke="#1a1a1a" stroke-opacity="0.75" stroke-width="1.7"/>
<text class="t" x="993.7" y="670.8">0.0</text>
<text class="t" x="993.7" y="518.3">0.2</text>
<text class="t" x="993.7" y="365.8">0.4</text>
<text class="t" x="993.7" y="213.3">0.6</text>
<text class="t" x="993.7" y="60.8">0.8</text>
<path d="M981.1 653.3h6.7M981.1 500.8h6.7M981.1 348.3h6.7M981.1 195.8h6.7M981.1 43.3h6.7" stroke="#222" stroke-opacity="0.8" stroke-width="1.7" fill="none"/>
<g clip-path="url(#cb)"><path d="M1310 694.6L1344 694.6L1348.5 692.5L1351.2 686L1353.3 674.3L1355.5 644.9L1356.9 615.5L1358.4 586.1L1359.8 556.7L1361.8 527.3L1364.7 497.8L1367.6 472.4L1371.6 444.9L1376.5 419.4L1380.2 397L1384.3 370.2L1390.2 344.7L1395.1 319.2L1401 301.6L1406.9 283.9L1409.8 262.4L1413.7 242.7L1418.6 231L1421.6 211.4L1424.5 193.7L1429.4 180L1433.3 158.4L1437.3 147.6L1439.6 145.7L1442.2 158.4L1444.1 187.8L1445.5 217.3L1447.5 246.7L1449 276.1L1450.6 305.5L1452.5 334.9L1455.9 364.3L1459.8 385.9L1462.6 397L1465.7 413.5L1469.6 433.1L1475.5 454.7L1480.4 476.3L1485.3 497.8L1490.6 519.4L1497.1 541L1502 560.6L1506.9 580.2L1512.7 601.8L1518.6 621.4L1524.5 639L1531.4 654.7L1539.2 670.4L1548 682.2L1556.9 689.3L1564 692.4L1572 694L1585 694.6L1800 694.6L1803.5 693.5L1806.9 690.2L1810.3 693.5L1814 694.6L1980 694.6" stroke="#1f77b4" stroke-width="7.5" fill="none" stroke-linejoin="round" stroke-linecap="butt"/></g>
<rect x="1316.6" y="40.4" width="654.4" height="654.4" fill="none" stroke="#000" stroke-width="3.8"/>
<text class="t" x="1303.2" y="712.6" text-anchor="end">0.0</text>
<text class="t" x="1303.2" y="619.1" text-anchor="end">0.1</text>
<text class="t" x="1303.2" y="525.6" text-anchor="end">0.2</text>
<text class="t" x="1303.2" y="432.1" text-anchor="end">0.3</text>
<text class="t" x="1303.2" y="338.7" text-anchor="end">0.4</text>
<text class="t" x="1303.2" y="245.2" text-anchor="end">0.5</text>
<text class="t" x="1303.2" y="151.7" text-anchor="end">0.6</text>
<text class="t" x="1303.2" y="58.2" text-anchor="end">0.7</text>
<path d="M1316.6 694.8h-6.9M1316.6 601.3h-6.9M1316.6 507.8h-6.9M1316.6 414.3h-6.9M1316.6 320.9h-6.9M1316.6 227.4h-6.9M1316.6 133.9h-6.9M1316.6 40.4h-6.9" stroke="#000" stroke-width="3.2" fill="none"/>
<text class="t" x="1357.5" y="743.8" text-anchor="middle">0</text>
<text class="t" x="1439.3" y="743.8" text-anchor="middle">10</text>
<text class="t" x="1521.1" y="743.8" text-anchor="middle">20</text>
<text class="t" x="1602.9" y="743.8" text-anchor="middle">30</text>
<text class="t" x="1684.7" y="743.8" text-anchor="middle">40</text>
<text class="t" x="1766.5" y="743.8" text-anchor="middle">50</text>
<text class="t" x="1848.3" y="743.8" text-anchor="middle">60</text>
<text class="t" x="1930.1" y="743.8" text-anchor="middle">70</text>
<path d="M1357.5 694.8v6.9M1439.3 694.8v6.9M1521.1 694.8v6.9M1602.9 694.8v6.9M1684.7 694.8v6.9M1766.5 694.8v6.9M1848.3 694.8v6.9M1930.1 694.8v6.9" stroke="#000" stroke-width="3.2" fill="none"/>
<text class="t" x="1984.4" y="712.6">0</text>
<text class="t" x="1984.4" y="582.8">5</text>
<text class="t" x="1984.4" y="453.1">10</text>
<text class="t" x="1984.4" y="323.3">15</text>
<text class="t" x="1984.4" y="193.6">20</text>
<text class="t" x="1984.4" y="63.8">25</text>
<path d="M1971 694.8h6.9M1971 565h6.9M1971 435.3h6.9M1971 305.5h6.9M1971 175.8h6.9M1971 46h6.9" stroke="#000" stroke-width="3.2" fill="none"/>
<text class="t" x="1643.8" y="808.4" text-anchor="middle">beam offset, mm</text>
<text class="t" x="1202.4" y="367.6" text-anchor="middle" transform="rotate(-90 1202.4 367.6)">normalized intensity</text>
<text class="t" x="2098" y="368.6" text-anchor="middle" transform="rotate(-90 2098 368.6)">dose, mGy/frame</text>
<g clip-path="url(#cc)"><g filter="url(#fc)"><rect x="269.2" y="1034.14" width="654.7" height="8.78" fill="url(#c0)"/><rect x="269.2" y="1042.32" width="654.7" height="8.78" fill="url(#c1)"/><rect x="269.2" y="1050.50" width="654.7" height="8.78" fill="url(#c2)"/><rect x="269.2" y="1058.68" width="654.7" height="8.78" fill="url(#c3)"/><rect x="269.2" y="1066.86" width="654.7" height="8.78" fill="url(#c4)"/><rect x="269.2" y="1075.04" width="654.7" height="8.78" fill="url(#c5)"/><rect x="269.2" y="1083.22" width="654.7" height="8.78" fill="url(#c6)"/><rect x="269.2" y="1091.41" width="654.7" height="8.78" fill="url(#c7)"/><rect x="269.2" y="1099.59" width="654.7" height="8.78" fill="url(#c8)"/><rect x="269.2" y="1107.77" width="654.7" height="8.78" fill="url(#c9)"/><rect x="269.2" y="1115.95" width="654.7" height="8.78" fill="url(#c10)"/><rect x="269.2" y="1124.13" width="654.7" height="8.78" fill="url(#c11)"/><rect x="269.2" y="1132.31" width="654.7" height="8.78" fill="url(#c12)"/><rect x="269.2" y="1140.49" width="654.7" height="8.78" fill="url(#c13)"/><rect x="269.2" y="1148.67" width="654.7" height="8.78" fill="url(#c14)"/><rect x="269.2" y="1156.86" width="654.7" height="8.78" fill="url(#c15)"/><rect x="269.2" y="1165.04" width="654.7" height="8.78" fill="url(#c16)"/><rect x="269.2" y="1173.22" width="654.7" height="8.78" fill="url(#c17)"/><rect x="269.2" y="1181.40" width="654.7" height="8.78" fill="url(#c18)"/><rect x="269.2" y="1189.58" width="654.7" height="8.78" fill="url(#c19)"/><rect x="269.2" y="1197.76" width="654.7" height="8.78" fill="url(#c20)"/><rect x="269.2" y="1205.94" width="654.7" height="8.78" fill="url(#c21)"/><rect x="269.2" y="1214.12" width="654.7" height="8.78" fill="url(#c22)"/><rect x="269.2" y="1222.31" width="654.7" height="8.78" fill="url(#c23)"/><rect x="269.2" y="1230.49" width="654.7" height="8.78" fill="url(#c24)"/><rect x="269.2" y="1238.67" width="654.7" height="8.78" fill="url(#c25)"/><rect x="269.2" y="1246.85" width="654.7" height="8.78" fill="url(#c26)"/><rect x="269.2" y="1255.03" width="654.7" height="8.78" fill="url(#c27)"/><rect x="269.2" y="1263.21" width="654.7" height="8.78" fill="url(#c28)"/><rect x="269.2" y="1271.39" width="654.7" height="8.78" fill="url(#c29)"/><rect x="269.2" y="1279.58" width="654.7" height="8.78" fill="url(#c30)"/><rect x="269.2" y="1287.76" width="654.7" height="8.78" fill="url(#c31)"/><rect x="269.2" y="1295.94" width="654.7" height="8.78" fill="url(#c32)"/><rect x="269.2" y="1304.12" width="654.7" height="8.78" fill="url(#c33)"/><rect x="269.2" y="1312.30" width="654.7" height="8.78" fill="url(#c34)"/><rect x="269.2" y="1320.48" width="654.7" height="8.78" fill="url(#c35)"/><rect x="269.2" y="1328.66" width="654.7" height="8.78" fill="url(#c36)"/><rect x="269.2" y="1336.84" width="654.7" height="8.78" fill="url(#c37)"/><rect x="269.2" y="1345.03" width="654.7" height="8.78" fill="url(#c38)"/><rect x="269.2" y="1353.21" width="654.7" height="8.78" fill="url(#c39)"/><rect x="269.2" y="1361.39" width="654.7" height="8.78" fill="url(#c40)"/><rect x="269.2" y="1369.57" width="654.7" height="8.78" fill="url(#c41)"/><rect x="269.2" y="1377.75" width="654.7" height="8.78" fill="url(#c42)"/><rect x="269.2" y="1385.93" width="654.7" height="8.78" fill="url(#c43)"/><rect x="269.2" y="1394.11" width="654.7" height="8.78" fill="url(#c44)"/><rect x="269.2" y="1402.29" width="654.7" height="8.78" fill="url(#c45)"/><rect x="269.2" y="1410.47" width="654.7" height="8.78" fill="url(#c46)"/><rect x="269.2" y="1418.66" width="654.7" height="8.78" fill="url(#c47)"/><rect x="269.2" y="1426.84" width="654.7" height="8.78" fill="url(#c48)"/><rect x="269.2" y="1435.02" width="654.7" height="8.78" fill="url(#c49)"/><rect x="269.2" y="1443.20" width="654.7" height="8.78" fill="url(#c50)"/><rect x="269.2" y="1451.38" width="654.7" height="8.78" fill="url(#c51)"/><rect x="269.2" y="1459.56" width="654.7" height="8.78" fill="url(#c52)"/><rect x="269.2" y="1467.74" width="654.7" height="8.78" fill="url(#c53)"/><rect x="269.2" y="1475.92" width="654.7" height="8.78" fill="url(#c54)"/><rect x="269.2" y="1484.11" width="654.7" height="8.78" fill="url(#c55)"/><rect x="269.2" y="1492.29" width="654.7" height="8.78" fill="url(#c56)"/><rect x="269.2" y="1500.47" width="654.7" height="8.78" fill="url(#c57)"/><rect x="269.2" y="1508.65" width="654.7" height="8.78" fill="url(#c58)"/><rect x="269.2" y="1516.83" width="654.7" height="8.78" fill="url(#c59)"/><rect x="269.2" y="1525.01" width="654.7" height="8.78" fill="url(#c60)"/><rect x="269.2" y="1533.19" width="654.7" height="8.78" fill="url(#c61)"/><rect x="269.2" y="1541.38" width="654.7" height="8.78" fill="url(#c62)"/><rect x="269.2" y="1549.56" width="654.7" height="8.78" fill="url(#c63)"/><rect x="269.2" y="1557.74" width="654.7" height="8.78" fill="url(#c64)"/><rect x="269.2" y="1565.92" width="654.7" height="8.78" fill="url(#c65)"/><rect x="269.2" y="1574.10" width="654.7" height="8.78" fill="url(#c66)"/><rect x="269.2" y="1582.28" width="654.7" height="8.78" fill="url(#c67)"/><rect x="269.2" y="1590.46" width="654.7" height="8.78" fill="url(#c68)"/><rect x="269.2" y="1598.64" width="654.7" height="8.78" fill="url(#c69)"/><rect x="269.2" y="1606.83" width="654.7" height="8.78" fill="url(#c70)"/><rect x="269.2" y="1615.01" width="654.7" height="8.78" fill="url(#c71)"/><rect x="269.2" y="1623.19" width="654.7" height="8.78" fill="url(#c72)"/><rect x="269.2" y="1631.37" width="654.7" height="8.78" fill="url(#c73)"/><rect x="269.2" y="1639.55" width="654.7" height="8.78" fill="url(#c74)"/><rect x="269.2" y="1647.73" width="654.7" height="8.78" fill="url(#c75)"/><rect x="269.2" y="1655.91" width="654.7" height="8.78" fill="url(#c76)"/><rect x="269.2" y="1664.09" width="654.7" height="8.78" fill="url(#c77)"/><rect x="269.2" y="1672.28" width="654.7" height="8.78" fill="url(#c78)"/><rect x="269.2" y="1680.46" width="654.7" height="8.78" fill="url(#c79)"/><rect x="269.2" y="1688.64" width="654.7" height="8.78" fill="url(#c80)"/><rect x="269.2" y="1696.82" width="654.7" height="8.78" fill="url(#c81)"/><rect x="269.2" y="1705.00" width="654.7" height="8.78" fill="url(#c82)"/><rect x="269.2" y="1713.18" width="654.7" height="8.78" fill="url(#c83)"/></g>
<rect x="581.4" y="1055" width="2.2" height="76" rx="1.2" fill="#2f9cf2" opacity="0.55"/>
<rect x="581.5" y="1112" width="3.5" height="7" rx="1.2" fill="#c8b87a" opacity="0.9"/>
<rect x="673.5" y="1116.2" width="3.5" height="6" rx="1.2" fill="#b9a0a0" opacity="0.8"/>
<rect x="543.3" y="1084.7" width="4" height="10" rx="1.2" fill="#2f9cf2" opacity="0.8"/>
<rect x="477.5" y="1153.5" width="4" height="9" rx="1.2" fill="#35c8e8" opacity="0.85"/>
<rect x="482" y="1159" width="4" height="9" rx="1.2" fill="#35c8e8" opacity="0.8"/>
<rect x="821.8" y="1153.2" width="3" height="13" rx="1.2" fill="#4fe0d8" opacity="0.85"/>
<rect x="858.6" y="1146.5" width="3" height="8" rx="1.2" fill="#2fb4ec" opacity="0.8"/>
<rect x="748.5" y="1251.2" width="7" height="12" rx="1.2" fill="#2fb4ec" opacity="0.8"/>
<rect x="818.9" y="1267.5" width="3" height="9" rx="1.2" fill="#4fe0d8" opacity="0.8"/>
<rect x="883.5" y="1273.5" width="3.5" height="8" rx="1.2" fill="#4fe0d8" opacity="0.8"/>
<rect x="841.3" y="1189.9" width="3" height="8" rx="1.2" fill="#2f9cf2" opacity="0.7"/>
<rect x="561.4" y="1170" width="2.5" height="16" rx="1.2" fill="#2f9cf2" opacity="0.6"/>
<rect x="352.6" y="1140.3" width="2.5" height="13" rx="1.2" fill="#2f9cf2" opacity="0.6"/>
<rect x="305.6" y="1088.4" width="2.5" height="10" rx="1.2" fill="#3c7cf7" opacity="0.6"/>
<rect x="321.1" y="1064.1" width="3" height="7" rx="1.2" fill="#3c7cf7" opacity="0.6"/>
<rect x="895.5" y="1063.6" width="3" height="8" rx="1.2" fill="#2f9cf2" opacity="0.7"/>
<rect x="901.2" y="1094.4" width="2.5" height="9" rx="1.2" fill="#3c7cf7" opacity="0.6"/>
<rect x="584.3" y="1375" width="3" height="9" rx="1.2" fill="#6ef5c8" opacity="0.8"/>
<rect x="747.5" y="1365.9" width="3" height="11" rx="1.2" fill="#52e6d4" opacity="0.7"/>
<rect x="452.9" y="1454.7" width="3" height="10" rx="1.2" fill="#4fe0d8" opacity="0.7"/>
<rect x="612.2" y="1493.4" width="2.5" height="10" rx="1.2" fill="#2f9cf2" opacity="0.6"/>
<rect x="859.2" y="1574.2" width="4" height="14" rx="1.2" fill="#35c8e8" opacity="0.8"/>
<rect x="852" y="1594.8" width="3" height="6" rx="1.2" fill="#2f9cf2" opacity="0.7"/>
<rect x="506.6" y="1652.6" width="6" height="6" rx="1.2" fill="#2fb4ec" opacity="0.9"/>
<rect x="326.6" y="1594.8" width="3" height="6" rx="1.2" fill="#3c7cf7" opacity="0.6"/>
<rect x="457.3" y="1605.9" width="3" height="6" rx="1.2" fill="#3c7cf7" opacity="0.6"/>
<rect x="727.4" y="1689.2" width="4" height="5" rx="1.2" fill="#3c7cf7" opacity="0.7"/>
<rect x="696.9" y="1628.3" width="2.5" height="9" rx="1.2" fill="#3c7cf7" opacity="0.5"/>
<rect x="910.2" y="1645.8" width="3" height="7" rx="1.2" fill="#2f9cf2" opacity="0.7"/>
<rect x="570" y="1610" width="6" height="30" rx="1.2" fill="#7a1cff" opacity="0.45"/>
<rect x="399.1" y="1236.5" width="3" height="8" rx="1.2" fill="#b4f08c" opacity="0.7"/>
<rect x="402.7" y="1274.5" width="3" height="10" rx="1.2" fill="#8cf5b0" opacity="0.6"/>
<rect x="543.2" y="1274.5" width="3" height="6" rx="1.2" fill="#35c8e8" opacity="0.6"/>
<rect x="382.9" y="1128" width="2.5" height="9" rx="1.2" fill="#2f9cf2" opacity="0.5"/>
<rect x="398.8" y="1365.5" width="2.5" height="9" rx="1.2" fill="#a0f59c" opacity="0.6"/>
<rect x="420.5" y="1341.5" width="3" height="7" rx="1.2" fill="#b4f08c" opacity="0.6"/>
<path d="M307 1315.1V1440.4" stroke="#f00" stroke-width="8.6" fill="none"/>
<path d="M272.8 1315.1H928.9M272.8 1440.4H928.9" stroke="#ffb6c1" stroke-width="8.6" fill="none"/>
</g>
<rect x="269.2" y="1050.5" width="654.7" height="654.5" fill="none" stroke="#000" stroke-width="3.8"/>
<text class="t" x="255.8" y="1068.3" text-anchor="end">10</text>
<text class="t" x="255.8" y="1231.9" text-anchor="end">5</text>
<text class="t" x="255.8" y="1395.5" text-anchor="end">0</text>
<text class="t" x="255.8" y="1559.2" text-anchor="end">−5</text>
<text class="t" x="255.8" y="1722.8" text-anchor="end">−10</text>
<path d="M269.2 1050.5h-6.9M269.2 1214.1h-6.9M269.2 1377.8h-6.9M269.2 1541.4h-6.9M269.2 1705h-6.9" stroke="#000" stroke-width="3.2" fill="none"/>
<text class="t" x="305.6" y="1754" text-anchor="middle">0</text>
<text class="t" x="487.4" y="1754" text-anchor="middle">25</text>
<text class="t" x="669.3" y="1754" text-anchor="middle">50</text>
<text class="t" x="851.2" y="1754" text-anchor="middle">75</text>
<path d="M305.6 1705v6.9M487.4 1705v6.9M669.3 1705v6.9M851.2 1705v6.9" stroke="#000" stroke-width="3.2" fill="none"/>
<text class="t" x="319.8" y="1028.2" text-anchor="middle">50</text>
<text class="t" x="399.9" y="1028.2" text-anchor="middle">10</text>
<text class="t" x="487" y="1028.2" text-anchor="middle">5</text>
<text class="t" x="749" y="1028.2" text-anchor="middle">2</text>
<path d="M319.8 1050.5v-6.1M399.9 1050.5v-6.1M487 1050.5v-6.1M749 1050.5v-6.1" stroke="#000" stroke-width="3.2" fill="none"/>
<text class="t" x="596.5" y="963.9" text-anchor="middle">energy, MeV</text>
<text class="t" x="599.1" y="1806" text-anchor="middle"><tspan class="i">x</tspan>, mm</text>
<text class="t" x="153" y="1375.3" text-anchor="middle" transform="rotate(-90 153 1375.3)"><tspan class="i">y</tspan>, mm</text>
<rect x="949.7" y="1053.6" width="31.4" height="609.9" fill="url(#cbc)" stroke="#1a1a1a" stroke-opacity="0.75" stroke-width="1.7"/>
<text class="t" x="993.7" y="1681">0.00</text>
<text class="t" x="993.7" y="1528.5">0.05</text>
<text class="t" x="993.7" y="1376">0.10</text>
<text class="t" x="993.7" y="1223.6">0.15</text>
<text class="t" x="993.7" y="1071.1">0.20</text>
<path d="M981.1 1663.5h6.7M981.1 1511h6.7M981.1 1358.5h6.7M981.1 1206.1h6.7M981.1 1053.6h6.7" stroke="#222" stroke-opacity="0.8" stroke-width="1.7" fill="none"/>
<g clip-path="url(#cd)"><path d="M1337 1030L1337.6 1044.7L1338.2 1079L1339.2 1128L1340.2 1177.1L1341.2 1226.1L1343.1 1275.1L1345.1 1314.3L1346.3 1340L1347.1 1379.2L1349 1418.4L1350.6 1447.8L1352 1467.5L1353.2 1478.5L1353.9 1481.5L1354.8 1478.5L1356.9 1467.5L1360.8 1447.8L1364.3 1422.4L1367.1 1398.8L1369.6 1373.3L1371.9 1345L1373.5 1314.3L1376.5 1284.9L1379.4 1259.4L1383.3 1237.8L1387.3 1224.1L1390.2 1220.6L1393.7 1226.1L1397.1 1239.8L1401 1261.4L1404.9 1282.9L1408.4 1304.5L1411.4 1324.1L1414.2 1345L1416.7 1365.5L1420 1391L1423.5 1416.5L1427.5 1438L1431.8 1459.6L1436.3 1479.2L1442.2 1498.8L1450 1518.4L1458.8 1538L1468.6 1555.7L1480 1573.7L1499.6 1601.2L1519.2 1623.7L1538.8 1642.4L1558.4 1657.1L1578 1668.8L1597.6 1677.6L1617.3 1685L1636.9 1690.9L1656.5 1695.8L1680 1700.2L1696.1 1703L1720.6 1705.4L1745.1 1707.3L1794.1 1709L1867.6 1710.5L1980 1711.2" stroke="#1f77b4" stroke-width="7.5" fill="none" stroke-linejoin="round" stroke-linecap="butt"/></g>
<rect x="1316.6" y="1043.7" width="654.2" height="668.6" fill="none" stroke="#000" stroke-width="3.8"/>
<text class="t" x="1303.2" y="1730.1" text-anchor="end">0.0</text>
<text class="t" x="1303.2" y="1596.4" text-anchor="end">0.1</text>
<text class="t" x="1303.2" y="1462.7" text-anchor="end">0.2</text>
<text class="t" x="1303.2" y="1328.9" text-anchor="end">0.3</text>
<text class="t" x="1303.2" y="1195.2" text-anchor="end">0.4</text>
<text class="t" x="1303.2" y="1061.5" text-anchor="end">0.5</text>
<path d="M1316.6 1712.3h-6.9M1316.6 1578.6h-6.9M1316.6 1444.9h-6.9M1316.6 1311.1h-6.9M1316.6 1177.4h-6.9M1316.6 1043.7h-6.9" stroke="#000" stroke-width="3.2" fill="none"/>
<text class="t" x="1436.8" y="1761.3" text-anchor="middle">10</text>
<text class="t" x="1570.3" y="1761.3" text-anchor="middle">20</text>
<text class="t" x="1703.8" y="1761.3" text-anchor="middle">30</text>
<text class="t" x="1837.3" y="1761.3" text-anchor="middle">40</text>
<text class="t" x="1970.8" y="1761.3" text-anchor="middle">50</text>
<path d="M1436.8 1712.3v6.9M1570.3 1712.3v6.9M1703.8 1712.3v6.9M1837.3 1712.3v6.9M1970.8 1712.3v6.9" stroke="#000" stroke-width="3.2" fill="none"/>
<text class="t" x="1643.7" y="1828.2" text-anchor="middle">energy, MeV</text>
<text class="t" x="1202.4" y="1378.4" text-anchor="middle" transform="rotate(-90 1202.4 1378.4)">normalized intensity per MeV</text>
<text class="p" x="19.5" y="885.5">(a)</text>
<text class="p" x="1037.5" y="885.8">(b)</text>
<text class="p" x="20.5" y="1862.3">(c)</text>
<text class="p" x="1037.5" y="1862.5">(d)</text>
</svg>
</body>
</html>
